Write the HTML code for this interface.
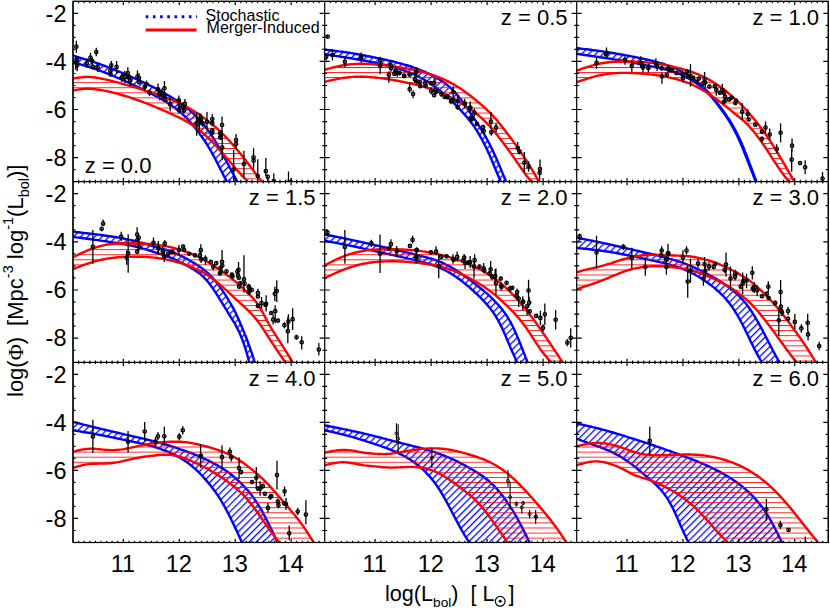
<!DOCTYPE html>
<html><head><meta charset="utf-8"><title>Luminosity functions</title>
<style>html,body{margin:0;padding:0;background:#fff;}body{width:830px;height:608px;position:relative;overflow:hidden;font-family:"Liberation Sans",sans-serif;}</style></head>
<body>
<svg width="830" height="608" viewBox="0 0 830 608" style="position:absolute;left:0;top:0">
<defs>
<pattern id="hb" patternUnits="userSpaceOnUse" width="5" height="5" patternTransform="rotate(-45) translate(0,3.8)"><line x1="-1" y1="0.5" x2="20" y2="0.5" stroke="#0000ff" stroke-width="1.55"/></pattern>
<pattern id="hr" patternUnits="userSpaceOnUse" width="5.06" height="5.06" patternTransform="translate(0,1.3)"><line x1="-1" y1="0.5" x2="20" y2="0.5" stroke="#ff0000" stroke-width="0.85" stroke-opacity="1"/></pattern>
<clipPath id="c00"><rect x="73" y="1.4" width="251.7" height="180.2"/></clipPath>
<clipPath id="c01"><rect x="324.7" y="1.4" width="252" height="180.2"/></clipPath>
<clipPath id="c02"><rect x="576.7" y="1.4" width="251.6" height="180.2"/></clipPath>
<clipPath id="c10"><rect x="73" y="181.6" width="251.7" height="180.7"/></clipPath>
<clipPath id="c11"><rect x="324.7" y="181.6" width="252" height="180.7"/></clipPath>
<clipPath id="c12"><rect x="576.7" y="181.6" width="251.6" height="180.7"/></clipPath>
<clipPath id="c20"><rect x="73" y="362.3" width="251.7" height="180.2"/></clipPath>
<clipPath id="c21"><rect x="324.7" y="362.3" width="252" height="180.2"/></clipPath>
<clipPath id="c22"><rect x="576.7" y="362.3" width="251.6" height="180.2"/></clipPath>
</defs>
<rect width="830" height="608" fill="#fff"/>
<g clip-path="url(#c00)">
<polygon points="63.8,52.9 65.4,53.3 67,53.8 68.6,54.3 70.2,54.8 71.8,55.2 73.4,55.7 75,56.2 76.6,56.7 78.1,57.1 79.7,57.6 81.3,58.1 82.9,58.6 84.5,59.1 86.1,59.6 87.6,60 89.2,60.5 90.8,61 92.4,61.6 93.9,62.1 95.5,62.6 97,63.1 98.6,63.7 100.1,64.2 101.7,64.8 103.2,65.3 104.7,65.9 106.3,66.5 107.8,67.1 109.3,67.6 110.8,68.2 112.3,68.8 113.8,69.4 115.3,70.1 116.9,70.7 118.4,71.3 119.8,71.9 121.3,72.5 122.8,73.2 124.3,73.8 125.8,74.4 127.3,75.1 128.8,75.7 130.3,76.4 131.8,77 133.2,77.7 134.7,78.3 136.2,79 137.7,79.6 139.1,80.3 140.6,81 142,81.7 143.5,82.4 145,83 146.4,83.7 147.9,84.4 149.3,85.2 150.7,85.9 152.2,86.6 153.6,87.3 155.1,88 156.5,88.8 157.9,89.5 159.3,90.3 160.7,91 162.1,91.8 163.5,92.6 164.9,93.4 166.3,94.2 167.7,95 169.1,95.8 170.4,96.6 171.8,97.5 173.2,98.3 174.5,99.2 175.9,100 177.2,100.9 178.5,101.8 179.8,102.7 181.1,103.7 182.4,104.6 183.7,105.6 185,106.5 186.3,107.5 187.5,108.5 188.8,109.6 190,110.6 191.2,111.7 192.4,112.7 193.6,113.8 194.8,115 196,116.1 197.2,117.3 198.3,118.5 199.4,119.7 200.5,120.9 201.6,122.2 202.7,123.4 203.8,124.8 204.9,126.1 205.9,127.4 206.9,128.8 208,130.2 209,131.6 210,133 211,134.4 211.9,135.9 212.9,137.4 213.9,138.9 214.8,140.4 215.7,141.9 216.7,143.4 217.6,145 218.5,146.5 219.4,148.1 220.3,149.7 221.2,151.3 222,152.9 222.9,154.5 223.8,156.2 224.7,157.8 225.5,159.4 226.4,161.1 227.2,162.7 228.1,164.4 229,166 229.8,167.6 230.7,169.3 231.6,170.9 232.4,172.5 233.3,174.1 234.2,175.8 235.1,177.4 236,179 236.8,180.6 237.7,182.2 238.6,183.8 239.5,185.4 240.4,187 241.3,188.6 242.1,190.2 243,191.8 243.9,193.4 244.8,195 245.7,196.6 246.6,198.2 247.4,199.8 248.3,201.4 249.2,203 250.1,204.7 251,206.3 251.9,207.9 252.7,209.5 253.6,211.1 254.5,212.7 255.4,214.3 256.3,215.9 257.2,217.5 258.1,219.1 258.9,220.7 259.8,222.3 260.7,223.9 261.6,225.5 251.5,227.2 250.6,225.6 249.7,224 248.8,222.3 248,220.7 247.1,219.1 246.2,217.5 245.3,215.8 244.5,214.2 243.6,212.6 242.7,211 241.9,209.4 241,207.7 240.1,206.1 239.2,204.5 238.4,202.9 237.5,201.3 236.6,199.6 235.7,198 234.9,196.4 234,194.8 233.1,193.2 232.2,191.5 231.4,189.9 230.5,188.3 229.6,186.7 228.7,185 227.9,183.4 227,181.8 226.1,180.2 225.3,178.6 224.4,176.9 223.5,175.3 222.7,173.6 221.8,172 221,170.3 220.1,168.6 219.3,166.9 218.5,165.3 217.6,163.6 216.8,161.9 215.9,160.3 215.1,158.6 214.2,157 213.3,155.4 212.4,153.8 211.6,152.2 210.7,150.6 209.7,149 208.8,147.5 207.9,146 207,144.4 206,143 205,141.5 204.1,140 203.1,138.6 202.1,137.2 201.1,135.8 200,134.4 199,133 198,131.6 197,130.3 195.9,128.9 194.9,127.6 193.8,126.3 192.7,125 191.6,123.7 190.5,122.4 189.4,121.2 188.3,119.9 187.2,118.7 186,117.6 184.9,116.4 183.7,115.3 182.5,114.2 181.3,113.1 180,112 178.8,111 177.5,110 176.3,109 175,108 173.7,107.1 172.4,106.1 171.1,105.2 169.8,104.3 168.4,103.5 167.1,102.6 165.7,101.7 164.3,100.9 163,100.1 161.6,99.3 160.2,98.5 158.8,97.7 157.4,96.9 156,96.2 154.6,95.4 153.2,94.7 151.7,93.9 150.3,93.2 148.9,92.5 147.4,91.7 146,91 144.6,90.3 143.1,89.6 141.7,88.9 140.2,88.2 138.8,87.5 137.3,86.8 135.9,86.1 134.4,85.4 133,84.7 131.5,84.1 130,83.4 128.6,82.7 127.1,82 125.6,81.4 124.1,80.7 122.7,80 121.2,79.4 119.7,78.7 118.2,78.1 116.7,77.5 115.3,76.8 113.8,76.2 112.3,75.6 110.8,74.9 109.3,74.3 107.8,73.7 106.2,73.1 104.7,72.5 103.2,71.9 101.7,71.4 100.1,70.8 98.6,70.3 97.1,69.7 95.5,69.2 94,68.6 92.4,68.1 90.8,67.6 89.3,67.1 87.7,66.6 86.1,66.1 84.5,65.6 82.9,65.1 81.3,64.7 79.8,64.2 78.2,63.7 76.6,63.2 75,62.8 73.4,62.3 71.8,61.8 70.2,61.4 68.6,60.9 67,60.4 65.4,60 63.8,59.5" fill="url(#hb)" stroke="none"/>
<polyline points="63.8,52.9 65.4,53.3 67,53.8 68.6,54.3 70.2,54.8 71.8,55.2 73.4,55.7 75,56.2 76.6,56.7 78.1,57.1 79.7,57.6 81.3,58.1 82.9,58.6 84.5,59.1 86.1,59.6 87.6,60 89.2,60.5 90.8,61 92.4,61.6 93.9,62.1 95.5,62.6 97,63.1 98.6,63.7 100.1,64.2 101.7,64.8 103.2,65.3 104.7,65.9 106.3,66.5 107.8,67.1 109.3,67.6 110.8,68.2 112.3,68.8 113.8,69.4 115.3,70.1 116.9,70.7 118.4,71.3 119.8,71.9 121.3,72.5 122.8,73.2 124.3,73.8 125.8,74.4 127.3,75.1 128.8,75.7 130.3,76.4 131.8,77 133.2,77.7 134.7,78.3 136.2,79 137.7,79.6 139.1,80.3 140.6,81 142,81.7 143.5,82.4 145,83 146.4,83.7 147.9,84.4 149.3,85.2 150.7,85.9 152.2,86.6 153.6,87.3 155.1,88 156.5,88.8 157.9,89.5 159.3,90.3 160.7,91 162.1,91.8 163.5,92.6 164.9,93.4 166.3,94.2 167.7,95 169.1,95.8 170.4,96.6 171.8,97.5 173.2,98.3 174.5,99.2 175.9,100 177.2,100.9 178.5,101.8 179.8,102.7 181.1,103.7 182.4,104.6 183.7,105.6 185,106.5 186.3,107.5 187.5,108.5 188.8,109.6 190,110.6 191.2,111.7 192.4,112.7 193.6,113.8 194.8,115 196,116.1 197.2,117.3 198.3,118.5 199.4,119.7 200.5,120.9 201.6,122.2 202.7,123.4 203.8,124.8 204.9,126.1 205.9,127.4 206.9,128.8 208,130.2 209,131.6 210,133 211,134.4 211.9,135.9 212.9,137.4 213.9,138.9 214.8,140.4 215.7,141.9 216.7,143.4 217.6,145 218.5,146.5 219.4,148.1 220.3,149.7 221.2,151.3 222,152.9 222.9,154.5 223.8,156.2 224.7,157.8 225.5,159.4 226.4,161.1 227.2,162.7 228.1,164.4 229,166 229.8,167.6 230.7,169.3 231.6,170.9 232.4,172.5 233.3,174.1 234.2,175.8 235.1,177.4 236,179 236.8,180.6 237.7,182.2 238.6,183.8 239.5,185.4 240.4,187 241.3,188.6 242.1,190.2 243,191.8 243.9,193.4 244.8,195 245.7,196.6 246.6,198.2 247.4,199.8 248.3,201.4 249.2,203 250.1,204.7 251,206.3 251.9,207.9 252.7,209.5 253.6,211.1 254.5,212.7 255.4,214.3 256.3,215.9 257.2,217.5 258.1,219.1 258.9,220.7 259.8,222.3 260.7,223.9 261.6,225.5" fill="none" stroke="#0000ff" stroke-width="2.4" stroke-linejoin="round"/>
<polyline points="63.8,59.5 65.4,60 67,60.4 68.6,60.9 70.2,61.4 71.8,61.8 73.4,62.3 75,62.8 76.6,63.2 78.2,63.7 79.8,64.2 81.3,64.7 82.9,65.1 84.5,65.6 86.1,66.1 87.7,66.6 89.3,67.1 90.8,67.6 92.4,68.1 94,68.6 95.5,69.2 97.1,69.7 98.6,70.3 100.1,70.8 101.7,71.4 103.2,71.9 104.7,72.5 106.2,73.1 107.8,73.7 109.3,74.3 110.8,74.9 112.3,75.6 113.8,76.2 115.3,76.8 116.7,77.5 118.2,78.1 119.7,78.7 121.2,79.4 122.7,80 124.1,80.7 125.6,81.4 127.1,82 128.6,82.7 130,83.4 131.5,84.1 133,84.7 134.4,85.4 135.9,86.1 137.3,86.8 138.8,87.5 140.2,88.2 141.7,88.9 143.1,89.6 144.6,90.3 146,91 147.4,91.7 148.9,92.5 150.3,93.2 151.7,93.9 153.2,94.7 154.6,95.4 156,96.2 157.4,96.9 158.8,97.7 160.2,98.5 161.6,99.3 163,100.1 164.3,100.9 165.7,101.7 167.1,102.6 168.4,103.5 169.8,104.3 171.1,105.2 172.4,106.1 173.7,107.1 175,108 176.3,109 177.5,110 178.8,111 180,112 181.3,113.1 182.5,114.2 183.7,115.3 184.9,116.4 186,117.6 187.2,118.7 188.3,119.9 189.4,121.2 190.5,122.4 191.6,123.7 192.7,125 193.8,126.3 194.9,127.6 195.9,128.9 197,130.3 198,131.6 199,133 200,134.4 201.1,135.8 202.1,137.2 203.1,138.6 204.1,140 205,141.5 206,143 207,144.4 207.9,146 208.8,147.5 209.7,149 210.7,150.6 211.6,152.2 212.4,153.8 213.3,155.4 214.2,157 215.1,158.6 215.9,160.3 216.8,161.9 217.6,163.6 218.5,165.3 219.3,166.9 220.1,168.6 221,170.3 221.8,172 222.7,173.6 223.5,175.3 224.4,176.9 225.3,178.6 226.1,180.2 227,181.8 227.9,183.4 228.7,185 229.6,186.7 230.5,188.3 231.4,189.9 232.2,191.5 233.1,193.2 234,194.8 234.9,196.4 235.7,198 236.6,199.6 237.5,201.3 238.4,202.9 239.2,204.5 240.1,206.1 241,207.7 241.9,209.4 242.7,211 243.6,212.6 244.5,214.2 245.3,215.8 246.2,217.5 247.1,219.1 248,220.7 248.8,222.3 249.7,224 250.6,225.6 251.5,227.2" fill="none" stroke="#0000ff" stroke-width="2.4" stroke-linejoin="round"/>
<polygon points="61.2,80.6 63.3,80.3 65.4,79.9 67.5,79.5 69.7,79.1 71.8,78.8 73.9,78.4 76,78 78.1,77.7 80.2,77.4 82.2,77.2 84.2,77 86.1,76.9 88,76.9 89.9,76.9 91.7,77.1 93.5,77.3 95.2,77.5 96.9,77.8 98.6,78.1 100.3,78.4 102,78.7 103.7,79.1 105.3,79.4 107,79.8 108.6,80.2 110.3,80.6 111.9,81 113.5,81.4 115.1,81.8 116.8,82.2 118.4,82.7 120,83.1 121.6,83.6 123.2,84 124.8,84.5 126.4,84.9 128,85.4 129.6,85.8 131.2,86.3 132.8,86.8 134.4,87.2 136,87.7 137.6,88.2 139.2,88.6 140.8,89.1 142.4,89.6 143.9,90.1 145.5,90.6 147.1,91.1 148.7,91.5 150.3,92 151.8,92.5 153.4,93 155,93.6 156.5,94.1 158.1,94.6 159.7,95.1 161.2,95.7 162.7,96.2 164.3,96.8 165.8,97.3 167.3,97.9 168.9,98.5 170.4,99.1 171.9,99.7 173.4,100.4 174.9,101 176.3,101.7 177.8,102.3 179.3,103 180.7,103.7 182.1,104.4 183.6,105.2 185,105.9 186.4,106.7 187.8,107.4 189.2,108.2 190.6,109 192,109.9 193.3,110.7 194.7,111.5 196,112.4 197.4,113.3 198.7,114.2 200,115.1 201.3,116 202.6,116.9 203.9,117.9 205.2,118.8 206.5,119.8 207.8,120.8 209,121.8 210.3,122.8 211.5,123.8 212.8,124.8 214,125.9 215.2,126.9 216.5,128 217.7,129.1 218.9,130.2 220,131.3 221.2,132.4 222.4,133.6 223.6,134.7 224.7,135.9 225.9,137.1 227,138.3 228.2,139.5 229.3,140.7 230.4,141.9 231.5,143.2 232.6,144.4 233.7,145.7 234.8,146.9 235.9,148.2 237,149.5 238.1,150.8 239.1,152.1 240.2,153.4 241.3,154.7 242.3,156.1 243.4,157.4 244.4,158.8 245.5,160.1 246.5,161.5 247.5,162.8 248.6,164.2 249.6,165.5 250.6,166.9 251.7,168.3 252.7,169.6 253.7,171 254.8,172.4 255.8,173.7 256.8,175.1 257.9,176.5 258.9,177.9 259.9,179.2 261,180.6 262,182 263,183.3 264,184.7 265.1,186.1 266.1,187.5 267.1,188.8 268.2,190.2 269.2,191.6 270.2,193 271.2,194.3 272.3,195.7 273.3,197.1 274.3,198.5 275.4,199.8 276.4,201.2 277.4,202.6 278.4,203.9 279.5,205.3 280.5,206.7 281.5,208.1 282.6,209.4 283.6,210.8 284.6,212.2 285.6,213.6 286.7,214.9 287.7,216.3 288.7,217.7 289.8,219 279.6,214 278.4,212.8 277.3,211.7 276.1,210.5 275,209.3 273.8,208.1 272.7,207 271.5,205.8 270.4,204.6 269.2,203.4 268.1,202.3 266.9,201.1 265.7,199.9 264.6,198.7 263.4,197.6 262.3,196.4 261.1,195.2 260,194 258.8,192.9 257.7,191.7 256.5,190.5 255.4,189.3 254.2,188.2 253.1,187 251.9,185.8 250.8,184.6 249.6,183.5 248.5,182.3 247.3,181.1 246.2,179.9 245,178.8 243.9,177.6 242.7,176.4 241.6,175.2 240.5,173.9 239.4,172.7 238.2,171.5 237.1,170.2 236,168.9 235,167.7 233.9,166.4 232.8,165.1 231.7,163.8 230.6,162.6 229.5,161.3 228.4,160 227.3,158.7 226.2,157.5 225.1,156.2 224.1,154.9 223,153.7 221.9,152.4 220.7,151.2 219.6,149.9 218.5,148.7 217.4,147.4 216.3,146.2 215.2,145 214,143.8 212.9,142.6 211.7,141.4 210.6,140.3 209.4,139.1 208.2,138 207,136.9 205.9,135.7 204.6,134.6 203.4,133.6 202.2,132.5 201,131.5 199.7,130.4 198.5,129.4 197.2,128.5 195.9,127.5 194.6,126.6 193.3,125.7 191.9,124.8 190.6,123.9 189.2,123.1 187.9,122.3 186.5,121.5 185.1,120.7 183.7,119.9 182.2,119.2 180.8,118.4 179.4,117.7 177.9,117 176.5,116.3 175,115.7 173.5,115 172.1,114.3 170.6,113.6 169.1,113 167.7,112.3 166.2,111.6 164.7,111 163.2,110.3 161.8,109.7 160.3,109.1 158.8,108.4 157.3,107.8 155.8,107.2 154.3,106.5 152.8,105.9 151.3,105.3 149.8,104.7 148.3,104.1 146.7,103.5 145.2,102.9 143.7,102.4 142.2,101.8 140.6,101.2 139.1,100.7 137.6,100.1 136,99.6 134.5,99 132.9,98.5 131.4,98 129.8,97.4 128.2,96.9 126.6,96.4 125.1,96 123.5,95.5 121.9,95 120.3,94.5 118.7,94.1 117.1,93.7 115.4,93.2 113.8,92.8 112.2,92.4 110.5,92 108.9,91.6 107.2,91.3 105.6,90.9 103.9,90.6 102.2,90.3 100.5,90 98.8,89.7 97,89.5 95.3,89.2 93.5,89 91.7,88.9 89.9,88.8 88.1,88.7 86.2,88.8 84.2,88.9 82.2,89.1 80.2,89.3 78.1,89.6 76,89.9 73.9,90.3 71.8,90.7 69.7,91 67.5,91.4 65.4,91.8 63.3,92.1 61.2,92.5" fill="url(#hr)" stroke="none"/>
<polyline points="61.2,80.6 63.3,80.3 65.4,79.9 67.5,79.5 69.7,79.1 71.8,78.8 73.9,78.4 76,78 78.1,77.7 80.2,77.4 82.2,77.2 84.2,77 86.1,76.9 88,76.9 89.9,76.9 91.7,77.1 93.5,77.3 95.2,77.5 96.9,77.8 98.6,78.1 100.3,78.4 102,78.7 103.7,79.1 105.3,79.4 107,79.8 108.6,80.2 110.3,80.6 111.9,81 113.5,81.4 115.1,81.8 116.8,82.2 118.4,82.7 120,83.1 121.6,83.6 123.2,84 124.8,84.5 126.4,84.9 128,85.4 129.6,85.8 131.2,86.3 132.8,86.8 134.4,87.2 136,87.7 137.6,88.2 139.2,88.6 140.8,89.1 142.4,89.6 143.9,90.1 145.5,90.6 147.1,91.1 148.7,91.5 150.3,92 151.8,92.5 153.4,93 155,93.6 156.5,94.1 158.1,94.6 159.7,95.1 161.2,95.7 162.7,96.2 164.3,96.8 165.8,97.3 167.3,97.9 168.9,98.5 170.4,99.1 171.9,99.7 173.4,100.4 174.9,101 176.3,101.7 177.8,102.3 179.3,103 180.7,103.7 182.1,104.4 183.6,105.2 185,105.9 186.4,106.7 187.8,107.4 189.2,108.2 190.6,109 192,109.9 193.3,110.7 194.7,111.5 196,112.4 197.4,113.3 198.7,114.2 200,115.1 201.3,116 202.6,116.9 203.9,117.9 205.2,118.8 206.5,119.8 207.8,120.8 209,121.8 210.3,122.8 211.5,123.8 212.8,124.8 214,125.9 215.2,126.9 216.5,128 217.7,129.1 218.9,130.2 220,131.3 221.2,132.4 222.4,133.6 223.6,134.7 224.7,135.9 225.9,137.1 227,138.3 228.2,139.5 229.3,140.7 230.4,141.9 231.5,143.2 232.6,144.4 233.7,145.7 234.8,146.9 235.9,148.2 237,149.5 238.1,150.8 239.1,152.1 240.2,153.4 241.3,154.7 242.3,156.1 243.4,157.4 244.4,158.8 245.5,160.1 246.5,161.5 247.5,162.8 248.6,164.2 249.6,165.5 250.6,166.9 251.7,168.3 252.7,169.6 253.7,171 254.8,172.4 255.8,173.7 256.8,175.1 257.9,176.5 258.9,177.9 259.9,179.2 261,180.6 262,182 263,183.3 264,184.7 265.1,186.1 266.1,187.5 267.1,188.8 268.2,190.2 269.2,191.6 270.2,193 271.2,194.3 272.3,195.7 273.3,197.1 274.3,198.5 275.4,199.8 276.4,201.2 277.4,202.6 278.4,203.9 279.5,205.3 280.5,206.7 281.5,208.1 282.6,209.4 283.6,210.8 284.6,212.2 285.6,213.6 286.7,214.9 287.7,216.3 288.7,217.7 289.8,219" fill="none" stroke="#ff0000" stroke-width="2.4" stroke-linejoin="round"/>
<polyline points="61.2,92.5 63.3,92.1 65.4,91.8 67.5,91.4 69.7,91 71.8,90.7 73.9,90.3 76,89.9 78.1,89.6 80.2,89.3 82.2,89.1 84.2,88.9 86.2,88.8 88.1,88.7 89.9,88.8 91.7,88.9 93.5,89 95.3,89.2 97,89.5 98.8,89.7 100.5,90 102.2,90.3 103.9,90.6 105.6,90.9 107.2,91.3 108.9,91.6 110.5,92 112.2,92.4 113.8,92.8 115.4,93.2 117.1,93.7 118.7,94.1 120.3,94.5 121.9,95 123.5,95.5 125.1,96 126.6,96.4 128.2,96.9 129.8,97.4 131.4,98 132.9,98.5 134.5,99 136,99.6 137.6,100.1 139.1,100.7 140.6,101.2 142.2,101.8 143.7,102.4 145.2,102.9 146.7,103.5 148.3,104.1 149.8,104.7 151.3,105.3 152.8,105.9 154.3,106.5 155.8,107.2 157.3,107.8 158.8,108.4 160.3,109.1 161.8,109.7 163.2,110.3 164.7,111 166.2,111.6 167.7,112.3 169.1,113 170.6,113.6 172.1,114.3 173.5,115 175,115.7 176.5,116.3 177.9,117 179.4,117.7 180.8,118.4 182.2,119.2 183.7,119.9 185.1,120.7 186.5,121.5 187.9,122.3 189.2,123.1 190.6,123.9 191.9,124.8 193.3,125.7 194.6,126.6 195.9,127.5 197.2,128.5 198.5,129.4 199.7,130.4 201,131.5 202.2,132.5 203.4,133.6 204.6,134.6 205.9,135.7 207,136.9 208.2,138 209.4,139.1 210.6,140.3 211.7,141.4 212.9,142.6 214,143.8 215.2,145 216.3,146.2 217.4,147.4 218.5,148.7 219.6,149.9 220.7,151.2 221.9,152.4 223,153.7 224.1,154.9 225.1,156.2 226.2,157.5 227.3,158.7 228.4,160 229.5,161.3 230.6,162.6 231.7,163.8 232.8,165.1 233.9,166.4 235,167.7 236,168.9 237.1,170.2 238.2,171.5 239.4,172.7 240.5,173.9 241.6,175.2 242.7,176.4 243.9,177.6 245,178.8 246.2,179.9 247.3,181.1 248.5,182.3 249.6,183.5 250.8,184.6 251.9,185.8 253.1,187 254.2,188.2 255.4,189.3 256.5,190.5 257.7,191.7 258.8,192.9 260,194 261.1,195.2 262.3,196.4 263.4,197.6 264.6,198.7 265.7,199.9 266.9,201.1 268.1,202.3 269.2,203.4 270.4,204.6 271.5,205.8 272.7,207 273.8,208.1 275,209.3 276.1,210.5 277.3,211.7 278.4,212.8 279.6,214" fill="none" stroke="#ff0000" stroke-width="2.4" stroke-linejoin="round"/>
<path d="M76.37 40.64V52.69M75.65 56.54V69.8M77.22 56.3V63.53M77.22 62.93V71.36M86.86 58.47V68.11M90.47 52.69V61.12M92.28 57.51V64.73M92.88 64.49V69.31M96.25 47.87V56.3M97.7 63.53V71.96M111.31 61.12V68.95M110.35 67.14V74.37M110.59 71.96V76.78M116.61 60.88V72.93M121.8 72.57V82.2M124.81 70.76V82.81M127.82 67.14V77.99M128.42 73.77V81M130.23 75.58V85.82M137.46 70.52V81.36M139.02 73.17V82.81M139.02 79.8V84.61M144.69 83.05V90.28M146.49 80.4V87.63M149.51 89.07V96.3M158.06 83.43V95.48M159.63 89.46V100.3M162.04 88.25V97.89M164.45 81.02V94.28M164.45 92.47V99.7M164.81 97.89V101.51M170.11 97.53V111.39M178.9 95.48V105.12M178.9 106.33V113.55M179.75 100.3V109.94M183.12 102.11V111.75M184.93 99.1V108.73M183.72 108.13V112.95M196.61 112.35V135.84M199.39 112.95V133.43M200.95 113.55V123.19M202.4 119.58V126.81M206.98 112.11V130.18M212.28 114.16V122.59M212.28 120.18V126.2M212.28 128.01V132.83M212.28 131.02V134.64M222.04 116.57V132.23M220.47 130.42V136.45M220.47 134.64V139.46M220.42 130.48V135.3M220.42 135.06V139.88M222.23 130.72V159.64M236.08 134.1V142.53M236.08 142.17V149.4M233.67 150V182.53M243.92 150.72V177.23M253.55 148.19V159.64M253.55 158.8V169.64M257.77 159.16V183.25M265.84 157.95V176.02M267.77 174.46V182.29M273.8 173.25V182.29M288.49 171.45V183.49M291.14 178.19V183.49" stroke="#000" stroke-width="1.3" fill="none"/>
<g fill="none" stroke="#000" stroke-width="1.3"><circle cx="76.37" cy="46.66" r="1.7"/><circle cx="75.65" cy="62.57" r="1.7"/><circle cx="77.22" cy="59.92" r="1.7"/><circle cx="77.22" cy="65.34" r="1.7"/><circle cx="86.86" cy="63.29" r="1.7"/><circle cx="90.47" cy="57.51" r="1.7"/><circle cx="92.28" cy="61.12" r="1.7"/><circle cx="92.88" cy="66.9" r="1.7"/><circle cx="96.25" cy="52.08" r="1.7"/><circle cx="97.7" cy="67.14" r="1.7"/><circle cx="111.31" cy="65.34" r="1.7"/><circle cx="110.35" cy="70.76" r="1.7"/><circle cx="110.59" cy="74.37" r="1.7"/><circle cx="116.61" cy="66.9" r="1.7"/><circle cx="121.8" cy="77.39" r="1.7"/><circle cx="124.81" cy="76.78" r="1.7"/><circle cx="127.82" cy="73.17" r="1.7"/><circle cx="128.42" cy="77.39" r="1.7"/><circle cx="130.23" cy="80.4" r="1.7"/><circle cx="137.46" cy="76.54" r="1.7"/><circle cx="139.02" cy="77.99" r="1.7"/><circle cx="139.02" cy="82.2" r="1.7"/><circle cx="144.69" cy="86.66" r="1.7"/><circle cx="146.49" cy="84.01" r="1.7"/><circle cx="149.51" cy="92.69" r="1.7"/><circle cx="158.06" cy="89.46" r="1.7"/><circle cx="159.63" cy="94.28" r="1.7"/><circle cx="162.04" cy="93.07" r="1.7"/><circle cx="164.45" cy="88.25" r="1.7"/><circle cx="164.45" cy="96.08" r="1.7"/><circle cx="164.81" cy="99.7" r="1.7"/><circle cx="170.11" cy="104.16" r="1.7"/><circle cx="178.9" cy="100.3" r="1.7"/><circle cx="178.9" cy="109.94" r="1.7"/><circle cx="179.75" cy="105.12" r="1.7"/><circle cx="183.12" cy="106.93" r="1.7"/><circle cx="184.93" cy="103.92" r="1.7"/><circle cx="183.72" cy="110.54" r="1.7"/><circle cx="196.61" cy="123.8" r="1.7"/><circle cx="199.39" cy="120.18" r="1.7"/><circle cx="200.95" cy="118.37" r="1.7"/><circle cx="202.4" cy="123.19" r="1.7"/><circle cx="206.98" cy="121.75" r="1.7"/><circle cx="212.28" cy="118.98" r="1.7"/><circle cx="212.28" cy="123.19" r="1.7"/><circle cx="212.28" cy="130.42" r="1.7"/><circle cx="212.28" cy="132.83" r="1.7"/><circle cx="222.04" cy="125" r="1.7"/><circle cx="220.47" cy="133.43" r="1.7"/><circle cx="220.47" cy="137.05" r="1.7"/><circle cx="220.42" cy="132.89" r="1.7"/><circle cx="220.42" cy="137.47" r="1.7"/><circle cx="222.23" cy="147.59" r="1.7"/><circle cx="236.08" cy="140.12" r="1.7"/><circle cx="236.08" cy="143.98" r="1.7"/><circle cx="233.67" cy="169.28" r="1.7"/><circle cx="243.92" cy="163.98" r="1.7"/><circle cx="253.55" cy="157.23" r="1.7"/><circle cx="253.55" cy="160.6" r="1.7"/><circle cx="257.77" cy="176.02" r="1.7"/><circle cx="265.84" cy="171.2" r="1.7"/><circle cx="267.77" cy="176.87" r="1.7"/><circle cx="273.8" cy="181.08" r="1.7"/><circle cx="288.49" cy="182.29" r="1.7"/><circle cx="291.14" cy="182.29" r="1.7"/></g>
</g>
<g clip-path="url(#c01)">
<polygon points="316.3,48.7 318,48.9 319.8,49.1 321.5,49.3 323.3,49.5 325.1,49.7 326.8,49.9 328.6,50.1 330.3,50.3 332.1,50.5 333.9,50.7 335.6,50.9 337.4,51.1 339.1,51.4 340.9,51.6 342.6,51.8 344.3,52.1 346.1,52.3 347.8,52.6 349.5,52.8 351.2,53.1 352.9,53.4 354.7,53.7 356.4,54 358.1,54.3 359.8,54.6 361.4,54.9 363.1,55.2 364.8,55.5 366.5,55.9 368.2,56.2 369.9,56.5 371.5,56.8 373.2,57.2 374.9,57.5 376.6,57.9 378.2,58.2 379.9,58.6 381.6,58.9 383.2,59.3 384.9,59.6 386.6,60 388.2,60.4 389.9,60.7 391.5,61.1 393.1,61.5 394.8,61.9 396.4,62.3 398,62.8 399.6,63.2 401.2,63.6 402.9,64.1 404.4,64.6 406,65 407.6,65.5 409.2,66 410.8,66.5 412.3,67 413.9,67.6 415.4,68.1 417,68.7 418.5,69.3 420,69.8 421.5,70.5 423,71.1 424.5,71.7 426,72.4 427.5,73 428.9,73.7 430.4,74.4 431.8,75.1 433.2,75.9 434.6,76.6 436,77.4 437.4,78.2 438.8,79 440.1,79.9 441.5,80.8 442.8,81.7 444.1,82.6 445.4,83.6 446.7,84.6 447.9,85.6 449.2,86.6 450.4,87.7 451.6,88.8 452.7,89.9 453.9,91.1 455,92.3 456.1,93.6 457.2,94.9 458.3,96.2 459.3,97.5 460.4,98.8 461.4,100.2 462.4,101.6 463.4,103 464.4,104.4 465.4,105.8 466.4,107.2 467.4,108.7 468.4,110.1 469.4,111.5 470.4,113 471.4,114.4 472.4,115.9 473.4,117.3 474.4,118.8 475.3,120.2 476.3,121.7 477.3,123.1 478.2,124.6 479.2,126.1 480.2,127.6 481.1,129.1 482,130.6 483,132.2 483.9,133.7 484.8,135.3 485.7,136.9 486.6,138.5 487.4,140.1 488.3,141.7 489.2,143.3 490,145 490.9,146.7 491.7,148.4 492.5,150.1 493.3,151.8 494.1,153.5 494.9,155.3 495.7,157 496.5,158.8 497.3,160.6 498,162.4 498.8,164.2 499.6,166 500.3,167.8 501.1,169.6 501.8,171.4 502.6,173.2 503.3,175 504.1,176.8 504.9,178.6 505.7,180.4 506.4,182.1 507.2,183.9 508,185.7 508.8,187.5 509.5,189.3 510.3,191 511.1,192.8 511.9,194.6 512.6,196.4 513.4,198.2 514.2,199.9 515,201.7 515.7,203.5 516.5,205.3 517.3,207.1 518.1,208.8 518.8,210.6 519.6,212.4 520.4,214.2 521.1,216 521.9,217.7 522.7,219.5 523.5,221.3 524.2,223.1 525,224.9 525.8,226.6 526.6,228.4 527.3,230.2 522.4,230.6 521.6,228.8 520.9,227.1 520.1,225.3 519.3,223.5 518.5,221.7 517.7,220 516.9,218.2 516.2,216.4 515.4,214.7 514.6,212.9 513.8,211.1 513,209.4 512.3,207.6 511.5,205.8 510.7,204 509.9,202.3 509.1,200.5 508.4,198.7 507.6,197 506.8,195.2 506,193.4 505.2,191.7 504.5,189.9 503.7,188.1 502.9,186.4 502.1,184.6 501.3,182.8 500.6,181 499.8,179.3 499,177.5 498.2,175.7 497.4,173.9 496.7,172.2 495.9,170.4 495.2,168.5 494.4,166.7 493.7,164.9 492.9,163.1 492.2,161.3 491.4,159.5 490.6,157.7 489.9,155.9 489.1,154.1 488.3,152.4 487.5,150.6 486.7,148.9 485.9,147.2 485,145.5 484.2,143.8 483.3,142.1 482.5,140.5 481.6,138.9 480.7,137.3 479.8,135.7 478.9,134.1 478,132.6 477.1,131.1 476.1,129.6 475.2,128.1 474.2,126.6 473.2,125.2 472.2,123.8 471.1,122.4 470.1,121.1 469,119.8 468,118.5 466.9,117.2 465.8,115.9 464.7,114.7 463.6,113.4 462.4,112.2 461.3,111 460.2,109.8 459.1,108.5 457.9,107.3 456.8,106.1 455.6,105 454.5,103.8 453.3,102.6 452.2,101.5 451,100.3 449.8,99.2 448.6,98 447.5,96.9 446.3,95.8 445,94.8 443.8,93.7 442.6,92.6 441.3,91.6 440.1,90.6 438.8,89.6 437.5,88.6 436.2,87.7 434.9,86.8 433.6,85.8 432.3,84.9 431,84 429.7,83.1 428.3,82.3 427,81.4 425.6,80.6 424.2,79.8 422.8,79 421.4,78.2 420,77.5 418.6,76.7 417.1,76 415.7,75.3 414.2,74.6 412.7,74 411.3,73.3 409.8,72.7 408.3,72.1 406.8,71.5 405.2,70.9 403.7,70.3 402.2,69.8 400.6,69.3 399,68.7 397.5,68.2 395.9,67.7 394.3,67.3 392.7,66.8 391.1,66.4 389.5,65.9 387.8,65.5 386.2,65.1 384.5,64.8 382.9,64.4 381.2,64 379.6,63.7 377.9,63.3 376.2,63 374.5,62.6 372.9,62.3 371.2,62 369.5,61.7 367.8,61.3 366.1,61 364.4,60.7 362.7,60.4 361,60.1 359.4,59.8 357.7,59.5 356,59.2 354.2,58.9 352.5,58.6 350.8,58.3 349.1,58 347.4,57.8 345.7,57.5 344,57.2 342.3,56.9 340.5,56.7 338.8,56.4 337.1,56.1 335.4,55.9 333.7,55.6 331.9,55.4 330.2,55.1 328.5,54.8 326.8,54.6 325,54.3 323.3,54.1 321.6,53.8 319.8,53.6 318.1,53.3 316.4,53.1" fill="url(#hb)" stroke="none"/>
<polyline points="316.3,48.7 318,48.9 319.8,49.1 321.5,49.3 323.3,49.5 325.1,49.7 326.8,49.9 328.6,50.1 330.3,50.3 332.1,50.5 333.9,50.7 335.6,50.9 337.4,51.1 339.1,51.4 340.9,51.6 342.6,51.8 344.3,52.1 346.1,52.3 347.8,52.6 349.5,52.8 351.2,53.1 352.9,53.4 354.7,53.7 356.4,54 358.1,54.3 359.8,54.6 361.4,54.9 363.1,55.2 364.8,55.5 366.5,55.9 368.2,56.2 369.9,56.5 371.5,56.8 373.2,57.2 374.9,57.5 376.6,57.9 378.2,58.2 379.9,58.6 381.6,58.9 383.2,59.3 384.9,59.6 386.6,60 388.2,60.4 389.9,60.7 391.5,61.1 393.1,61.5 394.8,61.9 396.4,62.3 398,62.8 399.6,63.2 401.2,63.6 402.9,64.1 404.4,64.6 406,65 407.6,65.5 409.2,66 410.8,66.5 412.3,67 413.9,67.6 415.4,68.1 417,68.7 418.5,69.3 420,69.8 421.5,70.5 423,71.1 424.5,71.7 426,72.4 427.5,73 428.9,73.7 430.4,74.4 431.8,75.1 433.2,75.9 434.6,76.6 436,77.4 437.4,78.2 438.8,79 440.1,79.9 441.5,80.8 442.8,81.7 444.1,82.6 445.4,83.6 446.7,84.6 447.9,85.6 449.2,86.6 450.4,87.7 451.6,88.8 452.7,89.9 453.9,91.1 455,92.3 456.1,93.6 457.2,94.9 458.3,96.2 459.3,97.5 460.4,98.8 461.4,100.2 462.4,101.6 463.4,103 464.4,104.4 465.4,105.8 466.4,107.2 467.4,108.7 468.4,110.1 469.4,111.5 470.4,113 471.4,114.4 472.4,115.9 473.4,117.3 474.4,118.8 475.3,120.2 476.3,121.7 477.3,123.1 478.2,124.6 479.2,126.1 480.2,127.6 481.1,129.1 482,130.6 483,132.2 483.9,133.7 484.8,135.3 485.7,136.9 486.6,138.5 487.4,140.1 488.3,141.7 489.2,143.3 490,145 490.9,146.7 491.7,148.4 492.5,150.1 493.3,151.8 494.1,153.5 494.9,155.3 495.7,157 496.5,158.8 497.3,160.6 498,162.4 498.8,164.2 499.6,166 500.3,167.8 501.1,169.6 501.8,171.4 502.6,173.2 503.3,175 504.1,176.8 504.9,178.6 505.7,180.4 506.4,182.1 507.2,183.9 508,185.7 508.8,187.5 509.5,189.3 510.3,191 511.1,192.8 511.9,194.6 512.6,196.4 513.4,198.2 514.2,199.9 515,201.7 515.7,203.5 516.5,205.3 517.3,207.1 518.1,208.8 518.8,210.6 519.6,212.4 520.4,214.2 521.1,216 521.9,217.7 522.7,219.5 523.5,221.3 524.2,223.1 525,224.9 525.8,226.6 526.6,228.4 527.3,230.2" fill="none" stroke="#0000ff" stroke-width="2.4" stroke-linejoin="round"/>
<polyline points="316.4,53.1 318.1,53.3 319.8,53.6 321.6,53.8 323.3,54.1 325,54.3 326.8,54.6 328.5,54.8 330.2,55.1 331.9,55.4 333.7,55.6 335.4,55.9 337.1,56.1 338.8,56.4 340.5,56.7 342.3,56.9 344,57.2 345.7,57.5 347.4,57.8 349.1,58 350.8,58.3 352.5,58.6 354.2,58.9 356,59.2 357.7,59.5 359.4,59.8 361,60.1 362.7,60.4 364.4,60.7 366.1,61 367.8,61.3 369.5,61.7 371.2,62 372.9,62.3 374.5,62.6 376.2,63 377.9,63.3 379.6,63.7 381.2,64 382.9,64.4 384.5,64.8 386.2,65.1 387.8,65.5 389.5,65.9 391.1,66.4 392.7,66.8 394.3,67.3 395.9,67.7 397.5,68.2 399,68.7 400.6,69.3 402.2,69.8 403.7,70.3 405.2,70.9 406.8,71.5 408.3,72.1 409.8,72.7 411.3,73.3 412.7,74 414.2,74.6 415.7,75.3 417.1,76 418.6,76.7 420,77.5 421.4,78.2 422.8,79 424.2,79.8 425.6,80.6 427,81.4 428.3,82.3 429.7,83.1 431,84 432.3,84.9 433.6,85.8 434.9,86.8 436.2,87.7 437.5,88.6 438.8,89.6 440.1,90.6 441.3,91.6 442.6,92.6 443.8,93.7 445,94.8 446.3,95.8 447.5,96.9 448.6,98 449.8,99.2 451,100.3 452.2,101.5 453.3,102.6 454.5,103.8 455.6,105 456.8,106.1 457.9,107.3 459.1,108.5 460.2,109.8 461.3,111 462.4,112.2 463.6,113.4 464.7,114.7 465.8,115.9 466.9,117.2 468,118.5 469,119.8 470.1,121.1 471.1,122.4 472.2,123.8 473.2,125.2 474.2,126.6 475.2,128.1 476.1,129.6 477.1,131.1 478,132.6 478.9,134.1 479.8,135.7 480.7,137.3 481.6,138.9 482.5,140.5 483.3,142.1 484.2,143.8 485,145.5 485.9,147.2 486.7,148.9 487.5,150.6 488.3,152.4 489.1,154.1 489.9,155.9 490.6,157.7 491.4,159.5 492.2,161.3 492.9,163.1 493.7,164.9 494.4,166.7 495.2,168.5 495.9,170.4 496.7,172.2 497.4,173.9 498.2,175.7 499,177.5 499.8,179.3 500.6,181 501.3,182.8 502.1,184.6 502.9,186.4 503.7,188.1 504.5,189.9 505.2,191.7 506,193.4 506.8,195.2 507.6,197 508.4,198.7 509.1,200.5 509.9,202.3 510.7,204 511.5,205.8 512.3,207.6 513,209.4 513.8,211.1 514.6,212.9 515.4,214.7 516.2,216.4 516.9,218.2 517.7,220 518.5,221.7 519.3,223.5 520.1,225.3 520.9,227.1 521.6,228.8 522.4,230.6" fill="none" stroke="#0000ff" stroke-width="2.4" stroke-linejoin="round"/>
<polygon points="313.9,72.7 316.2,72.1 318.5,71.4 320.8,70.8 323,70.2 325.3,69.5 327.6,68.9 329.9,68.3 332.1,67.7 334.4,67.1 336.6,66.6 338.8,66.1 340.9,65.7 343.1,65.3 345.2,65 347.2,64.7 349.3,64.4 351.3,64.2 353.3,64.1 355.2,64 357.2,63.9 359.1,63.8 361,63.8 362.9,63.8 364.7,63.9 366.6,63.9 368.4,64 370.2,64.1 372,64.2 373.8,64.4 375.6,64.5 377.4,64.7 379.2,64.8 381,65 382.8,65.2 384.6,65.3 386.3,65.5 388.1,65.7 389.8,65.9 391.6,66.1 393.3,66.4 395.1,66.6 396.8,66.9 398.5,67.1 400.2,67.4 402,67.7 403.7,68 405.4,68.3 407.1,68.6 408.8,68.9 410.4,69.2 412.1,69.6 413.8,69.9 415.4,70.3 417.1,70.6 418.7,71 420.4,71.4 422,71.8 423.6,72.3 425.2,72.7 426.8,73.2 428.4,73.7 430,74.1 431.6,74.6 433.1,75.2 434.7,75.7 436.2,76.3 437.7,76.8 439.3,77.4 440.8,78.1 442.3,78.7 443.7,79.3 445.2,80 446.7,80.7 448.1,81.4 449.5,82.1 450.9,82.9 452.3,83.7 453.7,84.4 455.1,85.2 456.5,86.1 457.9,86.9 459.2,87.8 460.6,88.6 461.9,89.5 463.2,90.4 464.5,91.3 465.8,92.3 467.1,93.2 468.4,94.2 469.7,95.2 471,96.1 472.2,97.2 473.5,98.2 474.7,99.2 476,100.2 477.2,101.3 478.4,102.3 479.7,103.3 480.9,104.4 482.1,105.4 483.4,106.5 484.6,107.6 485.8,108.7 487,109.8 488.2,110.9 489.3,112 490.5,113.2 491.7,114.4 492.8,115.6 493.9,116.8 495,118.1 496.1,119.3 497.2,120.6 498.2,121.9 499.3,123.3 500.4,124.6 501.4,125.9 502.5,127.2 503.5,128.6 504.6,129.9 505.6,131.3 506.7,132.6 507.7,134 508.7,135.3 509.8,136.7 510.8,138.1 511.8,139.4 512.8,140.8 513.9,142.2 514.9,143.6 515.9,145 516.9,146.4 517.9,147.9 518.9,149.3 519.9,150.7 520.9,152.2 521.8,153.6 522.8,155.1 523.8,156.5 524.7,158 525.7,159.5 526.7,161 527.6,162.5 528.6,164 529.5,165.5 530.4,167 531.4,168.6 532.3,170.1 533.2,171.6 534.1,173.2 535.1,174.7 536,176.3 536.9,177.8 537.8,179.4 538.7,180.9 539.6,182.5 540.5,184.1 541.5,185.6 542.4,187.2 543.3,188.7 544.2,190.3 545.1,191.8 546,193.4 546.9,195 547.9,196.5 548.8,198.1 549.7,199.6 550.6,201.2 551.5,202.8 552.4,204.3 553.3,205.9 554.2,207.4 555.2,209 556.1,210.5 557,212.1 557.9,213.7 558.8,215.2 559.7,216.8 560.6,218.3 561.6,219.9 562.5,221.4 563.4,223 564.3,224.6 561.3,217.3 560.2,216 559.1,214.7 558,213.4 557,212.1 555.9,210.8 554.8,209.5 553.7,208.3 552.6,207 551.5,205.7 550.5,204.4 549.4,203.1 548.3,201.8 547.2,200.5 546.1,199.2 545.1,197.9 544,196.6 542.9,195.4 541.8,194.1 540.7,192.8 539.7,191.5 538.6,190.2 537.5,188.9 536.4,187.6 535.3,186.3 534.3,185 533.2,183.7 532.1,182.5 531,181.2 529.9,179.9 528.9,178.6 527.8,177.3 526.7,175.9 525.7,174.6 524.7,173.2 523.7,171.8 522.7,170.4 521.7,169 520.7,167.5 519.7,166.1 518.7,164.7 517.7,163.2 516.7,161.8 515.7,160.3 514.7,158.9 513.7,157.5 512.8,156 511.8,154.6 510.8,153.2 509.7,151.8 508.7,150.4 507.7,149 506.7,147.6 505.7,146.2 504.7,144.8 503.6,143.5 502.6,142.1 501.6,140.7 500.5,139.4 499.5,138 498.4,136.7 497.4,135.3 496.3,134 495.3,132.7 494.2,131.4 493.1,130.1 492,128.8 490.9,127.6 489.8,126.3 488.7,125.1 487.5,123.9 486.4,122.7 485.2,121.6 484.1,120.4 482.9,119.3 481.7,118.2 480.5,117.1 479.2,116.1 478,115 476.8,114 475.5,113 474.2,112 472.9,111.1 471.6,110.1 470.3,109.2 469,108.3 467.7,107.4 466.4,106.5 465,105.6 463.7,104.8 462.3,103.9 460.9,103.1 459.6,102.3 458.2,101.5 456.8,100.7 455.4,99.9 454,99.1 452.6,98.3 451.2,97.6 449.8,96.8 448.3,96.1 446.9,95.4 445.4,94.7 444,94 442.5,93.4 441,92.8 439.5,92.1 438,91.5 436.5,91 434.9,90.4 433.4,89.8 431.8,89.3 430.3,88.8 428.7,88.3 427.1,87.8 425.5,87.3 423.9,86.9 422.3,86.4 420.7,86 419.1,85.5 417.5,85.1 415.8,84.7 414.2,84.3 412.5,83.9 410.9,83.6 409.2,83.2 407.6,82.8 405.9,82.5 404.2,82.1 402.6,81.8 400.9,81.5 399.2,81.1 397.5,80.8 395.8,80.5 394.1,80.2 392.4,79.9 390.7,79.6 389,79.3 387.3,79.1 385.5,78.8 383.8,78.6 382.1,78.3 380.3,78.1 378.6,77.9 376.8,77.7 375,77.5 373.3,77.4 371.5,77.2 369.7,77.1 367.9,76.9 366,76.8 364.2,76.8 362.3,76.7 360.5,76.7 358.6,76.7 356.7,76.7 354.7,76.8 352.8,76.9 350.8,77.1 348.8,77.2 346.8,77.5 344.7,77.7 342.7,78 340.6,78.4 338.4,78.7 336.3,79.2 334.1,79.6 331.9,80.1 329.7,80.6 327.5,81.2 325.3,81.7 323,82.2 320.8,82.8 318.6,83.3 316.4,83.9 314.1,84.4" fill="url(#hr)" stroke="none"/>
<polyline points="313.9,72.7 316.2,72.1 318.5,71.4 320.8,70.8 323,70.2 325.3,69.5 327.6,68.9 329.9,68.3 332.1,67.7 334.4,67.1 336.6,66.6 338.8,66.1 340.9,65.7 343.1,65.3 345.2,65 347.2,64.7 349.3,64.4 351.3,64.2 353.3,64.1 355.2,64 357.2,63.9 359.1,63.8 361,63.8 362.9,63.8 364.7,63.9 366.6,63.9 368.4,64 370.2,64.1 372,64.2 373.8,64.4 375.6,64.5 377.4,64.7 379.2,64.8 381,65 382.8,65.2 384.6,65.3 386.3,65.5 388.1,65.7 389.8,65.9 391.6,66.1 393.3,66.4 395.1,66.6 396.8,66.9 398.5,67.1 400.2,67.4 402,67.7 403.7,68 405.4,68.3 407.1,68.6 408.8,68.9 410.4,69.2 412.1,69.6 413.8,69.9 415.4,70.3 417.1,70.6 418.7,71 420.4,71.4 422,71.8 423.6,72.3 425.2,72.7 426.8,73.2 428.4,73.7 430,74.1 431.6,74.6 433.1,75.2 434.7,75.7 436.2,76.3 437.7,76.8 439.3,77.4 440.8,78.1 442.3,78.7 443.7,79.3 445.2,80 446.7,80.7 448.1,81.4 449.5,82.1 450.9,82.9 452.3,83.7 453.7,84.4 455.1,85.2 456.5,86.1 457.9,86.9 459.2,87.8 460.6,88.6 461.9,89.5 463.2,90.4 464.5,91.3 465.8,92.3 467.1,93.2 468.4,94.2 469.7,95.2 471,96.1 472.2,97.2 473.5,98.2 474.7,99.2 476,100.2 477.2,101.3 478.4,102.3 479.7,103.3 480.9,104.4 482.1,105.4 483.4,106.5 484.6,107.6 485.8,108.7 487,109.8 488.2,110.9 489.3,112 490.5,113.2 491.7,114.4 492.8,115.6 493.9,116.8 495,118.1 496.1,119.3 497.2,120.6 498.2,121.9 499.3,123.3 500.4,124.6 501.4,125.9 502.5,127.2 503.5,128.6 504.6,129.9 505.6,131.3 506.7,132.6 507.7,134 508.7,135.3 509.8,136.7 510.8,138.1 511.8,139.4 512.8,140.8 513.9,142.2 514.9,143.6 515.9,145 516.9,146.4 517.9,147.9 518.9,149.3 519.9,150.7 520.9,152.2 521.8,153.6 522.8,155.1 523.8,156.5 524.7,158 525.7,159.5 526.7,161 527.6,162.5 528.6,164 529.5,165.5 530.4,167 531.4,168.6 532.3,170.1 533.2,171.6 534.1,173.2 535.1,174.7 536,176.3 536.9,177.8 537.8,179.4 538.7,180.9 539.6,182.5 540.5,184.1 541.5,185.6 542.4,187.2 543.3,188.7 544.2,190.3 545.1,191.8 546,193.4 546.9,195 547.9,196.5 548.8,198.1 549.7,199.6 550.6,201.2 551.5,202.8 552.4,204.3 553.3,205.9 554.2,207.4 555.2,209 556.1,210.5 557,212.1 557.9,213.7 558.8,215.2 559.7,216.8 560.6,218.3 561.6,219.9 562.5,221.4 563.4,223 564.3,224.6" fill="none" stroke="#ff0000" stroke-width="2.4" stroke-linejoin="round"/>
<polyline points="314.1,84.4 316.4,83.9 318.6,83.3 320.8,82.8 323,82.2 325.3,81.7 327.5,81.2 329.7,80.6 331.9,80.1 334.1,79.6 336.3,79.2 338.4,78.7 340.6,78.4 342.7,78 344.7,77.7 346.8,77.5 348.8,77.2 350.8,77.1 352.8,76.9 354.7,76.8 356.7,76.7 358.6,76.7 360.5,76.7 362.3,76.7 364.2,76.8 366,76.8 367.9,76.9 369.7,77.1 371.5,77.2 373.3,77.4 375,77.5 376.8,77.7 378.6,77.9 380.3,78.1 382.1,78.3 383.8,78.6 385.5,78.8 387.3,79.1 389,79.3 390.7,79.6 392.4,79.9 394.1,80.2 395.8,80.5 397.5,80.8 399.2,81.1 400.9,81.5 402.6,81.8 404.2,82.1 405.9,82.5 407.6,82.8 409.2,83.2 410.9,83.6 412.5,83.9 414.2,84.3 415.8,84.7 417.5,85.1 419.1,85.5 420.7,86 422.3,86.4 423.9,86.9 425.5,87.3 427.1,87.8 428.7,88.3 430.3,88.8 431.8,89.3 433.4,89.8 434.9,90.4 436.5,91 438,91.5 439.5,92.1 441,92.8 442.5,93.4 444,94 445.4,94.7 446.9,95.4 448.3,96.1 449.8,96.8 451.2,97.6 452.6,98.3 454,99.1 455.4,99.9 456.8,100.7 458.2,101.5 459.6,102.3 460.9,103.1 462.3,103.9 463.7,104.8 465,105.6 466.4,106.5 467.7,107.4 469,108.3 470.3,109.2 471.6,110.1 472.9,111.1 474.2,112 475.5,113 476.8,114 478,115 479.2,116.1 480.5,117.1 481.7,118.2 482.9,119.3 484.1,120.4 485.2,121.6 486.4,122.7 487.5,123.9 488.7,125.1 489.8,126.3 490.9,127.6 492,128.8 493.1,130.1 494.2,131.4 495.3,132.7 496.3,134 497.4,135.3 498.4,136.7 499.5,138 500.5,139.4 501.6,140.7 502.6,142.1 503.6,143.5 504.7,144.8 505.7,146.2 506.7,147.6 507.7,149 508.7,150.4 509.7,151.8 510.8,153.2 511.8,154.6 512.8,156 513.7,157.5 514.7,158.9 515.7,160.3 516.7,161.8 517.7,163.2 518.7,164.7 519.7,166.1 520.7,167.5 521.7,169 522.7,170.4 523.7,171.8 524.7,173.2 525.7,174.6 526.7,175.9 527.8,177.3 528.9,178.6 529.9,179.9 531,181.2 532.1,182.5 533.2,183.7 534.3,185 535.3,186.3 536.4,187.6 537.5,188.9 538.6,190.2 539.7,191.5 540.7,192.8 541.8,194.1 542.9,195.4 544,196.6 545.1,197.9 546.1,199.2 547.2,200.5 548.3,201.8 549.4,203.1 550.5,204.4 551.5,205.7 552.6,207 553.7,208.3 554.8,209.5 555.9,210.8 557,212.1 558,213.4 559.1,214.7 560.2,216 561.3,217.3" fill="none" stroke="#ff0000" stroke-width="2.4" stroke-linejoin="round"/>
<path d="M327.65 35.34V37.75M326.2 54.37V60.4M332.47 49.55V60.4M344.88 56.42V67.27M361.14 52.57V59.8M361.14 55.34V62.57M380.18 56.78V64.01M380.18 63.41V74.25M390.66 60.4V70.04M391.02 64.61V71.84M388.86 71.24V82.69M395.48 65.82V76.06M394.28 71.24V76.06M397.29 69.43V76.66M399.46 71.24V74.86M404.28 74.01V77.63M409.7 71.84V76.66M416.2 67.63V77.27M395.6 66.3V75.94M399.22 71.12V74.73M404.04 74.13V77.75M409.7 72.69V76.3M416.08 67.27V76.9M414.88 75.7V82.93M416.69 78.95V83.77M419.7 80.16V83.77M420.3 84.37V87.99M409.7 82.57V92.81M413.07 90.4V98.23M425.12 80.76V85.58M425.72 84.01V87.63M430.9 81.36V84.98M434.16 78.11V85.34M431.14 87.39V94.61M434.76 86.78V94.01M436.57 89.19V94.01M434.16 93.41V97.02M441.39 91V97.02M444.64 95.22V98.83M447.05 93.65V99.67M453.19 86.18V98.23M451.02 98.23V104.25M452.83 97.63V102.45M457.65 95.82V108.47M457.65 104.86V109.67M464.64 98.83V108.47M470.3 101.48V112.33M465 102.05V105.66M470.06 102.65V111.69M474.4 108.43V116.27M470.42 117.11V120.72M472.47 116.51V120.12M477.05 122.17V125.78M483.07 124.7V129.52M483.67 129.16V132.77M490.9 111.93V128.8M491.27 129.76V135.78M496.08 123.37V132.41M517.71 141.93V151.57M519.52 149.16V154.58M524.34 151.93V172.41M528.55 160.96V171.81M540 159.4V172.65M539.64 170.48V181.33" stroke="#000" stroke-width="1.3" fill="none"/>
<g fill="none" stroke="#000" stroke-width="1.3"><circle cx="327.65" cy="36.54" r="1.7"/><circle cx="326.2" cy="56.78" r="1.7"/><circle cx="332.47" cy="54.98" r="1.7"/><circle cx="344.88" cy="61.84" r="1.7"/><circle cx="361.14" cy="56.18" r="1.7"/><circle cx="361.14" cy="57.75" r="1.7"/><circle cx="380.18" cy="60.4" r="1.7"/><circle cx="380.18" cy="65.82" r="1.7"/><circle cx="390.66" cy="65.22" r="1.7"/><circle cx="391.02" cy="68.23" r="1.7"/><circle cx="388.86" cy="74.86" r="1.7"/><circle cx="395.48" cy="71.24" r="1.7"/><circle cx="394.28" cy="73.65" r="1.7"/><circle cx="397.29" cy="73.05" r="1.7"/><circle cx="399.46" cy="73.05" r="1.7"/><circle cx="404.28" cy="75.82" r="1.7"/><circle cx="409.7" cy="74.25" r="1.7"/><circle cx="416.2" cy="72.45" r="1.7"/><circle cx="395.6" cy="71.12" r="1.7"/><circle cx="399.22" cy="72.93" r="1.7"/><circle cx="404.04" cy="75.94" r="1.7"/><circle cx="409.7" cy="74.49" r="1.7"/><circle cx="416.08" cy="72.08" r="1.7"/><circle cx="414.88" cy="79.31" r="1.7"/><circle cx="416.69" cy="81.36" r="1.7"/><circle cx="419.7" cy="81.96" r="1.7"/><circle cx="420.3" cy="86.18" r="1.7"/><circle cx="409.7" cy="89.19" r="1.7"/><circle cx="413.07" cy="94.01" r="1.7"/><circle cx="425.12" cy="83.17" r="1.7"/><circle cx="425.72" cy="85.82" r="1.7"/><circle cx="430.9" cy="83.17" r="1.7"/><circle cx="434.16" cy="82.93" r="1.7"/><circle cx="431.14" cy="91" r="1.7"/><circle cx="434.76" cy="90.4" r="1.7"/><circle cx="436.57" cy="91.6" r="1.7"/><circle cx="434.16" cy="95.22" r="1.7"/><circle cx="441.39" cy="94.01" r="1.7"/><circle cx="444.64" cy="97.02" r="1.7"/><circle cx="447.05" cy="96.66" r="1.7"/><circle cx="453.19" cy="92.2" r="1.7"/><circle cx="451.02" cy="101.24" r="1.7"/><circle cx="452.83" cy="100.04" r="1.7"/><circle cx="457.65" cy="101.24" r="1.7"/><circle cx="457.65" cy="107.27" r="1.7"/><circle cx="464.64" cy="103.65" r="1.7"/><circle cx="470.3" cy="107.51" r="1.7"/><circle cx="465" cy="103.86" r="1.7"/><circle cx="470.06" cy="108.07" r="1.7"/><circle cx="474.4" cy="112.65" r="1.7"/><circle cx="470.42" cy="118.92" r="1.7"/><circle cx="472.47" cy="118.31" r="1.7"/><circle cx="477.05" cy="123.98" r="1.7"/><circle cx="483.07" cy="127.11" r="1.7"/><circle cx="483.67" cy="130.96" r="1.7"/><circle cx="490.9" cy="121.57" r="1.7"/><circle cx="491.27" cy="132.17" r="1.7"/><circle cx="496.08" cy="127.59" r="1.7"/><circle cx="517.71" cy="147.95" r="1.7"/><circle cx="519.52" cy="151.57" r="1.7"/><circle cx="524.34" cy="162.77" r="1.7"/><circle cx="528.55" cy="166.39" r="1.7"/><circle cx="540" cy="169.04" r="1.7"/><circle cx="539.64" cy="172.89" r="1.7"/></g>
</g>
<g clip-path="url(#c02)">
<polygon points="562.2,46.4 564,46.6 565.8,46.8 567.5,47 569.3,47.2 571,47.4 572.8,47.6 574.6,47.8 576.3,48 578.1,48.2 579.8,48.4 581.6,48.7 583.4,48.9 585.1,49.1 586.9,49.3 588.6,49.5 590.4,49.7 592.1,50 593.9,50.2 595.6,50.4 597.3,50.7 599.1,50.9 600.8,51.1 602.5,51.4 604.3,51.7 606,51.9 607.7,52.2 609.4,52.5 611.1,52.7 612.8,53 614.5,53.3 616.2,53.6 617.9,53.9 619.6,54.2 621.3,54.5 623,54.8 624.7,55.1 626.4,55.4 628.1,55.7 629.8,56 631.5,56.4 633.2,56.7 634.9,57 636.5,57.3 638.2,57.7 639.9,58 641.6,58.4 643.2,58.7 644.9,59.1 646.5,59.5 648.2,59.8 649.8,60.2 651.5,60.6 653.1,61 654.7,61.4 656.4,61.9 658,62.3 659.6,62.8 661.2,63.2 662.7,63.7 664.3,64.2 665.9,64.8 667.4,65.3 668.9,65.9 670.5,66.5 672,67.1 673.5,67.7 674.9,68.4 676.4,69 677.9,69.7 679.3,70.4 680.7,71.2 682.1,71.9 683.5,72.7 684.9,73.5 686.3,74.3 687.7,75.1 689,76 690.4,76.8 691.7,77.7 693,78.7 694.3,79.6 695.6,80.6 696.9,81.6 698.1,82.6 699.4,83.6 700.6,84.7 701.8,85.7 703,86.9 704.2,88 705.3,89.1 706.5,90.3 707.6,91.5 708.7,92.8 709.9,94 711,95.3 712,96.5 713.1,97.8 714.2,99.1 715.2,100.5 716.3,101.8 717.4,103.1 718.4,104.5 719.4,105.9 720.5,107.2 721.5,108.6 722.5,110 723.5,111.4 724.5,112.8 725.5,114.2 726.5,115.6 727.5,117.1 728.5,118.5 729.5,120 730.4,121.5 731.3,123 732.2,124.6 733.2,126.2 734,127.8 734.9,129.4 735.8,131 736.6,132.7 737.5,134.4 738.3,136.1 739.1,137.8 739.9,139.5 740.7,141.3 741.5,143 742.2,144.8 743,146.6 743.8,148.5 744.5,150.3 745.2,152.1 746,154 746.7,155.8 747.4,157.7 748.1,159.6 748.8,161.5 749.5,163.3 750.3,165.2 751,167.1 751.7,169 752.4,170.9 753.1,172.7 753.8,174.6 754.5,176.5 755.3,178.4 756,180.2 756.7,182.1 757.4,184 758.1,185.8 758.8,187.7 759.6,189.6 760.3,191.5 761,193.3 761.7,195.2 762.4,197.1 763.1,198.9 763.9,200.8 764.6,202.7 765.3,204.6 766,206.4 766.7,208.3 767.4,210.2 768.2,212.1 768.9,213.9 769.6,215.8 770.3,217.7 771,219.5 771.7,221.4 772.5,223.3 773.2,225.2 773.9,227 774.6,228.9 775.3,230.8 776,232.7 775.8,232.6 775.1,230.8 774.3,228.9 773.6,227.1 772.9,225.2 772.1,223.4 771.4,221.5 770.7,219.6 770,217.8 769.2,215.9 768.5,214.1 767.8,212.2 767,210.4 766.3,208.5 765.6,206.7 764.9,204.8 764.1,203 763.4,201.1 762.7,199.3 761.9,197.4 761.2,195.6 760.5,193.7 759.7,191.9 759,190 758.3,188.2 757.6,186.3 756.8,184.5 756.1,182.6 755.4,180.8 754.6,178.9 753.9,177.1 753.2,175.2 752.5,173.3 751.7,171.5 751,169.6 750.3,167.8 749.6,165.9 748.8,164 748.1,162.2 747.4,160.3 746.7,158.4 746,156.6 745.2,154.7 744.5,152.8 743.8,151 743,149.2 742.3,147.3 741.5,145.5 740.8,143.7 740,142 739.2,140.2 738.4,138.5 737.6,136.7 736.8,135 735.9,133.3 735.1,131.7 734.2,130 733.4,128.4 732.5,126.8 731.6,125.2 730.7,123.6 729.8,122.1 728.8,120.6 727.9,119.1 726.9,117.6 725.9,116.1 725,114.7 724,113.3 723,111.9 721.9,110.5 720.9,109.1 719.9,107.7 718.9,106.3 717.8,104.9 716.8,103.6 715.8,102.2 714.7,100.9 713.6,99.6 712.6,98.3 711.5,97 710.4,95.7 709.3,94.5 708.1,93.3 707,92.1 705.8,91 704.6,89.8 703.4,88.7 702.2,87.7 701,86.6 699.7,85.6 698.4,84.7 697.1,83.7 695.8,82.8 694.5,81.9 693.1,81.1 691.8,80.2 690.4,79.4 689,78.6 687.6,77.9 686.2,77.1 684.7,76.4 683.3,75.7 681.8,75.1 680.3,74.4 678.8,73.8 677.3,73.2 675.8,72.6 674.2,72.1 672.7,71.6 671.1,71.1 669.5,70.6 667.9,70.1 666.3,69.7 664.7,69.3 663,68.9 661.4,68.5 659.7,68.1 658.1,67.7 656.4,67.4 654.7,67 653.1,66.7 651.4,66.4 649.7,66 648,65.7 646.4,65.4 644.7,65 643,64.7 641.3,64.3 639.7,64 638,63.7 636.3,63.3 634.6,63 632.9,62.7 631.3,62.4 629.6,62 627.9,61.7 626.2,61.4 624.5,61.1 622.8,60.8 621.1,60.5 619.4,60.2 617.7,59.9 616,59.6 614.2,59.4 612.5,59.1 610.8,58.8 609.1,58.6 607.4,58.3 605.7,58 603.9,57.8 602.2,57.5 600.5,57.3 598.8,57 597,56.7 595.3,56.5 593.6,56.2 591.8,56 590.1,55.7 588.4,55.5 586.7,55.2 584.9,55 583.2,54.7 581.5,54.5 579.7,54.2 578,54 576.2,53.8 574.5,53.5 572.8,53.3 571,53 569.3,52.8 567.6,52.6 565.8,52.3 564.1,52.1 562.3,51.8" fill="url(#hb)" stroke="none"/>
<polyline points="562.2,46.4 564,46.6 565.8,46.8 567.5,47 569.3,47.2 571,47.4 572.8,47.6 574.6,47.8 576.3,48 578.1,48.2 579.8,48.4 581.6,48.7 583.4,48.9 585.1,49.1 586.9,49.3 588.6,49.5 590.4,49.7 592.1,50 593.9,50.2 595.6,50.4 597.3,50.7 599.1,50.9 600.8,51.1 602.5,51.4 604.3,51.7 606,51.9 607.7,52.2 609.4,52.5 611.1,52.7 612.8,53 614.5,53.3 616.2,53.6 617.9,53.9 619.6,54.2 621.3,54.5 623,54.8 624.7,55.1 626.4,55.4 628.1,55.7 629.8,56 631.5,56.4 633.2,56.7 634.9,57 636.5,57.3 638.2,57.7 639.9,58 641.6,58.4 643.2,58.7 644.9,59.1 646.5,59.5 648.2,59.8 649.8,60.2 651.5,60.6 653.1,61 654.7,61.4 656.4,61.9 658,62.3 659.6,62.8 661.2,63.2 662.7,63.7 664.3,64.2 665.9,64.8 667.4,65.3 668.9,65.9 670.5,66.5 672,67.1 673.5,67.7 674.9,68.4 676.4,69 677.9,69.7 679.3,70.4 680.7,71.2 682.1,71.9 683.5,72.7 684.9,73.5 686.3,74.3 687.7,75.1 689,76 690.4,76.8 691.7,77.7 693,78.7 694.3,79.6 695.6,80.6 696.9,81.6 698.1,82.6 699.4,83.6 700.6,84.7 701.8,85.7 703,86.9 704.2,88 705.3,89.1 706.5,90.3 707.6,91.5 708.7,92.8 709.9,94 711,95.3 712,96.5 713.1,97.8 714.2,99.1 715.2,100.5 716.3,101.8 717.4,103.1 718.4,104.5 719.4,105.9 720.5,107.2 721.5,108.6 722.5,110 723.5,111.4 724.5,112.8 725.5,114.2 726.5,115.6 727.5,117.1 728.5,118.5 729.5,120 730.4,121.5 731.3,123 732.2,124.6 733.2,126.2 734,127.8 734.9,129.4 735.8,131 736.6,132.7 737.5,134.4 738.3,136.1 739.1,137.8 739.9,139.5 740.7,141.3 741.5,143 742.2,144.8 743,146.6 743.8,148.5 744.5,150.3 745.2,152.1 746,154 746.7,155.8 747.4,157.7 748.1,159.6 748.8,161.5 749.5,163.3 750.3,165.2 751,167.1 751.7,169 752.4,170.9 753.1,172.7 753.8,174.6 754.5,176.5 755.3,178.4 756,180.2 756.7,182.1 757.4,184 758.1,185.8 758.8,187.7 759.6,189.6 760.3,191.5 761,193.3 761.7,195.2 762.4,197.1 763.1,198.9 763.9,200.8 764.6,202.7 765.3,204.6 766,206.4 766.7,208.3 767.4,210.2 768.2,212.1 768.9,213.9 769.6,215.8 770.3,217.7 771,219.5 771.7,221.4 772.5,223.3 773.2,225.2 773.9,227 774.6,228.9 775.3,230.8 776,232.7" fill="none" stroke="#0000ff" stroke-width="2.4" stroke-linejoin="round"/>
<polyline points="562.3,51.8 564.1,52.1 565.8,52.3 567.6,52.6 569.3,52.8 571,53 572.8,53.3 574.5,53.5 576.2,53.8 578,54 579.7,54.2 581.5,54.5 583.2,54.7 584.9,55 586.7,55.2 588.4,55.5 590.1,55.7 591.8,56 593.6,56.2 595.3,56.5 597,56.7 598.8,57 600.5,57.3 602.2,57.5 603.9,57.8 605.7,58 607.4,58.3 609.1,58.6 610.8,58.8 612.5,59.1 614.2,59.4 616,59.6 617.7,59.9 619.4,60.2 621.1,60.5 622.8,60.8 624.5,61.1 626.2,61.4 627.9,61.7 629.6,62 631.3,62.4 632.9,62.7 634.6,63 636.3,63.3 638,63.7 639.7,64 641.3,64.3 643,64.7 644.7,65 646.4,65.4 648,65.7 649.7,66 651.4,66.4 653.1,66.7 654.7,67 656.4,67.4 658.1,67.7 659.7,68.1 661.4,68.5 663,68.9 664.7,69.3 666.3,69.7 667.9,70.1 669.5,70.6 671.1,71.1 672.7,71.6 674.2,72.1 675.8,72.6 677.3,73.2 678.8,73.8 680.3,74.4 681.8,75.1 683.3,75.7 684.7,76.4 686.2,77.1 687.6,77.9 689,78.6 690.4,79.4 691.8,80.2 693.1,81.1 694.5,81.9 695.8,82.8 697.1,83.7 698.4,84.7 699.7,85.6 701,86.6 702.2,87.7 703.4,88.7 704.6,89.8 705.8,91 707,92.1 708.1,93.3 709.3,94.5 710.4,95.7 711.5,97 712.6,98.3 713.6,99.6 714.7,100.9 715.8,102.2 716.8,103.6 717.8,104.9 718.9,106.3 719.9,107.7 720.9,109.1 721.9,110.5 723,111.9 724,113.3 725,114.7 725.9,116.1 726.9,117.6 727.9,119.1 728.8,120.6 729.8,122.1 730.7,123.6 731.6,125.2 732.5,126.8 733.4,128.4 734.2,130 735.1,131.7 735.9,133.3 736.8,135 737.6,136.7 738.4,138.5 739.2,140.2 740,142 740.8,143.7 741.5,145.5 742.3,147.3 743,149.2 743.8,151 744.5,152.8 745.2,154.7 746,156.6 746.7,158.4 747.4,160.3 748.1,162.2 748.8,164 749.6,165.9 750.3,167.8 751,169.6 751.7,171.5 752.5,173.3 753.2,175.2 753.9,177.1 754.6,178.9 755.4,180.8 756.1,182.6 756.8,184.5 757.6,186.3 758.3,188.2 759,190 759.7,191.9 760.5,193.7 761.2,195.6 761.9,197.4 762.7,199.3 763.4,201.1 764.1,203 764.9,204.8 765.6,206.7 766.3,208.5 767,210.4 767.8,212.2 768.5,214.1 769.2,215.9 770,217.8 770.7,219.6 771.4,221.5 772.1,223.4 772.9,225.2 773.6,227.1 774.3,228.9 775.1,230.8 775.8,232.6" fill="none" stroke="#0000ff" stroke-width="2.4" stroke-linejoin="round"/>
<polygon points="565.3,74.7 567.7,73.9 570.1,73 572.6,72.1 575,71.3 577.4,70.4 579.8,69.6 582.2,68.7 584.6,67.9 587,67.1 589.4,66.4 591.7,65.7 594,65.1 596.2,64.5 598.4,64 600.6,63.5 602.7,63.1 604.8,62.8 606.9,62.5 609,62.2 611,62 613,61.8 615,61.6 616.9,61.5 618.9,61.4 620.8,61.4 622.7,61.3 624.6,61.3 626.5,61.3 628.4,61.3 630.2,61.4 632.1,61.4 633.9,61.5 635.7,61.6 637.6,61.7 639.4,61.8 641.2,61.9 643,62.1 644.8,62.2 646.6,62.4 648.4,62.5 650.1,62.7 651.9,62.9 653.7,63.1 655.4,63.3 657.2,63.6 658.9,63.8 660.6,64.1 662.3,64.4 664,64.7 665.7,65 667.3,65.4 669,65.7 670.7,66.1 672.3,66.5 673.9,66.9 675.6,67.3 677.2,67.7 678.8,68.1 680.5,68.5 682.1,69 683.7,69.4 685.3,69.9 686.9,70.4 688.4,70.9 690,71.4 691.6,71.9 693.1,72.5 694.6,73 696.2,73.6 697.7,74.2 699.2,74.8 700.7,75.5 702.1,76.1 703.6,76.8 705,77.5 706.5,78.3 707.9,79 709.3,79.8 710.7,80.6 712.1,81.4 713.4,82.2 714.8,83 716.1,83.9 717.5,84.8 718.8,85.7 720.1,86.7 721.4,87.6 722.7,88.6 723.9,89.5 725.2,90.5 726.5,91.5 727.7,92.5 729,93.6 730.2,94.6 731.4,95.6 732.7,96.7 733.9,97.8 735.1,98.8 736.3,99.9 737.5,101 738.7,102.2 739.9,103.3 741,104.4 742.2,105.6 743.3,106.8 744.5,108 745.6,109.2 746.7,110.5 747.8,111.7 748.9,113 750,114.2 751.1,115.5 752.2,116.8 753.3,118.1 754.4,119.4 755.4,120.7 756.5,122 757.5,123.4 758.6,124.7 759.6,126.1 760.6,127.4 761.7,128.8 762.7,130.2 763.7,131.6 764.7,133 765.7,134.4 766.7,135.8 767.7,137.3 768.7,138.7 769.7,140.2 770.6,141.7 771.6,143.1 772.5,144.6 773.5,146.1 774.4,147.6 775.4,149.2 776.3,150.7 777.2,152.2 778.2,153.7 779.1,155.3 780,156.8 780.9,158.3 781.9,159.9 782.8,161.4 783.7,163 784.6,164.6 785.5,166.1 786.4,167.7 787.3,169.3 788.2,170.9 789.1,172.4 790,174 790.9,175.6 791.8,177.2 792.7,178.8 793.6,180.4 794.5,181.9 795.4,183.5 796.3,185.1 797.2,186.7 798.1,188.3 799,189.9 799.9,191.5 800.8,193 801.7,194.6 802.6,196.2 803.4,197.8 804.3,199.4 805.2,201 806.1,202.6 807,204.2 807.9,205.7 808.8,207.3 809.7,208.9 810.6,210.5 811.5,212.1 812.4,213.7 813.3,215.3 814.2,216.8 815.1,218.4 816,220 816.9,221.6 817.8,223.2 818.7,224.8 818.4,218.5 817.3,217.2 816.3,215.8 815.2,214.5 814.2,213.2 813.1,211.9 812.1,210.5 811,209.2 809.9,207.9 808.9,206.6 807.8,205.2 806.8,203.9 805.7,202.6 804.6,201.3 803.6,200 802.5,198.6 801.5,197.3 800.4,196 799.3,194.7 798.3,193.3 797.2,192 796.2,190.7 795.1,189.4 794,188 793,186.7 791.9,185.4 790.9,184.1 789.8,182.7 788.7,181.4 787.7,180.1 786.6,178.8 785.6,177.4 784.5,176.1 783.5,174.7 782.5,173.3 781.5,171.9 780.5,170.5 779.5,169 778.5,167.6 777.5,166.1 776.6,164.7 775.6,163.2 774.6,161.8 773.6,160.3 772.7,158.8 771.7,157.3 770.8,155.9 769.8,154.4 768.8,152.9 767.9,151.4 766.9,149.9 766,148.4 765,147 764,145.5 763,144.1 762,142.7 761,141.2 760,139.8 759,138.4 758,137.1 756.9,135.7 755.9,134.3 754.8,133 753.8,131.7 752.7,130.4 751.6,129.1 750.5,127.9 749.4,126.6 748.3,125.4 747.1,124.2 746,123.1 744.8,121.9 743.6,120.8 742.4,119.8 741.2,118.7 739.9,117.7 738.7,116.7 737.4,115.7 736.1,114.7 734.9,113.7 733.6,112.7 732.3,111.6 731.1,110.6 729.9,109.6 728.6,108.6 727.4,107.5 726.1,106.5 724.8,105.5 723.6,104.5 722.3,103.6 721,102.6 719.7,101.6 718.5,100.7 717.2,99.7 715.9,98.8 714.6,97.9 713.2,96.9 711.9,96 710.6,95.1 709.3,94.2 707.9,93.3 706.6,92.5 705.2,91.6 703.9,90.8 702.5,90 701.1,89.2 699.7,88.4 698.3,87.7 696.9,86.9 695.4,86.2 694,85.5 692.5,84.8 691,84.2 689.5,83.5 688,82.9 686.5,82.4 685,81.8 683.4,81.3 681.8,80.7 680.3,80.3 678.7,79.8 677.1,79.3 675.4,78.9 673.8,78.5 672.2,78.1 670.5,77.7 668.9,77.4 667.2,77 665.5,76.7 663.8,76.4 662.1,76.1 660.4,75.8 658.7,75.5 657,75.3 655.2,75 653.5,74.8 651.7,74.6 650,74.4 648.2,74.2 646.4,74 644.7,73.8 642.9,73.7 641.1,73.5 639.3,73.4 637.5,73.3 635.6,73.2 633.8,73.1 632,73 630.1,73 628.3,72.9 626.4,72.9 624.5,72.9 622.6,72.9 620.7,72.9 618.8,73 616.8,73.1 614.8,73.2 612.9,73.4 610.8,73.6 608.8,73.8 606.8,74.1 604.7,74.4 602.5,74.8 600.4,75.2 598.2,75.7 596,76.2 593.7,76.8 591.5,77.4 589.2,78.1 586.8,78.8 584.5,79.6 582.1,80.4 579.7,81.2 577.3,82 574.9,82.8 572.5,83.6 570.1,84.4 567.7,85.2 565.3,86" fill="url(#hr)" stroke="none"/>
<polyline points="565.3,74.7 567.7,73.9 570.1,73 572.6,72.1 575,71.3 577.4,70.4 579.8,69.6 582.2,68.7 584.6,67.9 587,67.1 589.4,66.4 591.7,65.7 594,65.1 596.2,64.5 598.4,64 600.6,63.5 602.7,63.1 604.8,62.8 606.9,62.5 609,62.2 611,62 613,61.8 615,61.6 616.9,61.5 618.9,61.4 620.8,61.4 622.7,61.3 624.6,61.3 626.5,61.3 628.4,61.3 630.2,61.4 632.1,61.4 633.9,61.5 635.7,61.6 637.6,61.7 639.4,61.8 641.2,61.9 643,62.1 644.8,62.2 646.6,62.4 648.4,62.5 650.1,62.7 651.9,62.9 653.7,63.1 655.4,63.3 657.2,63.6 658.9,63.8 660.6,64.1 662.3,64.4 664,64.7 665.7,65 667.3,65.4 669,65.7 670.7,66.1 672.3,66.5 673.9,66.9 675.6,67.3 677.2,67.7 678.8,68.1 680.5,68.5 682.1,69 683.7,69.4 685.3,69.9 686.9,70.4 688.4,70.9 690,71.4 691.6,71.9 693.1,72.5 694.6,73 696.2,73.6 697.7,74.2 699.2,74.8 700.7,75.5 702.1,76.1 703.6,76.8 705,77.5 706.5,78.3 707.9,79 709.3,79.8 710.7,80.6 712.1,81.4 713.4,82.2 714.8,83 716.1,83.9 717.5,84.8 718.8,85.7 720.1,86.7 721.4,87.6 722.7,88.6 723.9,89.5 725.2,90.5 726.5,91.5 727.7,92.5 729,93.6 730.2,94.6 731.4,95.6 732.7,96.7 733.9,97.8 735.1,98.8 736.3,99.9 737.5,101 738.7,102.2 739.9,103.3 741,104.4 742.2,105.6 743.3,106.8 744.5,108 745.6,109.2 746.7,110.5 747.8,111.7 748.9,113 750,114.2 751.1,115.5 752.2,116.8 753.3,118.1 754.4,119.4 755.4,120.7 756.5,122 757.5,123.4 758.6,124.7 759.6,126.1 760.6,127.4 761.7,128.8 762.7,130.2 763.7,131.6 764.7,133 765.7,134.4 766.7,135.8 767.7,137.3 768.7,138.7 769.7,140.2 770.6,141.7 771.6,143.1 772.5,144.6 773.5,146.1 774.4,147.6 775.4,149.2 776.3,150.7 777.2,152.2 778.2,153.7 779.1,155.3 780,156.8 780.9,158.3 781.9,159.9 782.8,161.4 783.7,163 784.6,164.6 785.5,166.1 786.4,167.7 787.3,169.3 788.2,170.9 789.1,172.4 790,174 790.9,175.6 791.8,177.2 792.7,178.8 793.6,180.4 794.5,181.9 795.4,183.5 796.3,185.1 797.2,186.7 798.1,188.3 799,189.9 799.9,191.5 800.8,193 801.7,194.6 802.6,196.2 803.4,197.8 804.3,199.4 805.2,201 806.1,202.6 807,204.2 807.9,205.7 808.8,207.3 809.7,208.9 810.6,210.5 811.5,212.1 812.4,213.7 813.3,215.3 814.2,216.8 815.1,218.4 816,220 816.9,221.6 817.8,223.2 818.7,224.8" fill="none" stroke="#ff0000" stroke-width="2.4" stroke-linejoin="round"/>
<polyline points="565.3,86 567.7,85.2 570.1,84.4 572.5,83.6 574.9,82.8 577.3,82 579.7,81.2 582.1,80.4 584.5,79.6 586.8,78.8 589.2,78.1 591.5,77.4 593.7,76.8 596,76.2 598.2,75.7 600.4,75.2 602.5,74.8 604.7,74.4 606.8,74.1 608.8,73.8 610.8,73.6 612.9,73.4 614.8,73.2 616.8,73.1 618.8,73 620.7,72.9 622.6,72.9 624.5,72.9 626.4,72.9 628.3,72.9 630.1,73 632,73 633.8,73.1 635.6,73.2 637.5,73.3 639.3,73.4 641.1,73.5 642.9,73.7 644.7,73.8 646.4,74 648.2,74.2 650,74.4 651.7,74.6 653.5,74.8 655.2,75 657,75.3 658.7,75.5 660.4,75.8 662.1,76.1 663.8,76.4 665.5,76.7 667.2,77 668.9,77.4 670.5,77.7 672.2,78.1 673.8,78.5 675.4,78.9 677.1,79.3 678.7,79.8 680.3,80.3 681.8,80.7 683.4,81.3 685,81.8 686.5,82.4 688,82.9 689.5,83.5 691,84.2 692.5,84.8 694,85.5 695.4,86.2 696.9,86.9 698.3,87.7 699.7,88.4 701.1,89.2 702.5,90 703.9,90.8 705.2,91.6 706.6,92.5 707.9,93.3 709.3,94.2 710.6,95.1 711.9,96 713.2,96.9 714.6,97.9 715.9,98.8 717.2,99.7 718.5,100.7 719.7,101.6 721,102.6 722.3,103.6 723.6,104.5 724.8,105.5 726.1,106.5 727.4,107.5 728.6,108.6 729.9,109.6 731.1,110.6 732.3,111.6 733.6,112.7 734.9,113.7 736.1,114.7 737.4,115.7 738.7,116.7 739.9,117.7 741.2,118.7 742.4,119.8 743.6,120.8 744.8,121.9 746,123.1 747.1,124.2 748.3,125.4 749.4,126.6 750.5,127.9 751.6,129.1 752.7,130.4 753.8,131.7 754.8,133 755.9,134.3 756.9,135.7 758,137.1 759,138.4 760,139.8 761,141.2 762,142.7 763,144.1 764,145.5 765,147 766,148.4 766.9,149.9 767.9,151.4 768.8,152.9 769.8,154.4 770.8,155.9 771.7,157.3 772.7,158.8 773.6,160.3 774.6,161.8 775.6,163.2 776.6,164.7 777.5,166.1 778.5,167.6 779.5,169 780.5,170.5 781.5,171.9 782.5,173.3 783.5,174.7 784.5,176.1 785.6,177.4 786.6,178.8 787.7,180.1 788.7,181.4 789.8,182.7 790.9,184.1 791.9,185.4 793,186.7 794,188 795.1,189.4 796.2,190.7 797.2,192 798.3,193.3 799.3,194.7 800.4,196 801.5,197.3 802.5,198.6 803.6,200 804.6,201.3 805.7,202.6 806.8,203.9 807.8,205.2 808.9,206.6 809.9,207.9 811,209.2 812.1,210.5 813.1,211.9 814.2,213.2 815.2,214.5 816.3,215.8 817.3,217.2 818.4,218.5" fill="none" stroke="#ff0000" stroke-width="2.4" stroke-linejoin="round"/>
<path d="M596.52 56.9V68.95M606.52 47.51V56.54M605.92 51.72V56.54M624.95 56.3V64.73M631.82 61V71.84M640.86 56.3V67.75M642.06 61.96V69.19M643.02 64.98V72.2M648.33 63.77V72.2M655.92 58.35V67.99M657.12 62.57V71M661.7 65.94V70.76M661.94 72.81V83.65M666.76 73.05V76.66M668.33 64.98V72.2M669.17 67.39V72.2M671.94 68.35V71.96M676.4 71.24V74.86M682.54 70.52V77.75M682.9 75.94V82.57M687.12 69.31V74.13M688.08 74.73V78.35M690.49 63.89V86.78M693.14 75.94V79.55M696.76 80.16V83.77M698.93 76.78V80.4M703.39 80.76V85.58M704.59 72.08V84.13M705.19 80.16V87.39M709.41 84.73V88.35M714.83 84.37V87.99M716.28 86.78V95.82M719.89 91V94.61M722.3 83.77V92.2M723.87 91V94.61M725.07 94.86V98.47M723.87 100.04V103.65M725.67 98.23V101.84M729.29 97.63V101.24M731.46 95.82V99.43M735.92 98.83V102.45M735.31 101.24V104.86M742.29 103.25V120.12M747.83 109.28V117.71M748.67 117.71V121.33M755.3 122.89V126.51M761.93 129.76V133.37M761.93 136.39V142.41M765.54 121.57V133.61M769.76 128.55V140M780.6 123.13V142.41M776.75 144.22V153.25M792.05 138.43V151.69M791.69 148.8V171.69M800.04 161.48V164.73M805.15 160.17V174.29M822.52 172.12V181.89" stroke="#000" stroke-width="1.3" fill="none"/>
<g fill="none" stroke="#000" stroke-width="1.3"><circle cx="596.52" cy="62.93" r="1.7"/><circle cx="606.52" cy="52.93" r="1.7"/><circle cx="605.92" cy="54.13" r="1.7"/><circle cx="624.95" cy="59.92" r="1.7"/><circle cx="631.82" cy="65.82" r="1.7"/><circle cx="640.86" cy="62.93" r="1.7"/><circle cx="642.06" cy="65.58" r="1.7"/><circle cx="643.02" cy="67.39" r="1.7"/><circle cx="648.33" cy="67.99" r="1.7"/><circle cx="655.92" cy="63.17" r="1.7"/><circle cx="657.12" cy="66.18" r="1.7"/><circle cx="661.7" cy="68.35" r="1.7"/><circle cx="661.94" cy="76.42" r="1.7"/><circle cx="666.76" cy="74.86" r="1.7"/><circle cx="668.33" cy="68.59" r="1.7"/><circle cx="669.17" cy="69.8" r="1.7"/><circle cx="671.94" cy="70.16" r="1.7"/><circle cx="676.4" cy="73.05" r="1.7"/><circle cx="682.54" cy="74.13" r="1.7"/><circle cx="682.9" cy="78.35" r="1.7"/><circle cx="687.12" cy="71.72" r="1.7"/><circle cx="688.08" cy="76.54" r="1.7"/><circle cx="690.49" cy="75.94" r="1.7"/><circle cx="693.14" cy="77.75" r="1.7"/><circle cx="696.76" cy="81.96" r="1.7"/><circle cx="698.93" cy="78.59" r="1.7"/><circle cx="703.39" cy="83.17" r="1.7"/><circle cx="704.59" cy="79.31" r="1.7"/><circle cx="705.19" cy="82.57" r="1.7"/><circle cx="709.41" cy="86.54" r="1.7"/><circle cx="714.83" cy="86.18" r="1.7"/><circle cx="716.28" cy="89.8" r="1.7"/><circle cx="719.89" cy="92.81" r="1.7"/><circle cx="722.3" cy="89.8" r="1.7"/><circle cx="723.87" cy="92.81" r="1.7"/><circle cx="725.07" cy="96.66" r="1.7"/><circle cx="723.87" cy="101.84" r="1.7"/><circle cx="725.67" cy="100.04" r="1.7"/><circle cx="729.29" cy="99.43" r="1.7"/><circle cx="731.46" cy="97.63" r="1.7"/><circle cx="735.92" cy="100.64" r="1.7"/><circle cx="735.31" cy="103.05" r="1.7"/><circle cx="742.29" cy="111.69" r="1.7"/><circle cx="747.83" cy="114.1" r="1.7"/><circle cx="748.67" cy="119.52" r="1.7"/><circle cx="755.3" cy="124.7" r="1.7"/><circle cx="761.93" cy="131.57" r="1.7"/><circle cx="761.93" cy="138.8" r="1.7"/><circle cx="765.54" cy="127.59" r="1.7"/><circle cx="769.76" cy="134.58" r="1.7"/><circle cx="780.6" cy="132.77" r="1.7"/><circle cx="776.75" cy="149.04" r="1.7"/><circle cx="792.05" cy="145.66" r="1.7"/><circle cx="791.69" cy="159.64" r="1.7"/><circle cx="800.04" cy="163.11" r="1.7"/><circle cx="805.15" cy="167.23" r="1.7"/><circle cx="822.52" cy="178.63" r="1.7"/></g>
</g>
<g clip-path="url(#c10)">
<polygon points="64.2,230.7 66,230.9 67.7,231.1 69.5,231.3 71.3,231.5 73,231.7 74.8,231.9 76.6,232.1 78.3,232.3 80.1,232.5 81.8,232.7 83.6,232.9 85.4,233.1 87.1,233.3 88.9,233.5 90.6,233.7 92.4,233.9 94.1,234.1 95.9,234.3 97.6,234.6 99.4,234.8 101.1,235 102.9,235.2 104.6,235.5 106.3,235.7 108.1,236 109.8,236.2 111.5,236.5 113.2,236.8 115,237 116.7,237.3 118.4,237.6 120.1,237.9 121.8,238.2 123.5,238.5 125.1,238.9 126.8,239.2 128.5,239.6 130.1,239.9 131.8,240.3 133.5,240.6 135.1,241 136.7,241.4 138.4,241.8 140,242.3 141.6,242.7 143.2,243.1 144.8,243.6 146.4,244.1 148,244.6 149.6,245 151.2,245.5 152.8,246 154.3,246.5 155.9,246.9 157.5,247.4 159.2,247.8 160.8,248.3 162.4,248.7 164,249.2 165.5,249.7 167.1,250.2 168.7,250.7 170.2,251.2 171.8,251.8 173.3,252.4 174.8,253 176.3,253.7 177.7,254.3 179.2,255 180.7,255.7 182.1,256.4 183.5,257.1 184.9,257.9 186.4,258.6 187.8,259.4 189.2,260.2 190.6,261 191.9,261.8 193.3,262.6 194.7,263.4 196,264.3 197.4,265.1 198.7,266 200.1,266.9 201.4,267.9 202.6,268.8 203.9,269.8 205.2,270.8 206.4,271.9 207.6,272.9 208.8,274 210,275.2 211.2,276.3 212.3,277.5 213.4,278.8 214.5,280 215.6,281.3 216.7,282.6 217.7,284 218.7,285.3 219.8,286.7 220.8,288.1 221.8,289.5 222.7,291 223.7,292.4 224.7,293.9 225.7,295.4 226.6,296.9 227.5,298.4 228.5,299.9 229.4,301.5 230.3,303 231.2,304.6 232.1,306.2 233,307.8 233.9,309.4 234.7,311.1 235.6,312.7 236.4,314.4 237.2,316.2 238,317.9 238.8,319.7 239.6,321.4 240.3,323.2 241.1,325 241.8,326.9 242.6,328.7 243.3,330.5 244.1,332.3 244.8,334.1 245.6,336 246.3,337.8 247,339.7 247.7,341.6 248.4,343.5 249.1,345.4 249.8,347.3 250.5,349.3 251.1,351.2 251.8,353.2 252.5,355.2 253.1,357.1 253.8,359.1 254.4,361.1 255.1,363.1 255.7,365.1 256.4,367 257,369 257.6,371 258.3,373 258.9,375 259.6,377 260.2,378.9 260.9,380.9 261.5,382.9 262.2,384.9 262.8,386.9 263.5,388.9 264.1,390.8 264.8,392.8 265.4,394.8 266.1,396.8 266.7,398.8 267.4,400.8 268,402.7 268.7,404.7 269.3,406.7 270,408.7 270.6,410.7 271.2,412.7 271.9,414.6 272.5,416.6 265.6,420.8 265,418.7 264.5,416.6 263.9,414.5 263.3,412.5 262.7,410.4 262.1,408.3 261.5,406.2 261,404.1 260.4,402 259.8,399.9 259.2,397.8 258.6,395.7 258,393.7 257.5,391.6 256.9,389.5 256.3,387.4 255.7,385.3 255.1,383.2 254.6,381.1 254,379 253.4,377 252.8,374.9 252.2,372.8 251.6,370.7 251.1,368.6 250.5,366.5 249.9,364.4 249.3,362.3 248.7,360.3 248.2,358.2 247.6,356.1 247,354 246.4,352 245.8,349.9 245.1,347.9 244.5,345.9 243.8,344 243.2,342 242.5,340.1 241.7,338.2 241,336.4 240.2,334.6 239.5,332.8 238.7,331.1 237.8,329.4 237,327.7 236.1,326.1 235.3,324.4 234.4,322.9 233.4,321.3 232.5,319.8 231.6,318.3 230.6,316.8 229.7,315.3 228.7,313.8 227.8,312.3 226.8,310.7 225.9,309.2 225,307.7 224,306.2 223.1,304.7 222.2,303.1 221.2,301.6 220.3,300.1 219.4,298.6 218.4,297 217.5,295.5 216.5,294 215.6,292.5 214.6,291.1 213.6,289.6 212.7,288.2 211.7,286.7 210.6,285.4 209.6,284 208.6,282.7 207.5,281.3 206.4,280.1 205.3,278.9 204.1,277.7 202.9,276.5 201.7,275.4 200.5,274.4 199.3,273.4 198,272.4 196.7,271.5 195.3,270.6 194,269.7 192.6,268.9 191.2,268.1 189.9,267.3 188.5,266.5 187.1,265.7 185.7,264.9 184.3,264.2 182.8,263.4 181.4,262.7 180,262 178.5,261.3 177.1,260.6 175.6,259.9 174.1,259.2 172.7,258.6 171.2,257.9 169.7,257.3 168.1,256.8 166.6,256.2 165.1,255.7 163.5,255.1 161.9,254.6 160.4,254.1 158.8,253.6 157.2,253.1 155.7,252.6 154.1,252.1 152.5,251.6 151,251 149.4,250.5 147.8,250 146.2,249.5 144.7,249 143.1,248.6 141.5,248.1 139.8,247.7 138.2,247.3 136.6,246.9 134.9,246.5 133.3,246.1 131.6,245.7 130,245.4 128.3,245 126.6,244.7 124.9,244.4 123.2,244.1 121.5,243.8 119.8,243.5 118.1,243.2 116.4,242.9 114.7,242.6 113,242.4 111.3,242.1 109.5,241.9 107.8,241.6 106.1,241.3 104.3,241.1 102.6,240.9 100.9,240.6 99.1,240.4 97.4,240.1 95.7,239.9 93.9,239.7 92.2,239.4 90.4,239.2 88.7,239 87,238.7 85.2,238.5 83.5,238.3 81.7,238 80,237.8 78.2,237.6 76.5,237.4 74.8,237.1 73,236.9 71.3,236.7 69.5,236.4 67.8,236.2 66,236 64.3,235.7" fill="url(#hb)" stroke="none"/>
<polyline points="64.2,230.7 66,230.9 67.7,231.1 69.5,231.3 71.3,231.5 73,231.7 74.8,231.9 76.6,232.1 78.3,232.3 80.1,232.5 81.8,232.7 83.6,232.9 85.4,233.1 87.1,233.3 88.9,233.5 90.6,233.7 92.4,233.9 94.1,234.1 95.9,234.3 97.6,234.6 99.4,234.8 101.1,235 102.9,235.2 104.6,235.5 106.3,235.7 108.1,236 109.8,236.2 111.5,236.5 113.2,236.8 115,237 116.7,237.3 118.4,237.6 120.1,237.9 121.8,238.2 123.5,238.5 125.1,238.9 126.8,239.2 128.5,239.6 130.1,239.9 131.8,240.3 133.5,240.6 135.1,241 136.7,241.4 138.4,241.8 140,242.3 141.6,242.7 143.2,243.1 144.8,243.6 146.4,244.1 148,244.6 149.6,245 151.2,245.5 152.8,246 154.3,246.5 155.9,246.9 157.5,247.4 159.2,247.8 160.8,248.3 162.4,248.7 164,249.2 165.5,249.7 167.1,250.2 168.7,250.7 170.2,251.2 171.8,251.8 173.3,252.4 174.8,253 176.3,253.7 177.7,254.3 179.2,255 180.7,255.7 182.1,256.4 183.5,257.1 184.9,257.9 186.4,258.6 187.8,259.4 189.2,260.2 190.6,261 191.9,261.8 193.3,262.6 194.7,263.4 196,264.3 197.4,265.1 198.7,266 200.1,266.9 201.4,267.9 202.6,268.8 203.9,269.8 205.2,270.8 206.4,271.9 207.6,272.9 208.8,274 210,275.2 211.2,276.3 212.3,277.5 213.4,278.8 214.5,280 215.6,281.3 216.7,282.6 217.7,284 218.7,285.3 219.8,286.7 220.8,288.1 221.8,289.5 222.7,291 223.7,292.4 224.7,293.9 225.7,295.4 226.6,296.9 227.5,298.4 228.5,299.9 229.4,301.5 230.3,303 231.2,304.6 232.1,306.2 233,307.8 233.9,309.4 234.7,311.1 235.6,312.7 236.4,314.4 237.2,316.2 238,317.9 238.8,319.7 239.6,321.4 240.3,323.2 241.1,325 241.8,326.9 242.6,328.7 243.3,330.5 244.1,332.3 244.8,334.1 245.6,336 246.3,337.8 247,339.7 247.7,341.6 248.4,343.5 249.1,345.4 249.8,347.3 250.5,349.3 251.1,351.2 251.8,353.2 252.5,355.2 253.1,357.1 253.8,359.1 254.4,361.1 255.1,363.1 255.7,365.1 256.4,367 257,369 257.6,371 258.3,373 258.9,375 259.6,377 260.2,378.9 260.9,380.9 261.5,382.9 262.2,384.9 262.8,386.9 263.5,388.9 264.1,390.8 264.8,392.8 265.4,394.8 266.1,396.8 266.7,398.8 267.4,400.8 268,402.7 268.7,404.7 269.3,406.7 270,408.7 270.6,410.7 271.2,412.7 271.9,414.6 272.5,416.6" fill="none" stroke="#0000ff" stroke-width="2.4" stroke-linejoin="round"/>
<polyline points="64.3,235.7 66,236 67.8,236.2 69.5,236.4 71.3,236.7 73,236.9 74.8,237.1 76.5,237.4 78.2,237.6 80,237.8 81.7,238 83.5,238.3 85.2,238.5 87,238.7 88.7,239 90.4,239.2 92.2,239.4 93.9,239.7 95.7,239.9 97.4,240.1 99.1,240.4 100.9,240.6 102.6,240.9 104.3,241.1 106.1,241.3 107.8,241.6 109.5,241.9 111.3,242.1 113,242.4 114.7,242.6 116.4,242.9 118.1,243.2 119.8,243.5 121.5,243.8 123.2,244.1 124.9,244.4 126.6,244.7 128.3,245 130,245.4 131.6,245.7 133.3,246.1 134.9,246.5 136.6,246.9 138.2,247.3 139.8,247.7 141.5,248.1 143.1,248.6 144.7,249 146.2,249.5 147.8,250 149.4,250.5 151,251 152.5,251.6 154.1,252.1 155.7,252.6 157.2,253.1 158.8,253.6 160.4,254.1 161.9,254.6 163.5,255.1 165.1,255.7 166.6,256.2 168.1,256.8 169.7,257.3 171.2,257.9 172.7,258.6 174.1,259.2 175.6,259.9 177.1,260.6 178.5,261.3 180,262 181.4,262.7 182.8,263.4 184.3,264.2 185.7,264.9 187.1,265.7 188.5,266.5 189.9,267.3 191.2,268.1 192.6,268.9 194,269.7 195.3,270.6 196.7,271.5 198,272.4 199.3,273.4 200.5,274.4 201.7,275.4 202.9,276.5 204.1,277.7 205.3,278.9 206.4,280.1 207.5,281.3 208.6,282.7 209.6,284 210.6,285.4 211.7,286.7 212.7,288.2 213.6,289.6 214.6,291.1 215.6,292.5 216.5,294 217.5,295.5 218.4,297 219.4,298.6 220.3,300.1 221.2,301.6 222.2,303.1 223.1,304.7 224,306.2 225,307.7 225.9,309.2 226.8,310.7 227.8,312.3 228.7,313.8 229.7,315.3 230.6,316.8 231.6,318.3 232.5,319.8 233.4,321.3 234.4,322.9 235.3,324.4 236.1,326.1 237,327.7 237.8,329.4 238.7,331.1 239.5,332.8 240.2,334.6 241,336.4 241.7,338.2 242.5,340.1 243.2,342 243.8,344 244.5,345.9 245.1,347.9 245.8,349.9 246.4,352 247,354 247.6,356.1 248.2,358.2 248.7,360.3 249.3,362.3 249.9,364.4 250.5,366.5 251.1,368.6 251.6,370.7 252.2,372.8 252.8,374.9 253.4,377 254,379 254.6,381.1 255.1,383.2 255.7,385.3 256.3,387.4 256.9,389.5 257.5,391.6 258,393.7 258.6,395.7 259.2,397.8 259.8,399.9 260.4,402 261,404.1 261.5,406.2 262.1,408.3 262.7,410.4 263.3,412.5 263.9,414.5 264.5,416.6 265,418.7 265.6,420.8" fill="none" stroke="#0000ff" stroke-width="2.4" stroke-linejoin="round"/>
<polygon points="60.2,263.5 62.9,262.1 65.6,260.8 68.3,259.5 71,258.2 73.7,256.8 76.5,255.5 79.2,254.2 81.8,252.9 84.5,251.8 87,250.7 89.6,249.6 92,248.7 94.4,247.9 96.8,247.1 99.1,246.5 101.3,245.9 103.5,245.4 105.7,244.9 107.8,244.5 109.9,244.2 112,243.9 114,243.7 116,243.5 118,243.4 120,243.2 121.9,243.1 123.8,243.1 125.8,243 127.7,243 129.5,243 131.4,243 133.3,243.1 135.1,243.1 137,243.2 138.8,243.3 140.6,243.4 142.5,243.5 144.3,243.6 146.1,243.7 147.9,243.9 149.7,244 151.4,244.2 153.2,244.4 155,244.6 156.7,244.8 158.5,245 160.2,245.3 161.9,245.5 163.6,245.8 165.3,246.1 167,246.4 168.7,246.8 170.4,247.1 172,247.5 173.6,247.9 175.3,248.3 176.9,248.8 178.5,249.2 180.1,249.7 181.6,250.2 183.2,250.7 184.8,251.3 186.3,251.8 187.8,252.4 189.3,253 190.8,253.6 192.3,254.2 193.8,254.9 195.3,255.5 196.8,256.2 198.2,256.9 199.6,257.6 201.1,258.4 202.5,259.1 203.9,259.9 205.3,260.7 206.7,261.5 208.1,262.3 209.4,263.1 210.8,263.9 212.2,264.8 213.5,265.6 214.9,266.5 216.2,267.4 217.5,268.3 218.9,269.1 220.2,270.1 221.5,271 222.8,271.9 224.1,272.8 225.4,273.8 226.7,274.7 228,275.7 229.3,276.6 230.6,277.6 231.8,278.6 233.1,279.6 234.3,280.6 235.6,281.6 236.8,282.7 238.1,283.7 239.3,284.8 240.5,285.9 241.7,287 242.9,288.1 244.1,289.2 245.3,290.3 246.4,291.4 247.6,292.6 248.8,293.7 249.9,294.9 251.1,296.1 252.2,297.3 253.3,298.6 254.4,299.9 255.5,301.2 256.5,302.5 257.5,303.9 258.5,305.3 259.5,306.8 260.4,308.3 261.3,309.9 262.2,311.5 263.1,313.1 263.9,314.8 264.8,316.4 265.7,318.1 266.5,319.7 267.4,321.3 268.3,323 269.2,324.5 270.1,326.1 271,327.7 271.9,329.2 272.8,330.7 273.8,332.2 274.7,333.7 275.7,335.2 276.7,336.7 277.6,338.2 278.6,339.6 279.5,341.1 280.5,342.6 281.5,344.1 282.4,345.6 283.3,347.1 284.3,348.6 285.2,350.1 286.2,351.7 287.1,353.2 288,354.7 289,356.2 289.9,357.7 290.8,359.3 291.8,360.8 292.7,362.3 293.6,363.8 294.6,365.4 295.5,366.9 296.4,368.4 297.4,370 298.3,371.5 299.2,373 300.2,374.5 301.1,376.1 302,377.6 303,379.1 303.9,380.6 304.8,382.2 305.8,383.7 306.7,385.2 307.6,386.8 308.6,388.3 309.5,389.8 310.4,391.3 311.4,392.9 312.3,394.4 313.2,395.9 314.2,397.4 315.1,399 316,400.5 317,402 317.9,403.6 318.8,405.1 312.8,402 311.8,400.6 310.8,399.1 309.8,397.7 308.8,396.3 307.9,394.8 306.9,393.4 305.9,392 304.9,390.5 303.9,389.1 302.9,387.7 301.9,386.2 300.9,384.8 299.9,383.4 298.9,382 297.9,380.5 296.9,379.1 295.9,377.7 295,376.2 294,374.8 293,373.4 292,371.9 291,370.5 290,369.1 289,367.6 288,366.2 287,364.8 286,363.3 285,361.9 284,360.5 283,359 282.1,357.6 281.1,356.2 280.1,354.7 279.1,353.3 278.1,351.8 277.1,350.4 276.2,348.9 275.2,347.5 274.2,346 273.3,344.5 272.3,343.1 271.3,341.6 270.3,340.1 269.4,338.7 268.4,337.2 267.4,335.7 266.5,334.2 265.5,332.7 264.6,331.2 263.6,329.7 262.7,328.3 261.7,326.8 260.7,325.3 259.7,323.9 258.7,322.5 257.7,321.2 256.6,319.8 255.6,318.5 254.5,317.2 253.4,315.9 252.3,314.7 251.1,313.5 250,312.3 248.8,311.1 247.7,310 246.5,308.9 245.3,307.7 244.1,306.6 242.9,305.5 241.7,304.4 240.5,303.3 239.3,302.2 238.1,301.1 236.9,300.1 235.7,299 234.5,297.9 233.3,296.8 232.1,295.6 230.9,294.5 229.7,293.4 228.5,292.3 227.3,291.2 226.1,290.1 224.9,289.1 223.7,288 222.5,286.9 221.3,285.8 220,284.8 218.8,283.7 217.6,282.7 216.3,281.7 215,280.7 213.8,279.7 212.5,278.7 211.2,277.8 209.9,276.9 208.6,276 207.2,275.1 205.9,274.2 204.5,273.4 203.1,272.6 201.7,271.9 200.3,271.1 198.8,270.4 197.4,269.7 195.9,269 194.4,268.4 192.9,267.7 191.4,267.1 189.9,266.5 188.4,266 186.9,265.4 185.3,264.8 183.8,264.3 182.2,263.7 180.7,263.2 179.1,262.7 177.5,262.3 175.9,261.8 174.3,261.4 172.7,260.9 171,260.5 169.4,260.2 167.7,259.8 166.1,259.4 164.4,259.1 162.7,258.8 161,258.5 159.2,258.3 157.5,258 155.8,257.8 154,257.6 152.2,257.4 150.4,257.3 148.6,257.1 146.8,257 145,256.9 143.2,256.8 141.3,256.8 139.5,256.7 137.6,256.7 135.7,256.7 133.8,256.6 131.9,256.7 130,256.7 128.1,256.7 126.2,256.8 124.3,256.9 122.3,257 120.3,257.1 118.3,257.3 116.3,257.5 114.3,257.7 112.3,257.9 110.2,258.2 108.1,258.5 106,258.9 103.9,259.3 101.7,259.7 99.5,260.2 97.3,260.8 95,261.4 92.7,262 90.4,262.8 88,263.5 85.6,264.3 83.2,265.2 80.8,266.1 78.3,267 75.8,268 73.3,268.9 70.8,269.9 68.4,270.9 65.9,271.8 63.4,272.8 60.9,273.7" fill="url(#hr)" stroke="none"/>
<polyline points="60.2,263.5 62.9,262.1 65.6,260.8 68.3,259.5 71,258.2 73.7,256.8 76.5,255.5 79.2,254.2 81.8,252.9 84.5,251.8 87,250.7 89.6,249.6 92,248.7 94.4,247.9 96.8,247.1 99.1,246.5 101.3,245.9 103.5,245.4 105.7,244.9 107.8,244.5 109.9,244.2 112,243.9 114,243.7 116,243.5 118,243.4 120,243.2 121.9,243.1 123.8,243.1 125.8,243 127.7,243 129.5,243 131.4,243 133.3,243.1 135.1,243.1 137,243.2 138.8,243.3 140.6,243.4 142.5,243.5 144.3,243.6 146.1,243.7 147.9,243.9 149.7,244 151.4,244.2 153.2,244.4 155,244.6 156.7,244.8 158.5,245 160.2,245.3 161.9,245.5 163.6,245.8 165.3,246.1 167,246.4 168.7,246.8 170.4,247.1 172,247.5 173.6,247.9 175.3,248.3 176.9,248.8 178.5,249.2 180.1,249.7 181.6,250.2 183.2,250.7 184.8,251.3 186.3,251.8 187.8,252.4 189.3,253 190.8,253.6 192.3,254.2 193.8,254.9 195.3,255.5 196.8,256.2 198.2,256.9 199.6,257.6 201.1,258.4 202.5,259.1 203.9,259.9 205.3,260.7 206.7,261.5 208.1,262.3 209.4,263.1 210.8,263.9 212.2,264.8 213.5,265.6 214.9,266.5 216.2,267.4 217.5,268.3 218.9,269.1 220.2,270.1 221.5,271 222.8,271.9 224.1,272.8 225.4,273.8 226.7,274.7 228,275.7 229.3,276.6 230.6,277.6 231.8,278.6 233.1,279.6 234.3,280.6 235.6,281.6 236.8,282.7 238.1,283.7 239.3,284.8 240.5,285.9 241.7,287 242.9,288.1 244.1,289.2 245.3,290.3 246.4,291.4 247.6,292.6 248.8,293.7 249.9,294.9 251.1,296.1 252.2,297.3 253.3,298.6 254.4,299.9 255.5,301.2 256.5,302.5 257.5,303.9 258.5,305.3 259.5,306.8 260.4,308.3 261.3,309.9 262.2,311.5 263.1,313.1 263.9,314.8 264.8,316.4 265.7,318.1 266.5,319.7 267.4,321.3 268.3,323 269.2,324.5 270.1,326.1 271,327.7 271.9,329.2 272.8,330.7 273.8,332.2 274.7,333.7 275.7,335.2 276.7,336.7 277.6,338.2 278.6,339.6 279.5,341.1 280.5,342.6 281.5,344.1 282.4,345.6 283.3,347.1 284.3,348.6 285.2,350.1 286.2,351.7 287.1,353.2 288,354.7 289,356.2 289.9,357.7 290.8,359.3 291.8,360.8 292.7,362.3 293.6,363.8 294.6,365.4 295.5,366.9 296.4,368.4 297.4,370 298.3,371.5 299.2,373 300.2,374.5 301.1,376.1 302,377.6 303,379.1 303.9,380.6 304.8,382.2 305.8,383.7 306.7,385.2 307.6,386.8 308.6,388.3 309.5,389.8 310.4,391.3 311.4,392.9 312.3,394.4 313.2,395.9 314.2,397.4 315.1,399 316,400.5 317,402 317.9,403.6 318.8,405.1" fill="none" stroke="#ff0000" stroke-width="2.4" stroke-linejoin="round"/>
<polyline points="60.9,273.7 63.4,272.8 65.9,271.8 68.4,270.9 70.8,269.9 73.3,268.9 75.8,268 78.3,267 80.8,266.1 83.2,265.2 85.6,264.3 88,263.5 90.4,262.8 92.7,262 95,261.4 97.3,260.8 99.5,260.2 101.7,259.7 103.9,259.3 106,258.9 108.1,258.5 110.2,258.2 112.3,257.9 114.3,257.7 116.3,257.5 118.3,257.3 120.3,257.1 122.3,257 124.3,256.9 126.2,256.8 128.1,256.7 130,256.7 131.9,256.7 133.8,256.6 135.7,256.7 137.6,256.7 139.5,256.7 141.3,256.8 143.2,256.8 145,256.9 146.8,257 148.6,257.1 150.4,257.3 152.2,257.4 154,257.6 155.8,257.8 157.5,258 159.2,258.3 161,258.5 162.7,258.8 164.4,259.1 166.1,259.4 167.7,259.8 169.4,260.2 171,260.5 172.7,260.9 174.3,261.4 175.9,261.8 177.5,262.3 179.1,262.7 180.7,263.2 182.2,263.7 183.8,264.3 185.3,264.8 186.9,265.4 188.4,266 189.9,266.5 191.4,267.1 192.9,267.7 194.4,268.4 195.9,269 197.4,269.7 198.8,270.4 200.3,271.1 201.7,271.9 203.1,272.6 204.5,273.4 205.9,274.2 207.2,275.1 208.6,276 209.9,276.9 211.2,277.8 212.5,278.7 213.8,279.7 215,280.7 216.3,281.7 217.6,282.7 218.8,283.7 220,284.8 221.3,285.8 222.5,286.9 223.7,288 224.9,289.1 226.1,290.1 227.3,291.2 228.5,292.3 229.7,293.4 230.9,294.5 232.1,295.6 233.3,296.8 234.5,297.9 235.7,299 236.9,300.1 238.1,301.1 239.3,302.2 240.5,303.3 241.7,304.4 242.9,305.5 244.1,306.6 245.3,307.7 246.5,308.9 247.7,310 248.8,311.1 250,312.3 251.1,313.5 252.3,314.7 253.4,315.9 254.5,317.2 255.6,318.5 256.6,319.8 257.7,321.2 258.7,322.5 259.7,323.9 260.7,325.3 261.7,326.8 262.7,328.3 263.6,329.7 264.6,331.2 265.5,332.7 266.5,334.2 267.4,335.7 268.4,337.2 269.4,338.7 270.3,340.1 271.3,341.6 272.3,343.1 273.3,344.5 274.2,346 275.2,347.5 276.2,348.9 277.1,350.4 278.1,351.8 279.1,353.3 280.1,354.7 281.1,356.2 282.1,357.6 283,359 284,360.5 285,361.9 286,363.3 287,364.8 288,366.2 289,367.6 290,369.1 291,370.5 292,371.9 293,373.4 294,374.8 295,376.2 295.9,377.7 296.9,379.1 297.9,380.5 298.9,382 299.9,383.4 300.9,384.8 301.9,386.2 302.9,387.7 303.9,389.1 304.9,390.5 305.9,392 306.9,393.4 307.9,394.8 308.8,396.3 309.8,397.7 310.8,399.1 311.8,400.6 312.8,402" fill="none" stroke="#ff0000" stroke-width="2.4" stroke-linejoin="round"/>
<path d="M92.88 230.04V263.77M103.12 219.43V226.06M101.67 226.42V231.24M121.19 231.72V241.36M128.18 234.13V272.69M126.61 250.4V264.86M137.1 227.27V238.11M138.66 235.34V240.16M137.46 237.51V242.33M139.02 242.08V250.52M137.1 249.92V253.53M153.48 237.51V247.75M158.3 240.88V254.73M162.76 246.54V256.18M164.81 239.92V247.14M164.33 251.72V261.96M168.18 251.96V255.58M172.4 250.16V253.77M178.9 245.1V254.73M183.12 244.73V248.35M184.08 248.11V251.72M189.14 251.96V255.58M194.93 253.53V257.14M200.83 244.13V254.98M199.99 251.72V258.95M201.19 255.7V262.93M205.41 255.34V264.98M210.83 260.16V263.77M213.24 264.37V270.4M216.25 261.36V264.98M222.04 249.92V265.58M222.28 263.17V267.99M220.47 265.58V270.4M221.07 267.99V274.01M219.87 271.6V275.22M226.49 269.55V273.17M231.92 272.81V276.42M232.52 274.61V278.23M238.54 261.96V273.41M237.34 269.19V274.01M237.94 272.81V277.63M238.78 275.82V279.43M243.96 255.34V292.69M240.35 281.24V284.86M239.14 284.86V288.47M244.57 281.24V286.06M248.78 283.65V289.67M249.39 289.07V292.69M249.04 284.46V290.48M251.69 288.07V291.69M248.67 290.48V294.7M257.95 288.67V295.3M257.95 294.7V298.31M257.95 303.49V308.31M261.57 297.11V308.55M266.14 295.3V311.57M265.54 303.13V306.75M276.75 280.24V301.93M274.82 286.63V301.08M275.18 305.18V323.25M271.2 311.2V314.82M273.13 314.82V324.46M277.95 318.8V322.41M284.46 322.17V328.19M288.43 314.34V328.8M287.83 316.75V343.25M292.65 308.31V330M296.51 334.82V339.64M301.69 336.27V349.52M318.83 343.09V355.58" stroke="#000" stroke-width="1.3" fill="none"/>
<g fill="none" stroke="#000" stroke-width="1.3"><circle cx="92.88" cy="246.9" r="1.7"/><circle cx="103.12" cy="223.65" r="1.7"/><circle cx="101.67" cy="228.83" r="1.7"/><circle cx="121.19" cy="236.54" r="1.7"/><circle cx="128.18" cy="253.41" r="1.7"/><circle cx="126.61" cy="257.63" r="1.7"/><circle cx="137.1" cy="234.49" r="1.7"/><circle cx="138.66" cy="237.75" r="1.7"/><circle cx="137.46" cy="239.92" r="1.7"/><circle cx="139.02" cy="246.9" r="1.7"/><circle cx="137.1" cy="251.72" r="1.7"/><circle cx="153.48" cy="242.93" r="1.7"/><circle cx="158.3" cy="248.11" r="1.7"/><circle cx="162.76" cy="251.36" r="1.7"/><circle cx="164.81" cy="243.53" r="1.7"/><circle cx="164.33" cy="256.54" r="1.7"/><circle cx="168.18" cy="253.77" r="1.7"/><circle cx="172.4" cy="251.96" r="1.7"/><circle cx="178.9" cy="249.92" r="1.7"/><circle cx="183.12" cy="246.54" r="1.7"/><circle cx="184.08" cy="249.92" r="1.7"/><circle cx="189.14" cy="253.77" r="1.7"/><circle cx="194.93" cy="255.34" r="1.7"/><circle cx="200.83" cy="250.16" r="1.7"/><circle cx="199.99" cy="255.34" r="1.7"/><circle cx="201.19" cy="259.31" r="1.7"/><circle cx="205.41" cy="258.95" r="1.7"/><circle cx="210.83" cy="261.96" r="1.7"/><circle cx="213.24" cy="266.78" r="1.7"/><circle cx="216.25" cy="263.17" r="1.7"/><circle cx="222.04" cy="261.96" r="1.7"/><circle cx="222.28" cy="265.58" r="1.7"/><circle cx="220.47" cy="267.99" r="1.7"/><circle cx="221.07" cy="271.6" r="1.7"/><circle cx="219.87" cy="273.41" r="1.7"/><circle cx="226.49" cy="271.36" r="1.7"/><circle cx="231.92" cy="274.61" r="1.7"/><circle cx="232.52" cy="276.42" r="1.7"/><circle cx="238.54" cy="269.8" r="1.7"/><circle cx="237.34" cy="271.6" r="1.7"/><circle cx="237.94" cy="275.22" r="1.7"/><circle cx="238.78" cy="277.63" r="1.7"/><circle cx="243.96" cy="279.43" r="1.7"/><circle cx="240.35" cy="283.05" r="1.7"/><circle cx="239.14" cy="286.66" r="1.7"/><circle cx="244.57" cy="283.65" r="1.7"/><circle cx="248.78" cy="286.66" r="1.7"/><circle cx="249.39" cy="290.88" r="1.7"/><circle cx="249.04" cy="287.47" r="1.7"/><circle cx="251.69" cy="289.88" r="1.7"/><circle cx="248.67" cy="292.29" r="1.7"/><circle cx="257.95" cy="292.89" r="1.7"/><circle cx="257.95" cy="296.51" r="1.7"/><circle cx="257.95" cy="305.9" r="1.7"/><circle cx="261.57" cy="303.13" r="1.7"/><circle cx="266.14" cy="303.73" r="1.7"/><circle cx="265.54" cy="304.94" r="1.7"/><circle cx="276.75" cy="291.08" r="1.7"/><circle cx="274.82" cy="293.86" r="1.7"/><circle cx="275.18" cy="311.2" r="1.7"/><circle cx="271.2" cy="313.01" r="1.7"/><circle cx="273.13" cy="319.64" r="1.7"/><circle cx="277.95" cy="320.6" r="1.7"/><circle cx="284.46" cy="325.18" r="1.7"/><circle cx="288.43" cy="321.57" r="1.7"/><circle cx="287.83" cy="331.2" r="1.7"/><circle cx="292.65" cy="319.16" r="1.7"/><circle cx="296.51" cy="337.23" r="1.7"/><circle cx="301.69" cy="342.29" r="1.7"/><circle cx="318.83" cy="349.61" r="1.7"/></g>
</g>
<g clip-path="url(#c11)">
<polygon points="316.6,232.8 318.3,233.1 320,233.5 321.7,233.8 323.3,234.1 325,234.5 326.7,234.8 328.4,235.1 330,235.5 331.7,235.8 333.4,236.1 335.1,236.5 336.8,236.8 338.4,237.2 340.1,237.5 341.8,237.8 343.4,238.2 345.1,238.5 346.8,238.9 348.5,239.2 350.1,239.6 351.8,239.9 353.4,240.3 355.1,240.7 356.8,241 358.4,241.4 360.1,241.8 361.7,242.1 363.4,242.5 365.1,242.9 366.7,243.2 368.4,243.6 370,244 371.7,244.3 373.3,244.7 375,245.1 376.6,245.5 378.3,245.8 379.9,246.2 381.6,246.6 383.2,247 384.9,247.3 386.6,247.7 388.2,248.1 389.9,248.5 391.5,248.8 393.2,249.2 394.8,249.6 396.4,250 398.1,250.4 399.7,250.8 401.4,251.2 403,251.5 404.7,251.9 406.3,252.3 407.9,252.7 409.6,253.1 411.2,253.5 412.9,253.9 414.5,254.3 416.1,254.7 417.8,255.1 419.4,255.5 421,255.9 422.7,256.4 424.3,256.8 425.9,257.2 427.5,257.6 429.1,258.1 430.7,258.5 432.3,259 433.9,259.5 435.4,260.1 437,260.6 438.5,261.2 440,261.8 441.5,262.4 443,263.1 444.4,263.8 445.9,264.5 447.3,265.2 448.8,265.9 450.2,266.7 451.6,267.5 452.9,268.3 454.3,269.1 455.7,269.9 457,270.8 458.4,271.7 459.7,272.6 461,273.5 462.3,274.4 463.6,275.3 464.9,276.2 466.2,277.2 467.5,278.1 468.8,279.1 470.1,280.1 471.4,281.1 472.6,282 473.9,283 475.2,284 476.4,285 477.7,286 479,287 480.2,288 481.5,289 482.7,290 484,291.1 485.2,292.1 486.5,293.1 487.7,294.2 488.9,295.3 490.1,296.4 491.2,297.5 492.4,298.7 493.6,299.9 494.7,301.1 495.9,302.3 497,303.5 498.1,304.7 499.2,305.9 500.3,307.2 501.4,308.5 502.4,309.8 503.5,311.2 504.5,312.6 505.5,314 506.5,315.5 507.4,317 508.4,318.5 509.3,320 510.2,321.6 511.1,323.2 511.9,324.9 512.8,326.5 513.6,328.2 514.4,329.9 515.2,331.7 516,333.4 516.8,335.2 517.5,337 518.3,338.8 519,340.6 519.8,342.5 520.5,344.3 521.2,346.2 522,348 522.7,349.9 523.4,351.7 524.2,353.6 524.9,355.4 525.6,357.2 526.4,359.1 527.1,360.9 527.9,362.7 528.6,364.6 529.4,366.4 530.1,368.2 530.8,370 531.6,371.9 532.3,373.7 533.1,375.5 533.8,377.4 534.6,379.2 535.3,381 536.1,382.9 536.8,384.7 537.5,386.5 538.3,388.3 539,390.2 539.8,392 540.5,393.8 541.3,395.7 542,397.5 542.7,399.3 543.5,401.1 544.2,403 545,404.8 545.7,406.6 546.5,408.5 547.2,410.3 547.9,412.1 539.7,410.6 538.9,408.9 538.1,407.1 537.3,405.4 536.5,403.7 535.6,402 534.8,400.2 534,398.5 533.2,396.8 532.4,395.1 531.6,393.3 530.8,391.6 530,389.9 529.2,388.1 528.4,386.4 527.6,384.7 526.8,383 526,381.2 525.1,379.5 524.3,377.8 523.5,376.1 522.7,374.3 521.9,372.6 521.1,370.9 520.3,369.2 519.5,367.4 518.7,365.7 517.9,364 517.1,362.2 516.3,360.5 515.5,358.8 514.7,357.1 513.9,355.3 513.1,353.6 512.3,351.8 511.5,350 510.7,348.2 510,346.4 509.2,344.6 508.4,342.8 507.7,341 506.9,339.2 506.2,337.4 505.4,335.6 504.6,333.8 503.9,332.1 503.1,330.3 502.3,328.6 501.5,326.8 500.6,325.2 499.8,323.5 498.9,321.9 498,320.2 497.1,318.7 496.2,317.1 495.3,315.6 494.3,314.1 493.3,312.7 492.3,311.3 491.3,309.9 490.3,308.5 489.2,307.2 488.1,305.9 487,304.7 485.9,303.4 484.8,302.2 483.7,301 482.5,299.8 481.4,298.6 480.2,297.4 479.1,296.3 477.9,295.1 476.7,294 475.5,292.9 474.3,291.8 473.1,290.7 471.9,289.6 470.7,288.5 469.5,287.4 468.3,286.4 467,285.3 465.8,284.3 464.5,283.3 463.3,282.3 462,281.3 460.7,280.3 459.4,279.3 458.1,278.4 456.8,277.5 455.5,276.6 454.2,275.7 452.8,274.8 451.5,274 450.1,273.1 448.7,272.3 447.3,271.5 445.9,270.8 444.5,270 443.1,269.3 441.6,268.6 440.2,267.9 438.7,267.3 437.2,266.7 435.6,266.1 434.1,265.5 432.6,265 431,264.5 429.4,264 427.8,263.5 426.2,263.1 424.6,262.6 423,262.2 421.4,261.8 419.8,261.3 418.1,260.9 416.5,260.5 414.9,260.1 413.2,259.7 411.6,259.3 409.9,258.9 408.3,258.6 406.6,258.2 405,257.8 403.3,257.4 401.7,257.1 400,256.7 398.4,256.3 396.7,256 395.1,255.6 393.4,255.2 391.7,254.8 390.1,254.5 388.4,254.1 386.8,253.7 385.1,253.4 383.5,253 381.8,252.6 380.1,252.3 378.5,251.9 376.8,251.5 375.2,251.2 373.5,250.8 371.9,250.4 370.2,250 368.6,249.7 366.9,249.3 365.3,248.9 363.6,248.6 361.9,248.2 360.3,247.8 358.6,247.5 357,247.1 355.3,246.7 353.6,246.4 352,246 350.3,245.7 348.6,245.3 347,245 345.3,244.7 343.6,244.3 341.9,244 340.2,243.7 338.5,243.4 336.9,243 335.2,242.7 333.5,242.4 331.8,242.1 330.1,241.8 328.4,241.5 326.7,241.1 325,240.8 323.3,240.5 321.6,240.2 320,239.9 318.3,239.6 316.6,239.3" fill="url(#hb)" stroke="none"/>
<polyline points="316.6,232.8 318.3,233.1 320,233.5 321.7,233.8 323.3,234.1 325,234.5 326.7,234.8 328.4,235.1 330,235.5 331.7,235.8 333.4,236.1 335.1,236.5 336.8,236.8 338.4,237.2 340.1,237.5 341.8,237.8 343.4,238.2 345.1,238.5 346.8,238.9 348.5,239.2 350.1,239.6 351.8,239.9 353.4,240.3 355.1,240.7 356.8,241 358.4,241.4 360.1,241.8 361.7,242.1 363.4,242.5 365.1,242.9 366.7,243.2 368.4,243.6 370,244 371.7,244.3 373.3,244.7 375,245.1 376.6,245.5 378.3,245.8 379.9,246.2 381.6,246.6 383.2,247 384.9,247.3 386.6,247.7 388.2,248.1 389.9,248.5 391.5,248.8 393.2,249.2 394.8,249.6 396.4,250 398.1,250.4 399.7,250.8 401.4,251.2 403,251.5 404.7,251.9 406.3,252.3 407.9,252.7 409.6,253.1 411.2,253.5 412.9,253.9 414.5,254.3 416.1,254.7 417.8,255.1 419.4,255.5 421,255.9 422.7,256.4 424.3,256.8 425.9,257.2 427.5,257.6 429.1,258.1 430.7,258.5 432.3,259 433.9,259.5 435.4,260.1 437,260.6 438.5,261.2 440,261.8 441.5,262.4 443,263.1 444.4,263.8 445.9,264.5 447.3,265.2 448.8,265.9 450.2,266.7 451.6,267.5 452.9,268.3 454.3,269.1 455.7,269.9 457,270.8 458.4,271.7 459.7,272.6 461,273.5 462.3,274.4 463.6,275.3 464.9,276.2 466.2,277.2 467.5,278.1 468.8,279.1 470.1,280.1 471.4,281.1 472.6,282 473.9,283 475.2,284 476.4,285 477.7,286 479,287 480.2,288 481.5,289 482.7,290 484,291.1 485.2,292.1 486.5,293.1 487.7,294.2 488.9,295.3 490.1,296.4 491.2,297.5 492.4,298.7 493.6,299.9 494.7,301.1 495.9,302.3 497,303.5 498.1,304.7 499.2,305.9 500.3,307.2 501.4,308.5 502.4,309.8 503.5,311.2 504.5,312.6 505.5,314 506.5,315.5 507.4,317 508.4,318.5 509.3,320 510.2,321.6 511.1,323.2 511.9,324.9 512.8,326.5 513.6,328.2 514.4,329.9 515.2,331.7 516,333.4 516.8,335.2 517.5,337 518.3,338.8 519,340.6 519.8,342.5 520.5,344.3 521.2,346.2 522,348 522.7,349.9 523.4,351.7 524.2,353.6 524.9,355.4 525.6,357.2 526.4,359.1 527.1,360.9 527.9,362.7 528.6,364.6 529.4,366.4 530.1,368.2 530.8,370 531.6,371.9 532.3,373.7 533.1,375.5 533.8,377.4 534.6,379.2 535.3,381 536.1,382.9 536.8,384.7 537.5,386.5 538.3,388.3 539,390.2 539.8,392 540.5,393.8 541.3,395.7 542,397.5 542.7,399.3 543.5,401.1 544.2,403 545,404.8 545.7,406.6 546.5,408.5 547.2,410.3 547.9,412.1" fill="none" stroke="#0000ff" stroke-width="2.4" stroke-linejoin="round"/>
<polyline points="316.6,239.3 318.3,239.6 320,239.9 321.6,240.2 323.3,240.5 325,240.8 326.7,241.1 328.4,241.5 330.1,241.8 331.8,242.1 333.5,242.4 335.2,242.7 336.9,243 338.5,243.4 340.2,243.7 341.9,244 343.6,244.3 345.3,244.7 347,245 348.6,245.3 350.3,245.7 352,246 353.6,246.4 355.3,246.7 357,247.1 358.6,247.5 360.3,247.8 361.9,248.2 363.6,248.6 365.3,248.9 366.9,249.3 368.6,249.7 370.2,250 371.9,250.4 373.5,250.8 375.2,251.2 376.8,251.5 378.5,251.9 380.1,252.3 381.8,252.6 383.5,253 385.1,253.4 386.8,253.7 388.4,254.1 390.1,254.5 391.7,254.8 393.4,255.2 395.1,255.6 396.7,256 398.4,256.3 400,256.7 401.7,257.1 403.3,257.4 405,257.8 406.6,258.2 408.3,258.6 409.9,258.9 411.6,259.3 413.2,259.7 414.9,260.1 416.5,260.5 418.1,260.9 419.8,261.3 421.4,261.8 423,262.2 424.6,262.6 426.2,263.1 427.8,263.5 429.4,264 431,264.5 432.6,265 434.1,265.5 435.6,266.1 437.2,266.7 438.7,267.3 440.2,267.9 441.6,268.6 443.1,269.3 444.5,270 445.9,270.8 447.3,271.5 448.7,272.3 450.1,273.1 451.5,274 452.8,274.8 454.2,275.7 455.5,276.6 456.8,277.5 458.1,278.4 459.4,279.3 460.7,280.3 462,281.3 463.3,282.3 464.5,283.3 465.8,284.3 467,285.3 468.3,286.4 469.5,287.4 470.7,288.5 471.9,289.6 473.1,290.7 474.3,291.8 475.5,292.9 476.7,294 477.9,295.1 479.1,296.3 480.2,297.4 481.4,298.6 482.5,299.8 483.7,301 484.8,302.2 485.9,303.4 487,304.7 488.1,305.9 489.2,307.2 490.3,308.5 491.3,309.9 492.3,311.3 493.3,312.7 494.3,314.1 495.3,315.6 496.2,317.1 497.1,318.7 498,320.2 498.9,321.9 499.8,323.5 500.6,325.2 501.5,326.8 502.3,328.6 503.1,330.3 503.9,332.1 504.6,333.8 505.4,335.6 506.2,337.4 506.9,339.2 507.7,341 508.4,342.8 509.2,344.6 510,346.4 510.7,348.2 511.5,350 512.3,351.8 513.1,353.6 513.9,355.3 514.7,357.1 515.5,358.8 516.3,360.5 517.1,362.2 517.9,364 518.7,365.7 519.5,367.4 520.3,369.2 521.1,370.9 521.9,372.6 522.7,374.3 523.5,376.1 524.3,377.8 525.1,379.5 526,381.2 526.8,383 527.6,384.7 528.4,386.4 529.2,388.1 530,389.9 530.8,391.6 531.6,393.3 532.4,395.1 533.2,396.8 534,398.5 534.8,400.2 535.6,402 536.5,403.7 537.3,405.4 538.1,407.1 538.9,408.9 539.7,410.6" fill="none" stroke="#0000ff" stroke-width="2.4" stroke-linejoin="round"/>
<polygon points="311.9,271.7 314.7,270.3 317.4,268.9 320.2,267.5 323,266.1 325.7,264.7 328.5,263.3 331.2,262 333.9,260.6 336.6,259.4 339.2,258.2 341.8,257.1 344.3,256.1 346.7,255.2 349.1,254.4 351.5,253.7 353.8,253 356,252.4 358.2,251.9 360.4,251.5 362.5,251.1 364.6,250.7 366.7,250.4 368.8,250.2 370.8,250 372.8,249.8 374.7,249.7 376.7,249.5 378.7,249.4 380.6,249.4 382.5,249.3 384.4,249.2 386.3,249.2 388.2,249.2 390.1,249.2 392,249.2 393.9,249.2 395.7,249.3 397.6,249.3 399.4,249.4 401.3,249.4 403.1,249.5 404.9,249.6 406.8,249.7 408.6,249.9 410.4,250 412.2,250.2 413.9,250.3 415.7,250.5 417.5,250.7 419.2,250.9 421,251.1 422.7,251.4 424.5,251.6 426.2,251.9 427.9,252.2 429.6,252.5 431.3,252.8 433,253.1 434.6,253.5 436.3,253.8 437.9,254.2 439.6,254.6 441.2,255 442.9,255.4 444.5,255.8 446.1,256.2 447.7,256.7 449.3,257.1 450.9,257.6 452.5,258.1 454.1,258.6 455.6,259.1 457.2,259.6 458.7,260.2 460.3,260.7 461.8,261.3 463.3,261.9 464.8,262.5 466.4,263.1 467.8,263.7 469.3,264.3 470.8,265 472.3,265.7 473.7,266.4 475.2,267.1 476.6,267.8 478.1,268.5 479.5,269.2 480.9,270 482.3,270.8 483.7,271.5 485.1,272.3 486.5,273.2 487.8,274 489.2,274.8 490.5,275.7 491.9,276.6 493.2,277.5 494.5,278.4 495.8,279.3 497.1,280.3 498.4,281.3 499.6,282.3 500.9,283.3 502.1,284.3 503.3,285.4 504.6,286.5 505.8,287.6 507,288.7 508.1,289.8 509.3,290.9 510.5,292.1 511.6,293.3 512.8,294.4 513.9,295.6 515,296.9 516.2,298.1 517.3,299.3 518.4,300.6 519.5,301.8 520.6,303.1 521.7,304.4 522.7,305.7 523.8,307 524.9,308.3 526,309.6 527,310.9 528.1,312.2 529.1,313.6 530.2,314.9 531.2,316.3 532.2,317.7 533.3,319.1 534.3,320.4 535.3,321.8 536.3,323.2 537.3,324.7 538.3,326.1 539.3,327.5 540.3,328.9 541.3,330.4 542.3,331.8 543.2,333.3 544.2,334.7 545.2,336.2 546.2,337.6 547.2,339 548.1,340.5 549.1,342 550.1,343.4 551.1,344.9 552.1,346.3 553,347.8 554,349.3 555,350.7 555.9,352.2 556.9,353.6 557.9,355.1 558.9,356.6 559.8,358.1 560.8,359.5 561.8,361 562.7,362.5 563.7,364 564.7,365.4 565.6,366.9 566.6,368.4 567.5,369.8 568.5,371.3 569.5,372.8 570.4,374.3 571.4,375.7 572.4,377.2 573.3,378.7 574.3,380.2 575.3,381.6 576.2,383.1 577.2,384.6 578.2,386 579.1,387.5 580.1,389 581.1,390.5 582,391.9 583,393.4 584,394.9 584.9,396.4 585.9,397.8 586.9,399.3 587.8,400.8 588.8,402.2 589.8,403.7 581,397.1 579.9,395.9 578.9,394.6 577.8,393.3 576.7,392.1 575.6,390.8 574.5,389.5 573.4,388.3 572.3,387 571.2,385.7 570.1,384.5 569,383.2 567.9,381.9 566.8,380.6 565.7,379.4 564.6,378.1 563.5,376.8 562.4,375.6 561.3,374.3 560.3,373 559.2,371.8 558.1,370.5 557,369.2 555.9,368 554.8,366.7 553.7,365.4 552.6,364.2 551.5,362.9 550.4,361.6 549.3,360.4 548.2,359.1 547.1,357.8 546.1,356.5 545,355.2 543.9,353.9 542.9,352.5 541.9,351.2 540.8,349.8 539.8,348.4 538.8,346.9 537.8,345.5 536.9,344 535.9,342.6 534.9,341.1 534,339.6 533,338.1 532,336.7 531.1,335.2 530.1,333.7 529.1,332.2 528.2,330.8 527.2,329.3 526.2,327.9 525.2,326.5 524.2,325.1 523.1,323.7 522.1,322.4 521.1,321 520,319.7 518.9,318.4 517.8,317.1 516.7,315.8 515.6,314.6 514.5,313.4 513.4,312.2 512.3,311 511.1,309.8 509.9,308.6 508.8,307.5 507.6,306.3 506.4,305.2 505.2,304.1 504,303 502.9,301.9 501.7,300.8 500.4,299.7 499.2,298.6 498,297.5 496.8,296.5 495.5,295.4 494.3,294.4 493,293.4 491.8,292.4 490.5,291.4 489.2,290.5 487.9,289.5 486.6,288.6 485.3,287.7 484,286.8 482.6,285.9 481.3,285.1 479.9,284.2 478.6,283.4 477.2,282.5 475.8,281.7 474.4,280.9 473,280.1 471.6,279.3 470.2,278.5 468.8,277.8 467.4,277 466,276.3 464.6,275.6 463.1,274.9 461.7,274.2 460.2,273.5 458.7,272.8 457.2,272.2 455.8,271.6 454.2,270.9 452.7,270.4 451.2,269.8 449.6,269.3 448.1,268.8 446.5,268.3 444.9,267.8 443.3,267.3 441.7,266.9 440,266.5 438.4,266.1 436.7,265.8 435,265.4 433.4,265.1 431.7,264.8 430,264.5 428.2,264.2 426.5,264 424.8,263.7 423,263.5 421.3,263.3 419.5,263.1 417.8,262.9 416,262.7 414.2,262.5 412.4,262.4 410.7,262.2 408.9,262 407.1,261.9 405.3,261.8 403.5,261.6 401.6,261.5 399.8,261.5 397.9,261.4 396.1,261.3 394.2,261.3 392.4,261.3 390.5,261.3 388.6,261.3 386.7,261.4 384.7,261.4 382.8,261.5 380.8,261.6 378.9,261.7 376.9,261.9 374.9,262.1 372.9,262.3 370.8,262.5 368.8,262.8 366.7,263.2 364.5,263.5 362.4,264 360.2,264.5 358,265 355.7,265.6 353.4,266.3 351.1,267 348.7,267.8 346.2,268.7 343.8,269.6 341.2,270.6 338.7,271.7 336.1,272.9 333.4,274 330.8,275.3 328.1,276.5 325.4,277.8 322.8,279.1 320.1,280.3 317.4,281.6 314.7,282.9 312,284.2" fill="url(#hr)" stroke="none"/>
<polyline points="311.9,271.7 314.7,270.3 317.4,268.9 320.2,267.5 323,266.1 325.7,264.7 328.5,263.3 331.2,262 333.9,260.6 336.6,259.4 339.2,258.2 341.8,257.1 344.3,256.1 346.7,255.2 349.1,254.4 351.5,253.7 353.8,253 356,252.4 358.2,251.9 360.4,251.5 362.5,251.1 364.6,250.7 366.7,250.4 368.8,250.2 370.8,250 372.8,249.8 374.7,249.7 376.7,249.5 378.7,249.4 380.6,249.4 382.5,249.3 384.4,249.2 386.3,249.2 388.2,249.2 390.1,249.2 392,249.2 393.9,249.2 395.7,249.3 397.6,249.3 399.4,249.4 401.3,249.4 403.1,249.5 404.9,249.6 406.8,249.7 408.6,249.9 410.4,250 412.2,250.2 413.9,250.3 415.7,250.5 417.5,250.7 419.2,250.9 421,251.1 422.7,251.4 424.5,251.6 426.2,251.9 427.9,252.2 429.6,252.5 431.3,252.8 433,253.1 434.6,253.5 436.3,253.8 437.9,254.2 439.6,254.6 441.2,255 442.9,255.4 444.5,255.8 446.1,256.2 447.7,256.7 449.3,257.1 450.9,257.6 452.5,258.1 454.1,258.6 455.6,259.1 457.2,259.6 458.7,260.2 460.3,260.7 461.8,261.3 463.3,261.9 464.8,262.5 466.4,263.1 467.8,263.7 469.3,264.3 470.8,265 472.3,265.7 473.7,266.4 475.2,267.1 476.6,267.8 478.1,268.5 479.5,269.2 480.9,270 482.3,270.8 483.7,271.5 485.1,272.3 486.5,273.2 487.8,274 489.2,274.8 490.5,275.7 491.9,276.6 493.2,277.5 494.5,278.4 495.8,279.3 497.1,280.3 498.4,281.3 499.6,282.3 500.9,283.3 502.1,284.3 503.3,285.4 504.6,286.5 505.8,287.6 507,288.7 508.1,289.8 509.3,290.9 510.5,292.1 511.6,293.3 512.8,294.4 513.9,295.6 515,296.9 516.2,298.1 517.3,299.3 518.4,300.6 519.5,301.8 520.6,303.1 521.7,304.4 522.7,305.7 523.8,307 524.9,308.3 526,309.6 527,310.9 528.1,312.2 529.1,313.6 530.2,314.9 531.2,316.3 532.2,317.7 533.3,319.1 534.3,320.4 535.3,321.8 536.3,323.2 537.3,324.7 538.3,326.1 539.3,327.5 540.3,328.9 541.3,330.4 542.3,331.8 543.2,333.3 544.2,334.7 545.2,336.2 546.2,337.6 547.2,339 548.1,340.5 549.1,342 550.1,343.4 551.1,344.9 552.1,346.3 553,347.8 554,349.3 555,350.7 555.9,352.2 556.9,353.6 557.9,355.1 558.9,356.6 559.8,358.1 560.8,359.5 561.8,361 562.7,362.5 563.7,364 564.7,365.4 565.6,366.9 566.6,368.4 567.5,369.8 568.5,371.3 569.5,372.8 570.4,374.3 571.4,375.7 572.4,377.2 573.3,378.7 574.3,380.2 575.3,381.6 576.2,383.1 577.2,384.6 578.2,386 579.1,387.5 580.1,389 581.1,390.5 582,391.9 583,393.4 584,394.9 584.9,396.4 585.9,397.8 586.9,399.3 587.8,400.8 588.8,402.2 589.8,403.7" fill="none" stroke="#ff0000" stroke-width="2.4" stroke-linejoin="round"/>
<polyline points="312,284.2 314.7,282.9 317.4,281.6 320.1,280.3 322.8,279.1 325.4,277.8 328.1,276.5 330.8,275.3 333.4,274 336.1,272.9 338.7,271.7 341.2,270.6 343.8,269.6 346.2,268.7 348.7,267.8 351.1,267 353.4,266.3 355.7,265.6 358,265 360.2,264.5 362.4,264 364.5,263.5 366.7,263.2 368.8,262.8 370.8,262.5 372.9,262.3 374.9,262.1 376.9,261.9 378.9,261.7 380.8,261.6 382.8,261.5 384.7,261.4 386.7,261.4 388.6,261.3 390.5,261.3 392.4,261.3 394.2,261.3 396.1,261.3 397.9,261.4 399.8,261.5 401.6,261.5 403.5,261.6 405.3,261.8 407.1,261.9 408.9,262 410.7,262.2 412.4,262.4 414.2,262.5 416,262.7 417.8,262.9 419.5,263.1 421.3,263.3 423,263.5 424.8,263.7 426.5,264 428.2,264.2 430,264.5 431.7,264.8 433.4,265.1 435,265.4 436.7,265.8 438.4,266.1 440,266.5 441.7,266.9 443.3,267.3 444.9,267.8 446.5,268.3 448.1,268.8 449.6,269.3 451.2,269.8 452.7,270.4 454.2,270.9 455.8,271.6 457.2,272.2 458.7,272.8 460.2,273.5 461.7,274.2 463.1,274.9 464.6,275.6 466,276.3 467.4,277 468.8,277.8 470.2,278.5 471.6,279.3 473,280.1 474.4,280.9 475.8,281.7 477.2,282.5 478.6,283.4 479.9,284.2 481.3,285.1 482.6,285.9 484,286.8 485.3,287.7 486.6,288.6 487.9,289.5 489.2,290.5 490.5,291.4 491.8,292.4 493,293.4 494.3,294.4 495.5,295.4 496.8,296.5 498,297.5 499.2,298.6 500.4,299.7 501.7,300.8 502.9,301.9 504,303 505.2,304.1 506.4,305.2 507.6,306.3 508.8,307.5 509.9,308.6 511.1,309.8 512.3,311 513.4,312.2 514.5,313.4 515.6,314.6 516.7,315.8 517.8,317.1 518.9,318.4 520,319.7 521.1,321 522.1,322.4 523.1,323.7 524.2,325.1 525.2,326.5 526.2,327.9 527.2,329.3 528.2,330.8 529.1,332.2 530.1,333.7 531.1,335.2 532,336.7 533,338.1 534,339.6 534.9,341.1 535.9,342.6 536.9,344 537.8,345.5 538.8,346.9 539.8,348.4 540.8,349.8 541.9,351.2 542.9,352.5 543.9,353.9 545,355.2 546.1,356.5 547.1,357.8 548.2,359.1 549.3,360.4 550.4,361.6 551.5,362.9 552.6,364.2 553.7,365.4 554.8,366.7 555.9,368 557,369.2 558.1,370.5 559.2,371.8 560.3,373 561.3,374.3 562.4,375.6 563.5,376.8 564.6,378.1 565.7,379.4 566.8,380.6 567.9,381.9 569,383.2 570.1,384.5 571.2,385.7 572.3,387 573.4,388.3 574.5,389.5 575.6,390.8 576.7,392.1 577.8,393.3 578.9,394.6 579.9,395.9 581,397.1" fill="none" stroke="#ff0000" stroke-width="2.4" stroke-linejoin="round"/>
<path d="M327.41 229.43V235.46M344.88 230.04V263.77M371.39 239.67V246.9M380.06 234.49V273.05M390.9 239.31V247.75M388.86 246.78V250.4M396.69 245.94V256.78M412.59 235.7V243.53M409.94 244.13V247.75M416.57 247.14V253.17M416.57 253.17V262.81M416.81 248.23V251.84M416.2 252.08V262.93M430.9 250.64V254.25M436.08 246.3V255.34M441.27 255.1V258.71M446.57 254.49V258.11M438.73 254.13V278.23M452.95 254.13V263.77M453.8 257.27V262.08M457.17 251.48V261.72M464.16 253.89V261.12M463.19 258.11V262.93M465 259.31V268.95M468.01 260.76V264.37M470.18 256.06V268.11M474.64 254.13V266.18M474.04 261.72V278.59M479.46 264.73V268.35M483.67 262.93V273.17M484.28 267.75V272.57M490.66 260.88V272.93M489.7 271V275.82M492.11 273.77V279.8M495.12 268.95V282.2M495.96 268.59V295.1M500.78 276.78V280.4M501.14 282.2V290.64M501.51 285.22V288.83M506.57 281V284.61M509.88 285.66V291.69M512.29 286.02V289.64M517.11 288.43V295.66M516.75 293.25V298.07M518.67 296.27V307.11M522.77 296.27V310.72M523.13 299.28V304.1M528.55 279.76V301.45M529.16 296.63V306.27M527.11 303.86V315.3M529.76 309.52V313.13M536.14 314.1V317.71M540.36 310.72V325.18M544.82 303.49V325.18M543.01 324.34V331.57M555.66 310.12V329.4M567.35 339.04V346.27M570.72 328.19V347.47" stroke="#000" stroke-width="1.3" fill="none"/>
<g fill="none" stroke="#000" stroke-width="1.3"><circle cx="327.41" cy="232.45" r="1.7"/><circle cx="344.88" cy="246.9" r="1.7"/><circle cx="371.39" cy="243.29" r="1.7"/><circle cx="380.06" cy="253.77" r="1.7"/><circle cx="390.9" cy="244.13" r="1.7"/><circle cx="388.86" cy="248.59" r="1.7"/><circle cx="396.69" cy="251.36" r="1.7"/><circle cx="412.59" cy="239.92" r="1.7"/><circle cx="409.94" cy="245.94" r="1.7"/><circle cx="416.57" cy="250.16" r="1.7"/><circle cx="416.57" cy="256.78" r="1.7"/><circle cx="416.81" cy="250.04" r="1.7"/><circle cx="416.2" cy="256.9" r="1.7"/><circle cx="430.9" cy="252.45" r="1.7"/><circle cx="436.08" cy="251.72" r="1.7"/><circle cx="441.27" cy="256.9" r="1.7"/><circle cx="446.57" cy="256.3" r="1.7"/><circle cx="438.73" cy="266.18" r="1.7"/><circle cx="452.95" cy="258.95" r="1.7"/><circle cx="453.8" cy="259.67" r="1.7"/><circle cx="457.17" cy="256.9" r="1.7"/><circle cx="464.16" cy="257.51" r="1.7"/><circle cx="463.19" cy="260.52" r="1.7"/><circle cx="465" cy="262.93" r="1.7"/><circle cx="468.01" cy="262.57" r="1.7"/><circle cx="470.18" cy="262.08" r="1.7"/><circle cx="474.64" cy="260.16" r="1.7"/><circle cx="474.04" cy="266.54" r="1.7"/><circle cx="479.46" cy="266.54" r="1.7"/><circle cx="483.67" cy="268.35" r="1.7"/><circle cx="484.28" cy="270.16" r="1.7"/><circle cx="490.66" cy="269.31" r="1.7"/><circle cx="489.7" cy="273.41" r="1.7"/><circle cx="492.11" cy="276.78" r="1.7"/><circle cx="495.12" cy="276.18" r="1.7"/><circle cx="495.96" cy="283.05" r="1.7"/><circle cx="500.78" cy="278.59" r="1.7"/><circle cx="501.14" cy="285.82" r="1.7"/><circle cx="501.51" cy="287.02" r="1.7"/><circle cx="506.57" cy="282.81" r="1.7"/><circle cx="509.88" cy="288.67" r="1.7"/><circle cx="512.29" cy="287.83" r="1.7"/><circle cx="517.11" cy="292.05" r="1.7"/><circle cx="516.75" cy="295.66" r="1.7"/><circle cx="518.67" cy="298.67" r="1.7"/><circle cx="522.77" cy="302.29" r="1.7"/><circle cx="523.13" cy="301.69" r="1.7"/><circle cx="528.55" cy="290.6" r="1.7"/><circle cx="529.16" cy="302.65" r="1.7"/><circle cx="527.11" cy="306.27" r="1.7"/><circle cx="529.76" cy="311.33" r="1.7"/><circle cx="536.14" cy="315.9" r="1.7"/><circle cx="540.36" cy="317.95" r="1.7"/><circle cx="544.82" cy="314.34" r="1.7"/><circle cx="543.01" cy="327.95" r="1.7"/><circle cx="555.66" cy="319.76" r="1.7"/><circle cx="567.35" cy="342.65" r="1.7"/><circle cx="570.72" cy="337.83" r="1.7"/></g>
</g>
<g clip-path="url(#c12)">
<polygon points="568.6,236.2 570.3,236.5 572,236.9 573.7,237.2 575.3,237.5 577,237.8 578.7,238.1 580.4,238.5 582.1,238.8 583.8,239.1 585.5,239.4 587.1,239.8 588.8,240.1 590.5,240.4 592.2,240.7 593.9,241.1 595.5,241.4 597.2,241.8 598.9,242.1 600.6,242.4 602.2,242.8 603.9,243.2 605.5,243.5 607.2,243.9 608.9,244.3 610.5,244.6 612.2,245 613.8,245.4 615.5,245.8 617.1,246.1 618.8,246.5 620.4,246.9 622.1,247.3 623.7,247.7 625.4,248 627,248.4 628.7,248.8 630.3,249.2 632,249.5 633.6,249.9 635.3,250.3 636.9,250.7 638.6,251 640.2,251.4 641.9,251.8 643.5,252.2 645.2,252.6 646.8,253 648.5,253.3 650.1,253.7 651.7,254.1 653.4,254.5 655,254.9 656.6,255.3 658.3,255.7 659.9,256.2 661.5,256.6 663.1,257 664.8,257.4 666.4,257.9 668,258.3 669.6,258.8 671.2,259.2 672.8,259.7 674.4,260.1 676,260.6 677.6,261.1 679.1,261.6 680.7,262.1 682.3,262.7 683.8,263.2 685.3,263.8 686.9,264.4 688.4,265 689.9,265.6 691.4,266.2 692.8,266.8 694.3,267.5 695.8,268.2 697.2,268.9 698.7,269.6 700.1,270.3 701.6,271 703,271.7 704.4,272.4 705.9,273.2 707.3,273.9 708.7,274.7 710.1,275.5 711.5,276.2 712.9,277 714.3,277.8 715.7,278.6 717.1,279.4 718.4,280.3 719.8,281.1 721.2,281.9 722.5,282.8 723.8,283.7 725.2,284.6 726.5,285.5 727.8,286.4 729.1,287.3 730.4,288.3 731.6,289.3 732.9,290.3 734.1,291.4 735.3,292.5 736.5,293.6 737.7,294.7 738.9,295.9 740,297 741.2,298.2 742.3,299.4 743.4,300.7 744.5,301.9 745.6,303.2 746.7,304.5 747.7,305.9 748.7,307.3 749.7,308.7 750.7,310.1 751.7,311.6 752.6,313.1 753.6,314.6 754.5,316.1 755.4,317.7 756.3,319.2 757.3,320.8 758.2,322.4 759,323.9 759.9,325.5 760.8,327.2 761.7,328.8 762.6,330.4 763.4,332 764.3,333.7 765.1,335.3 766,337 766.8,338.6 767.7,340.3 768.5,342 769.4,343.6 770.2,345.3 771.1,346.9 772,348.6 772.8,350.2 773.7,351.9 774.6,353.5 775.4,355.1 776.3,356.7 777.2,358.3 778.1,359.9 779,361.4 779.9,363 780.8,364.6 781.7,366.2 782.6,367.8 783.5,369.4 784.4,370.9 785.3,372.5 786.2,374.1 787.1,375.7 788,377.3 788.9,378.9 789.8,380.4 790.7,382 791.6,383.6 792.5,385.2 793.4,386.8 794.3,388.4 795.2,389.9 796.1,391.5 797,393.1 797.9,394.7 798.8,396.3 799.6,397.9 800.5,399.4 801.4,401 802.3,402.6 803.2,404.2 804.1,405.8 786.7,404.7 785.8,403.1 784.9,401.6 784,400 783,398.4 782.1,396.9 781.2,395.3 780.3,393.8 779.4,392.2 778.5,390.7 777.6,389.1 776.7,387.5 775.7,386 774.8,384.4 773.9,382.9 773,381.3 772.1,379.7 771.2,378.2 770.3,376.6 769.4,375.1 768.4,373.5 767.5,371.9 766.6,370.4 765.7,368.8 764.8,367.3 763.9,365.7 763,364.1 762.1,362.6 761.1,361 760.2,359.5 759.3,357.9 758.4,356.3 757.5,354.7 756.6,353.1 755.8,351.5 754.9,349.9 754.1,348.2 753.2,346.5 752.4,344.8 751.6,343.2 750.7,341.5 749.9,339.7 749.1,338 748.3,336.3 747.5,334.6 746.6,332.9 745.8,331.2 745,329.5 744.2,327.8 743.3,326.1 742.5,324.5 741.6,322.8 740.8,321.2 739.9,319.6 739,318 738.1,316.4 737.2,314.8 736.3,313.3 735.3,311.8 734.4,310.3 733.4,308.8 732.4,307.4 731.4,305.9 730.4,304.6 729.4,303.2 728.3,301.9 727.2,300.6 726.1,299.3 725,298 723.9,296.8 722.8,295.6 721.6,294.5 720.4,293.3 719.2,292.2 718,291.1 716.8,290 715.6,289 714.4,287.9 713.1,286.9 711.9,285.9 710.6,284.9 709.3,284 708,283 706.7,282.1 705.4,281.2 704.1,280.3 702.7,279.4 701.4,278.5 700,277.7 698.7,276.8 697.3,276 695.9,275.2 694.5,274.4 693.1,273.7 691.7,273 690.2,272.2 688.8,271.5 687.3,270.9 685.8,270.2 684.3,269.6 682.8,269 681.3,268.4 679.8,267.8 678.2,267.3 676.7,266.7 675.1,266.2 673.5,265.7 671.9,265.3 670.3,264.8 668.7,264.3 667.1,263.9 665.5,263.5 663.9,263.1 662.2,262.7 660.6,262.3 658.9,261.9 657.3,261.5 655.6,261.2 654,260.8 652.3,260.5 650.6,260.1 649,259.8 647.3,259.4 645.6,259 644,258.7 642.3,258.3 640.6,258 639,257.6 637.3,257.3 635.7,256.9 634,256.6 632.3,256.2 630.6,255.9 629,255.5 627.3,255.2 625.6,254.8 623.9,254.5 622.3,254.2 620.6,253.9 618.9,253.5 617.2,253.2 615.5,252.9 613.8,252.6 612.1,252.3 610.4,252.1 608.7,251.8 606.9,251.5 605.2,251.3 603.5,251 601.8,250.8 600,250.5 598.3,250.3 596.5,250.1 594.8,249.9 593,249.7 591.2,249.5 589.5,249.3 587.7,249.1 585.9,248.9 584.2,248.7 582.4,248.5 580.6,248.4 578.8,248.2 577.1,248 575.3,247.8 573.5,247.7 571.7,247.5 570,247.3 568.2,247.1" fill="url(#hb)" stroke="none"/>
<polyline points="568.6,236.2 570.3,236.5 572,236.9 573.7,237.2 575.3,237.5 577,237.8 578.7,238.1 580.4,238.5 582.1,238.8 583.8,239.1 585.5,239.4 587.1,239.8 588.8,240.1 590.5,240.4 592.2,240.7 593.9,241.1 595.5,241.4 597.2,241.8 598.9,242.1 600.6,242.4 602.2,242.8 603.9,243.2 605.5,243.5 607.2,243.9 608.9,244.3 610.5,244.6 612.2,245 613.8,245.4 615.5,245.8 617.1,246.1 618.8,246.5 620.4,246.9 622.1,247.3 623.7,247.7 625.4,248 627,248.4 628.7,248.8 630.3,249.2 632,249.5 633.6,249.9 635.3,250.3 636.9,250.7 638.6,251 640.2,251.4 641.9,251.8 643.5,252.2 645.2,252.6 646.8,253 648.5,253.3 650.1,253.7 651.7,254.1 653.4,254.5 655,254.9 656.6,255.3 658.3,255.7 659.9,256.2 661.5,256.6 663.1,257 664.8,257.4 666.4,257.9 668,258.3 669.6,258.8 671.2,259.2 672.8,259.7 674.4,260.1 676,260.6 677.6,261.1 679.1,261.6 680.7,262.1 682.3,262.7 683.8,263.2 685.3,263.8 686.9,264.4 688.4,265 689.9,265.6 691.4,266.2 692.8,266.8 694.3,267.5 695.8,268.2 697.2,268.9 698.7,269.6 700.1,270.3 701.6,271 703,271.7 704.4,272.4 705.9,273.2 707.3,273.9 708.7,274.7 710.1,275.5 711.5,276.2 712.9,277 714.3,277.8 715.7,278.6 717.1,279.4 718.4,280.3 719.8,281.1 721.2,281.9 722.5,282.8 723.8,283.7 725.2,284.6 726.5,285.5 727.8,286.4 729.1,287.3 730.4,288.3 731.6,289.3 732.9,290.3 734.1,291.4 735.3,292.5 736.5,293.6 737.7,294.7 738.9,295.9 740,297 741.2,298.2 742.3,299.4 743.4,300.7 744.5,301.9 745.6,303.2 746.7,304.5 747.7,305.9 748.7,307.3 749.7,308.7 750.7,310.1 751.7,311.6 752.6,313.1 753.6,314.6 754.5,316.1 755.4,317.7 756.3,319.2 757.3,320.8 758.2,322.4 759,323.9 759.9,325.5 760.8,327.2 761.7,328.8 762.6,330.4 763.4,332 764.3,333.7 765.1,335.3 766,337 766.8,338.6 767.7,340.3 768.5,342 769.4,343.6 770.2,345.3 771.1,346.9 772,348.6 772.8,350.2 773.7,351.9 774.6,353.5 775.4,355.1 776.3,356.7 777.2,358.3 778.1,359.9 779,361.4 779.9,363 780.8,364.6 781.7,366.2 782.6,367.8 783.5,369.4 784.4,370.9 785.3,372.5 786.2,374.1 787.1,375.7 788,377.3 788.9,378.9 789.8,380.4 790.7,382 791.6,383.6 792.5,385.2 793.4,386.8 794.3,388.4 795.2,389.9 796.1,391.5 797,393.1 797.9,394.7 798.8,396.3 799.6,397.9 800.5,399.4 801.4,401 802.3,402.6 803.2,404.2 804.1,405.8" fill="none" stroke="#0000ff" stroke-width="2.4" stroke-linejoin="round"/>
<polyline points="568.2,247.1 570,247.3 571.7,247.5 573.5,247.7 575.3,247.8 577.1,248 578.8,248.2 580.6,248.4 582.4,248.5 584.2,248.7 585.9,248.9 587.7,249.1 589.5,249.3 591.2,249.5 593,249.7 594.8,249.9 596.5,250.1 598.3,250.3 600,250.5 601.8,250.8 603.5,251 605.2,251.3 606.9,251.5 608.7,251.8 610.4,252.1 612.1,252.3 613.8,252.6 615.5,252.9 617.2,253.2 618.9,253.5 620.6,253.9 622.3,254.2 623.9,254.5 625.6,254.8 627.3,255.2 629,255.5 630.6,255.9 632.3,256.2 634,256.6 635.7,256.9 637.3,257.3 639,257.6 640.6,258 642.3,258.3 644,258.7 645.6,259 647.3,259.4 649,259.8 650.6,260.1 652.3,260.5 654,260.8 655.6,261.2 657.3,261.5 658.9,261.9 660.6,262.3 662.2,262.7 663.9,263.1 665.5,263.5 667.1,263.9 668.7,264.3 670.3,264.8 671.9,265.3 673.5,265.7 675.1,266.2 676.7,266.7 678.2,267.3 679.8,267.8 681.3,268.4 682.8,269 684.3,269.6 685.8,270.2 687.3,270.9 688.8,271.5 690.2,272.2 691.7,273 693.1,273.7 694.5,274.4 695.9,275.2 697.3,276 698.7,276.8 700,277.7 701.4,278.5 702.7,279.4 704.1,280.3 705.4,281.2 706.7,282.1 708,283 709.3,284 710.6,284.9 711.9,285.9 713.1,286.9 714.4,287.9 715.6,289 716.8,290 718,291.1 719.2,292.2 720.4,293.3 721.6,294.5 722.8,295.6 723.9,296.8 725,298 726.1,299.3 727.2,300.6 728.3,301.9 729.4,303.2 730.4,304.6 731.4,305.9 732.4,307.4 733.4,308.8 734.4,310.3 735.3,311.8 736.3,313.3 737.2,314.8 738.1,316.4 739,318 739.9,319.6 740.8,321.2 741.6,322.8 742.5,324.5 743.3,326.1 744.2,327.8 745,329.5 745.8,331.2 746.6,332.9 747.5,334.6 748.3,336.3 749.1,338 749.9,339.7 750.7,341.5 751.6,343.2 752.4,344.8 753.2,346.5 754.1,348.2 754.9,349.9 755.8,351.5 756.6,353.1 757.5,354.7 758.4,356.3 759.3,357.9 760.2,359.5 761.1,361 762.1,362.6 763,364.1 763.9,365.7 764.8,367.3 765.7,368.8 766.6,370.4 767.5,371.9 768.4,373.5 769.4,375.1 770.3,376.6 771.2,378.2 772.1,379.7 773,381.3 773.9,382.9 774.8,384.4 775.7,386 776.7,387.5 777.6,389.1 778.5,390.7 779.4,392.2 780.3,393.8 781.2,395.3 782.1,396.9 783,398.4 784,400 784.9,401.6 785.8,403.1 786.7,404.7" fill="none" stroke="#0000ff" stroke-width="2.4" stroke-linejoin="round"/>
<polygon points="565.7,275.3 567.9,274.6 570.2,274 572.5,273.4 574.8,272.7 577.1,272.1 579.4,271.5 581.6,270.8 583.9,270.2 586.2,269.6 588.4,269.1 590.6,268.6 592.8,268.1 595,267.6 597.2,267.1 599.4,266.6 601.6,266 603.9,265.4 606.2,264.7 608.5,264 610.9,263.3 613.2,262.5 615.6,261.7 618,261 620.3,260.2 622.7,259.5 625,258.8 627.3,258.2 629.5,257.6 631.7,257.1 633.9,256.6 636,256.2 638.1,255.9 640.2,255.6 642.2,255.4 644.2,255.2 646.2,255.1 648.1,255 650.1,254.9 652,254.9 653.9,254.8 655.8,254.8 657.6,254.9 659.5,254.9 661.4,255 663.2,255 665,255.1 666.9,255.2 668.7,255.3 670.5,255.4 672.4,255.5 674.2,255.5 676.1,255.6 677.9,255.6 679.8,255.7 681.6,255.7 683.4,255.8 685.2,256 687,256.1 688.8,256.3 690.6,256.5 692.3,256.8 694,257 695.7,257.3 697.4,257.6 699.1,258 700.7,258.3 702.4,258.7 704,259.1 705.6,259.6 707.3,260 708.8,260.5 710.4,261 712,261.5 713.5,262 715.1,262.6 716.6,263.1 718.1,263.7 719.6,264.3 721.1,265 722.6,265.6 724.1,266.3 725.6,266.9 727,267.6 728.5,268.3 729.9,269 731.3,269.8 732.8,270.5 734.2,271.3 735.6,272 737,272.8 738.4,273.6 739.8,274.4 741.1,275.2 742.5,276 743.9,276.9 745.2,277.7 746.6,278.6 747.9,279.5 749.2,280.4 750.5,281.4 751.8,282.4 753,283.4 754.3,284.4 755.5,285.4 756.8,286.5 758,287.6 759.2,288.6 760.4,289.8 761.5,290.9 762.7,292.1 763.9,293.2 765,294.4 766.2,295.6 767.3,296.8 768.5,297.9 769.6,299.1 770.7,300.3 771.9,301.5 773,302.8 774.1,304 775.2,305.2 776.3,306.5 777.4,307.8 778.5,309.1 779.6,310.4 780.6,311.7 781.7,313 782.7,314.3 783.8,315.7 784.8,317 785.9,318.4 786.9,319.7 787.9,321.1 789,322.5 790,323.9 791,325.3 792,326.7 793,328.1 794,329.5 795.1,330.9 796.1,332.3 797.1,333.7 798.1,335.1 799.1,336.5 800.1,337.9 801.1,339.3 802.1,340.7 803.1,342.2 804.1,343.6 805,345.1 806,346.5 807,348 807.9,349.5 808.9,351 809.8,352.5 810.8,354 811.7,355.5 812.6,357.1 813.6,358.6 814.5,360.2 815.4,361.7 816.3,363.3 817.2,364.9 818.1,366.4 819,368 819.9,369.5 820.8,371.1 821.8,372.7 822.7,374.2 823.6,375.8 824.5,377.4 825.4,378.9 826.3,380.5 827.2,382 828.1,383.6 829,385.2 829.9,386.7 830.9,388.3 831.8,389.9 832.7,391.4 833.6,393 834.5,394.5 835.4,396.1 836.3,397.7 837.2,399.2 838.1,400.8 839.1,402.4 840,403.9 840.9,405.5 824.8,399.7 823.8,398.4 822.7,397 821.7,395.7 820.7,394.3 819.6,392.9 818.6,391.6 817.6,390.2 816.5,388.9 815.5,387.5 814.4,386.1 813.4,384.8 812.4,383.4 811.3,382.1 810.3,380.7 809.3,379.3 808.2,378 807.2,376.6 806.2,375.2 805.1,373.9 804.1,372.5 803,371.2 802,369.8 801,368.4 799.9,367.1 798.9,365.7 797.9,364.4 796.8,363 795.8,361.6 794.8,360.3 793.7,358.9 792.7,357.5 791.7,356.2 790.6,354.8 789.6,353.4 788.6,352.1 787.5,350.7 786.5,349.3 785.5,347.9 784.5,346.5 783.5,345.1 782.5,343.7 781.5,342.3 780.4,340.9 779.4,339.5 778.4,338.1 777.4,336.7 776.4,335.3 775.4,333.9 774.4,332.5 773.4,331.1 772.3,329.7 771.3,328.3 770.3,327 769.3,325.6 768.2,324.2 767.2,322.9 766.2,321.5 765.1,320.2 764.1,318.8 763,317.5 761.9,316.2 760.9,314.9 759.8,313.6 758.7,312.3 757.6,311 756.5,309.8 755.4,308.5 754.3,307.3 753.1,306.1 752,304.9 750.8,303.7 749.7,302.6 748.5,301.5 747.3,300.4 746.1,299.3 744.9,298.2 743.6,297.2 742.4,296.2 741.1,295.2 739.8,294.2 738.6,293.2 737.3,292.3 736,291.3 734.6,290.4 733.3,289.5 732,288.6 730.6,287.8 729.3,286.9 727.9,286.1 726.5,285.3 725.1,284.5 723.7,283.8 722.3,283 720.9,282.3 719.4,281.6 718,280.8 716.5,280.1 715.1,279.4 713.6,278.8 712.2,278.1 710.7,277.4 709.2,276.8 707.7,276.1 706.2,275.5 704.7,274.9 703.2,274.3 701.7,273.7 700.2,273.1 698.6,272.6 697.1,272.1 695.5,271.5 693.9,271.1 692.3,270.6 690.7,270.2 689.1,269.7 687.4,269.4 685.8,269 684.1,268.7 682.4,268.4 680.7,268.1 678.9,267.9 677.2,267.7 675.4,267.5 673.6,267.3 671.8,267.1 670,267 668.3,266.8 666.5,266.7 664.7,266.5 662.8,266.4 661,266.3 659.2,266.3 657.3,266.2 655.4,266.2 653.5,266.3 651.6,266.3 649.6,266.4 647.6,266.6 645.6,266.8 643.6,267 641.6,267.3 639.5,267.6 637.4,268 635.2,268.4 633,268.9 630.7,269.5 628.4,270.2 626.1,270.9 623.7,271.7 621.2,272.6 618.7,273.6 616.2,274.6 613.7,275.7 611.1,276.7 608.6,277.8 606,278.9 603.5,279.9 601,280.9 598.5,281.8 596.1,282.7 593.7,283.5 591.3,284.3 588.9,285.1 586.5,285.9 584.2,286.7 581.8,287.5 579.4,288.3 577,289.1 574.6,289.9 572.2,290.7 569.8,291.5 567.5,292.3 565.1,293.1" fill="url(#hr)" stroke="none"/>
<polyline points="565.7,275.3 567.9,274.6 570.2,274 572.5,273.4 574.8,272.7 577.1,272.1 579.4,271.5 581.6,270.8 583.9,270.2 586.2,269.6 588.4,269.1 590.6,268.6 592.8,268.1 595,267.6 597.2,267.1 599.4,266.6 601.6,266 603.9,265.4 606.2,264.7 608.5,264 610.9,263.3 613.2,262.5 615.6,261.7 618,261 620.3,260.2 622.7,259.5 625,258.8 627.3,258.2 629.5,257.6 631.7,257.1 633.9,256.6 636,256.2 638.1,255.9 640.2,255.6 642.2,255.4 644.2,255.2 646.2,255.1 648.1,255 650.1,254.9 652,254.9 653.9,254.8 655.8,254.8 657.6,254.9 659.5,254.9 661.4,255 663.2,255 665,255.1 666.9,255.2 668.7,255.3 670.5,255.4 672.4,255.5 674.2,255.5 676.1,255.6 677.9,255.6 679.8,255.7 681.6,255.7 683.4,255.8 685.2,256 687,256.1 688.8,256.3 690.6,256.5 692.3,256.8 694,257 695.7,257.3 697.4,257.6 699.1,258 700.7,258.3 702.4,258.7 704,259.1 705.6,259.6 707.3,260 708.8,260.5 710.4,261 712,261.5 713.5,262 715.1,262.6 716.6,263.1 718.1,263.7 719.6,264.3 721.1,265 722.6,265.6 724.1,266.3 725.6,266.9 727,267.6 728.5,268.3 729.9,269 731.3,269.8 732.8,270.5 734.2,271.3 735.6,272 737,272.8 738.4,273.6 739.8,274.4 741.1,275.2 742.5,276 743.9,276.9 745.2,277.7 746.6,278.6 747.9,279.5 749.2,280.4 750.5,281.4 751.8,282.4 753,283.4 754.3,284.4 755.5,285.4 756.8,286.5 758,287.6 759.2,288.6 760.4,289.8 761.5,290.9 762.7,292.1 763.9,293.2 765,294.4 766.2,295.6 767.3,296.8 768.5,297.9 769.6,299.1 770.7,300.3 771.9,301.5 773,302.8 774.1,304 775.2,305.2 776.3,306.5 777.4,307.8 778.5,309.1 779.6,310.4 780.6,311.7 781.7,313 782.7,314.3 783.8,315.7 784.8,317 785.9,318.4 786.9,319.7 787.9,321.1 789,322.5 790,323.9 791,325.3 792,326.7 793,328.1 794,329.5 795.1,330.9 796.1,332.3 797.1,333.7 798.1,335.1 799.1,336.5 800.1,337.9 801.1,339.3 802.1,340.7 803.1,342.2 804.1,343.6 805,345.1 806,346.5 807,348 807.9,349.5 808.9,351 809.8,352.5 810.8,354 811.7,355.5 812.6,357.1 813.6,358.6 814.5,360.2 815.4,361.7 816.3,363.3 817.2,364.9 818.1,366.4 819,368 819.9,369.5 820.8,371.1 821.8,372.7 822.7,374.2 823.6,375.8 824.5,377.4 825.4,378.9 826.3,380.5 827.2,382 828.1,383.6 829,385.2 829.9,386.7 830.9,388.3 831.8,389.9 832.7,391.4 833.6,393 834.5,394.5 835.4,396.1 836.3,397.7 837.2,399.2 838.1,400.8 839.1,402.4 840,403.9 840.9,405.5" fill="none" stroke="#ff0000" stroke-width="2.4" stroke-linejoin="round"/>
<polyline points="565.1,293.1 567.5,292.3 569.8,291.5 572.2,290.7 574.6,289.9 577,289.1 579.4,288.3 581.8,287.5 584.2,286.7 586.5,285.9 588.9,285.1 591.3,284.3 593.7,283.5 596.1,282.7 598.5,281.8 601,280.9 603.5,279.9 606,278.9 608.6,277.8 611.1,276.7 613.7,275.7 616.2,274.6 618.7,273.6 621.2,272.6 623.7,271.7 626.1,270.9 628.4,270.2 630.7,269.5 633,268.9 635.2,268.4 637.4,268 639.5,267.6 641.6,267.3 643.6,267 645.6,266.8 647.6,266.6 649.6,266.4 651.6,266.3 653.5,266.3 655.4,266.2 657.3,266.2 659.2,266.3 661,266.3 662.8,266.4 664.7,266.5 666.5,266.7 668.3,266.8 670,267 671.8,267.1 673.6,267.3 675.4,267.5 677.2,267.7 678.9,267.9 680.7,268.1 682.4,268.4 684.1,268.7 685.8,269 687.4,269.4 689.1,269.7 690.7,270.2 692.3,270.6 693.9,271.1 695.5,271.5 697.1,272.1 698.6,272.6 700.2,273.1 701.7,273.7 703.2,274.3 704.7,274.9 706.2,275.5 707.7,276.1 709.2,276.8 710.7,277.4 712.2,278.1 713.6,278.8 715.1,279.4 716.5,280.1 718,280.8 719.4,281.6 720.9,282.3 722.3,283 723.7,283.8 725.1,284.5 726.5,285.3 727.9,286.1 729.3,286.9 730.6,287.8 732,288.6 733.3,289.5 734.6,290.4 736,291.3 737.3,292.3 738.6,293.2 739.8,294.2 741.1,295.2 742.4,296.2 743.6,297.2 744.9,298.2 746.1,299.3 747.3,300.4 748.5,301.5 749.7,302.6 750.8,303.7 752,304.9 753.1,306.1 754.3,307.3 755.4,308.5 756.5,309.8 757.6,311 758.7,312.3 759.8,313.6 760.9,314.9 761.9,316.2 763,317.5 764.1,318.8 765.1,320.2 766.2,321.5 767.2,322.9 768.2,324.2 769.3,325.6 770.3,327 771.3,328.3 772.3,329.7 773.4,331.1 774.4,332.5 775.4,333.9 776.4,335.3 777.4,336.7 778.4,338.1 779.4,339.5 780.4,340.9 781.5,342.3 782.5,343.7 783.5,345.1 784.5,346.5 785.5,347.9 786.5,349.3 787.5,350.7 788.6,352.1 789.6,353.4 790.6,354.8 791.7,356.2 792.7,357.5 793.7,358.9 794.8,360.3 795.8,361.6 796.8,363 797.9,364.4 798.9,365.7 799.9,367.1 801,368.4 802,369.8 803,371.2 804.1,372.5 805.1,373.9 806.2,375.2 807.2,376.6 808.2,378 809.3,379.3 810.3,380.7 811.3,382.1 812.4,383.4 813.4,384.8 814.4,386.1 815.5,387.5 816.5,388.9 817.6,390.2 818.6,391.6 819.6,392.9 820.7,394.3 821.7,395.7 822.7,397 823.8,398.4 824.8,399.7" fill="none" stroke="#ff0000" stroke-width="2.4" stroke-linejoin="round"/>
<path d="M579.65 233.41V239.43M596.52 235.7V268.83M623.39 243.89V249.92M631.82 247.87V268.35M645.31 257.75V275.82M661.7 246.3V252.93M660.98 252.93V257.75M667.96 243.65V261.72M668.57 251.12V255.94M666.16 255.7V262.93M666.4 261V274.86M682.9 250.28V263.53M686.52 246.3V254.73M687.72 264.73V297.87M690.49 258.71V282.81M698.08 259.31V267.75M704.59 256.9V271.36M705.31 265.94V277.99M703.39 272.57V285.82M708.93 262.33V270.76M713.75 264.49V269.31M715.19 261.96V265.58M726.04 252.45V276.54M724.59 266.78V272.81M730.49 266.54V290.64M735.31 269.8V277.02M735.07 274.37V280.4M742.66 272.57V294.25M743.51 278.59V283.41M740.73 284.86V288.47M746.52 273.77V288.23M752.3 266.18V279.43M752.78 284.98V292.2M754.35 282.2V293.05M757.11 285.42V296.27M761.93 294.46V298.07M768.31 281.2V292.05M766.75 291.45V296.27M768.55 296.02V299.64M775.18 300.48V305.3M780.6 280V304.1M780.84 304.1V308.92M781.2 307.71V313.73M782.05 309.88V315.9M778.8 308.31V336.02M788.07 306.87V315.3M788.07 316.39V321.2M794.82 314.1V329.16M801.33 324.22V332.65M807.71 313.73V331.2M808.07 330.84V340.48M819.16 341.81V350.24" stroke="#000" stroke-width="1.3" fill="none"/>
<g fill="none" stroke="#000" stroke-width="1.3"><circle cx="579.65" cy="236.42" r="1.7"/><circle cx="596.52" cy="252.57" r="1.7"/><circle cx="623.39" cy="246.9" r="1.7"/><circle cx="631.82" cy="258.11" r="1.7"/><circle cx="645.31" cy="266.78" r="1.7"/><circle cx="661.7" cy="250.52" r="1.7"/><circle cx="660.98" cy="255.34" r="1.7"/><circle cx="667.96" cy="253.29" r="1.7"/><circle cx="668.57" cy="253.53" r="1.7"/><circle cx="666.16" cy="259.31" r="1.7"/><circle cx="666.4" cy="267.02" r="1.7"/><circle cx="682.9" cy="257.51" r="1.7"/><circle cx="686.52" cy="250.52" r="1.7"/><circle cx="687.72" cy="281.6" r="1.7"/><circle cx="690.49" cy="270.76" r="1.7"/><circle cx="698.08" cy="263.53" r="1.7"/><circle cx="704.59" cy="264.13" r="1.7"/><circle cx="705.31" cy="270.76" r="1.7"/><circle cx="703.39" cy="278.59" r="1.7"/><circle cx="708.93" cy="266.54" r="1.7"/><circle cx="713.75" cy="266.9" r="1.7"/><circle cx="715.19" cy="263.77" r="1.7"/><circle cx="726.04" cy="264.49" r="1.7"/><circle cx="724.59" cy="269.8" r="1.7"/><circle cx="730.49" cy="278.59" r="1.7"/><circle cx="735.31" cy="273.41" r="1.7"/><circle cx="735.07" cy="276.78" r="1.7"/><circle cx="742.66" cy="283.41" r="1.7"/><circle cx="743.51" cy="281" r="1.7"/><circle cx="740.73" cy="286.66" r="1.7"/><circle cx="746.52" cy="280.4" r="1.7"/><circle cx="752.3" cy="272.81" r="1.7"/><circle cx="752.78" cy="288.59" r="1.7"/><circle cx="754.35" cy="287.63" r="1.7"/><circle cx="757.11" cy="290.24" r="1.7"/><circle cx="761.93" cy="296.27" r="1.7"/><circle cx="768.31" cy="286.63" r="1.7"/><circle cx="766.75" cy="293.86" r="1.7"/><circle cx="768.55" cy="297.83" r="1.7"/><circle cx="775.18" cy="302.89" r="1.7"/><circle cx="780.6" cy="292.05" r="1.7"/><circle cx="780.84" cy="306.51" r="1.7"/><circle cx="781.2" cy="310.72" r="1.7"/><circle cx="782.05" cy="312.29" r="1.7"/><circle cx="778.8" cy="320.36" r="1.7"/><circle cx="788.07" cy="311.08" r="1.7"/><circle cx="788.07" cy="318.8" r="1.7"/><circle cx="794.82" cy="321.93" r="1.7"/><circle cx="801.33" cy="328.43" r="1.7"/><circle cx="807.71" cy="322.77" r="1.7"/><circle cx="808.07" cy="334.46" r="1.7"/><circle cx="819.16" cy="346.02" r="1.7"/></g>
</g>
<g clip-path="url(#c20)">
<polygon points="64.8,419.8 66.5,420.3 68.1,420.7 69.7,421.1 71.4,421.5 73,421.9 74.6,422.3 76.3,422.7 77.9,423.1 79.5,423.5 81.1,423.9 82.8,424.3 84.4,424.8 86,425.2 87.7,425.6 89.3,426 90.9,426.4 92.6,426.8 94.2,427.2 95.9,427.6 97.5,428 99.1,428.4 100.8,428.8 102.4,429.2 104.1,429.5 105.7,429.9 107.3,430.3 109,430.7 110.6,431.1 112.3,431.5 113.9,431.9 115.6,432.3 117.2,432.6 118.9,433 120.5,433.4 122.2,433.8 123.8,434.2 125.5,434.6 127.1,434.9 128.8,435.3 130.4,435.7 132.1,436.1 133.7,436.5 135.4,436.8 137,437.2 138.7,437.6 140.3,438 142,438.3 143.6,438.7 145.2,439.1 146.9,439.5 148.5,439.9 150.2,440.3 151.8,440.7 153.5,441.1 155.1,441.5 156.7,441.9 158.3,442.4 159.9,442.8 161.5,443.3 163.1,443.8 164.7,444.2 166.3,444.7 167.9,445.2 169.4,445.7 171,446.2 172.6,446.7 174.2,447.2 175.7,447.7 177.3,448.2 178.8,448.7 180.4,449.3 182,449.8 183.5,450.3 185.1,450.9 186.6,451.4 188.1,452 189.7,452.6 191.2,453.1 192.7,453.7 194.2,454.3 195.7,454.9 197.2,455.5 198.7,456.2 200.2,456.8 201.7,457.5 203.2,458.1 204.6,458.8 206.1,459.5 207.5,460.2 209,460.9 210.4,461.6 211.8,462.4 213.3,463.1 214.7,463.9 216.1,464.6 217.5,465.4 218.9,466.2 220.2,467.1 221.6,467.9 223,468.7 224.3,469.6 225.6,470.5 227,471.4 228.3,472.3 229.6,473.2 230.8,474.2 232.1,475.2 233.4,476.3 234.6,477.3 235.8,478.4 237,479.5 238.2,480.6 239.4,481.7 240.6,482.8 241.7,484 242.9,485.1 244,486.3 245.2,487.5 246.3,488.8 247.4,490 248.5,491.3 249.6,492.6 250.6,493.9 251.7,495.2 252.7,496.6 253.7,498 254.7,499.4 255.7,500.8 256.7,502.3 257.7,503.8 258.6,505.3 259.5,506.8 260.5,508.3 261.4,509.9 262.3,511.5 263.2,513.1 264,514.7 264.9,516.4 265.8,518 266.6,519.7 267.4,521.3 268.3,523 269.1,524.7 269.9,526.4 270.7,528.1 271.6,529.8 272.4,531.5 273.2,533.3 274,535 274.8,536.7 275.6,538.4 276.4,540.2 277.2,541.9 278,543.6 278.8,545.4 279.6,547.1 280.4,548.8 281.3,550.6 282.1,552.3 282.9,554 283.7,555.8 284.5,557.5 285.3,559.2 286.1,561 286.9,562.7 287.7,564.4 288.5,566.1 289.3,567.9 290.1,569.6 290.9,571.3 291.7,573.1 292.5,574.8 293.3,576.5 294.1,578.3 294.9,580 295.7,581.7 296.5,583.5 297.3,585.2 298.2,586.9 299,588.7 299.8,590.4 263.8,590 263,588.3 262.2,586.5 261.4,584.8 260.6,583 259.8,581.3 259,579.5 258.2,577.8 257.4,576.1 256.6,574.3 255.8,572.6 255,570.8 254.2,569.1 253.4,567.4 252.6,565.6 251.8,563.9 251,562.1 250.2,560.4 249.4,558.6 248.6,556.9 247.8,555.2 247,553.4 246.2,551.7 245.4,549.9 244.6,548.2 243.8,546.5 243,544.7 242.2,543 241.4,541.2 240.6,539.5 239.8,537.7 239,536 238.2,534.3 237.4,532.5 236.6,530.8 235.8,529.1 235,527.4 234.2,525.6 233.4,523.9 232.5,522.2 231.7,520.5 230.9,518.8 230.1,517.1 229.2,515.5 228.4,513.8 227.5,512.1 226.7,510.5 225.8,508.9 224.9,507.2 224,505.6 223.1,504.1 222.2,502.5 221.3,501 220.4,499.4 219.4,497.9 218.5,496.4 217.5,495 216.5,493.6 215.5,492.1 214.5,490.7 213.5,489.4 212.4,488 211.4,486.7 210.3,485.3 209.3,484 208.2,482.7 207.1,481.4 206,480.1 204.9,478.9 203.8,477.6 202.7,476.4 201.6,475.2 200.4,474 199.3,472.8 198.1,471.7 196.9,470.5 195.7,469.4 194.5,468.3 193.3,467.3 192.1,466.2 190.8,465.2 189.5,464.2 188.3,463.2 187,462.3 185.7,461.4 184.3,460.5 183,459.6 181.6,458.8 180.3,457.9 178.9,457.1 177.5,456.4 176.1,455.6 174.6,454.9 173.2,454.2 171.7,453.5 170.3,452.8 168.8,452.2 167.3,451.5 165.8,450.9 164.3,450.3 162.7,449.8 161.2,449.2 159.6,448.7 158.1,448.1 156.5,447.6 154.9,447.1 153.3,446.7 151.7,446.2 150.1,445.8 148.5,445.4 146.9,444.9 145.2,444.5 143.6,444.1 142,443.7 140.3,443.4 138.7,443 137,442.6 135.4,442.2 133.7,441.9 132,441.5 130.4,441.1 128.7,440.8 127,440.4 125.4,440.1 123.7,439.7 122,439.4 120.4,439 118.7,438.7 117,438.4 115.4,438 113.7,437.7 112,437.3 110.3,437 108.7,436.6 107,436.3 105.3,436 103.6,435.6 102,435.3 100.3,435 98.6,434.7 96.9,434.4 95.2,434 93.5,433.7 91.8,433.4 90.1,433.1 88.4,432.8 86.7,432.5 85,432.3 83.3,432 81.6,431.7 79.9,431.4 78.2,431.1 76.5,430.8 74.7,430.5 73,430.3 71.3,430 69.6,429.7 67.9,429.4 66.2,429.1 64.5,428.9" fill="url(#hb)" stroke="none"/>
<polyline points="64.8,419.8 66.5,420.3 68.1,420.7 69.7,421.1 71.4,421.5 73,421.9 74.6,422.3 76.3,422.7 77.9,423.1 79.5,423.5 81.1,423.9 82.8,424.3 84.4,424.8 86,425.2 87.7,425.6 89.3,426 90.9,426.4 92.6,426.8 94.2,427.2 95.9,427.6 97.5,428 99.1,428.4 100.8,428.8 102.4,429.2 104.1,429.5 105.7,429.9 107.3,430.3 109,430.7 110.6,431.1 112.3,431.5 113.9,431.9 115.6,432.3 117.2,432.6 118.9,433 120.5,433.4 122.2,433.8 123.8,434.2 125.5,434.6 127.1,434.9 128.8,435.3 130.4,435.7 132.1,436.1 133.7,436.5 135.4,436.8 137,437.2 138.7,437.6 140.3,438 142,438.3 143.6,438.7 145.2,439.1 146.9,439.5 148.5,439.9 150.2,440.3 151.8,440.7 153.5,441.1 155.1,441.5 156.7,441.9 158.3,442.4 159.9,442.8 161.5,443.3 163.1,443.8 164.7,444.2 166.3,444.7 167.9,445.2 169.4,445.7 171,446.2 172.6,446.7 174.2,447.2 175.7,447.7 177.3,448.2 178.8,448.7 180.4,449.3 182,449.8 183.5,450.3 185.1,450.9 186.6,451.4 188.1,452 189.7,452.6 191.2,453.1 192.7,453.7 194.2,454.3 195.7,454.9 197.2,455.5 198.7,456.2 200.2,456.8 201.7,457.5 203.2,458.1 204.6,458.8 206.1,459.5 207.5,460.2 209,460.9 210.4,461.6 211.8,462.4 213.3,463.1 214.7,463.9 216.1,464.6 217.5,465.4 218.9,466.2 220.2,467.1 221.6,467.9 223,468.7 224.3,469.6 225.6,470.5 227,471.4 228.3,472.3 229.6,473.2 230.8,474.2 232.1,475.2 233.4,476.3 234.6,477.3 235.8,478.4 237,479.5 238.2,480.6 239.4,481.7 240.6,482.8 241.7,484 242.9,485.1 244,486.3 245.2,487.5 246.3,488.8 247.4,490 248.5,491.3 249.6,492.6 250.6,493.9 251.7,495.2 252.7,496.6 253.7,498 254.7,499.4 255.7,500.8 256.7,502.3 257.7,503.8 258.6,505.3 259.5,506.8 260.5,508.3 261.4,509.9 262.3,511.5 263.2,513.1 264,514.7 264.9,516.4 265.8,518 266.6,519.7 267.4,521.3 268.3,523 269.1,524.7 269.9,526.4 270.7,528.1 271.6,529.8 272.4,531.5 273.2,533.3 274,535 274.8,536.7 275.6,538.4 276.4,540.2 277.2,541.9 278,543.6 278.8,545.4 279.6,547.1 280.4,548.8 281.3,550.6 282.1,552.3 282.9,554 283.7,555.8 284.5,557.5 285.3,559.2 286.1,561 286.9,562.7 287.7,564.4 288.5,566.1 289.3,567.9 290.1,569.6 290.9,571.3 291.7,573.1 292.5,574.8 293.3,576.5 294.1,578.3 294.9,580 295.7,581.7 296.5,583.5 297.3,585.2 298.2,586.9 299,588.7 299.8,590.4" fill="none" stroke="#0000ff" stroke-width="2.4" stroke-linejoin="round"/>
<polyline points="64.5,428.9 66.2,429.1 67.9,429.4 69.6,429.7 71.3,430 73,430.3 74.7,430.5 76.5,430.8 78.2,431.1 79.9,431.4 81.6,431.7 83.3,432 85,432.3 86.7,432.5 88.4,432.8 90.1,433.1 91.8,433.4 93.5,433.7 95.2,434 96.9,434.4 98.6,434.7 100.3,435 102,435.3 103.6,435.6 105.3,436 107,436.3 108.7,436.6 110.3,437 112,437.3 113.7,437.7 115.4,438 117,438.4 118.7,438.7 120.4,439 122,439.4 123.7,439.7 125.4,440.1 127,440.4 128.7,440.8 130.4,441.1 132,441.5 133.7,441.9 135.4,442.2 137,442.6 138.7,443 140.3,443.4 142,443.7 143.6,444.1 145.2,444.5 146.9,444.9 148.5,445.4 150.1,445.8 151.7,446.2 153.3,446.7 154.9,447.1 156.5,447.6 158.1,448.1 159.6,448.7 161.2,449.2 162.7,449.8 164.3,450.3 165.8,450.9 167.3,451.5 168.8,452.2 170.3,452.8 171.7,453.5 173.2,454.2 174.6,454.9 176.1,455.6 177.5,456.4 178.9,457.1 180.3,457.9 181.6,458.8 183,459.6 184.3,460.5 185.7,461.4 187,462.3 188.3,463.2 189.5,464.2 190.8,465.2 192.1,466.2 193.3,467.3 194.5,468.3 195.7,469.4 196.9,470.5 198.1,471.7 199.3,472.8 200.4,474 201.6,475.2 202.7,476.4 203.8,477.6 204.9,478.9 206,480.1 207.1,481.4 208.2,482.7 209.3,484 210.3,485.3 211.4,486.7 212.4,488 213.5,489.4 214.5,490.7 215.5,492.1 216.5,493.6 217.5,495 218.5,496.4 219.4,497.9 220.4,499.4 221.3,501 222.2,502.5 223.1,504.1 224,505.6 224.9,507.2 225.8,508.9 226.7,510.5 227.5,512.1 228.4,513.8 229.2,515.5 230.1,517.1 230.9,518.8 231.7,520.5 232.5,522.2 233.4,523.9 234.2,525.6 235,527.4 235.8,529.1 236.6,530.8 237.4,532.5 238.2,534.3 239,536 239.8,537.7 240.6,539.5 241.4,541.2 242.2,543 243,544.7 243.8,546.5 244.6,548.2 245.4,549.9 246.2,551.7 247,553.4 247.8,555.2 248.6,556.9 249.4,558.6 250.2,560.4 251,562.1 251.8,563.9 252.6,565.6 253.4,567.4 254.2,569.1 255,570.8 255.8,572.6 256.6,574.3 257.4,576.1 258.2,577.8 259,579.5 259.8,581.3 260.6,583 261.4,584.8 262.2,586.5 263,588.3 263.8,590" fill="none" stroke="#0000ff" stroke-width="2.4" stroke-linejoin="round"/>
<polygon points="62,454.6 64.2,454 66.5,453.4 68.7,452.8 71,452.2 73.2,451.6 75.5,451.1 77.7,450.5 79.9,450 82,449.6 84.1,449.3 86.2,449 88.2,448.9 90.1,448.8 92,448.8 93.8,448.8 95.7,448.9 97.5,449.1 99.3,449.2 101,449.4 102.8,449.6 104.6,449.7 106.4,449.9 108.2,450 110,450.1 111.9,450.1 113.8,450.1 115.8,450 117.7,449.9 119.8,449.6 121.8,449.4 123.9,449.1 126,448.7 128.2,448.3 130.3,447.8 132.5,447.3 134.7,446.9 136.9,446.4 139.1,445.9 141.3,445.4 143.4,445 145.6,444.6 147.7,444.2 149.8,443.9 151.9,443.5 153.9,443.2 156,443 158.1,442.7 160.1,442.5 162.1,442.3 164.1,442.1 166.1,442 168,441.9 170,441.8 171.9,441.7 173.8,441.7 175.7,441.6 177.6,441.7 179.4,441.7 181.2,441.8 183,442 184.8,442.1 186.6,442.3 188.3,442.6 190,442.8 191.7,443.1 193.4,443.4 195.1,443.8 196.8,444.1 198.5,444.5 200.1,444.9 201.7,445.3 203.4,445.7 205,446.1 206.6,446.5 208.2,447 209.8,447.4 211.4,447.9 213,448.4 214.5,448.9 216.1,449.4 217.7,449.9 219.2,450.5 220.8,451 222.3,451.6 223.8,452.2 225.3,452.8 226.8,453.4 228.3,454.1 229.7,454.8 231.2,455.5 232.6,456.2 234,457 235.4,457.8 236.8,458.6 238.1,459.5 239.5,460.3 240.8,461.2 242.2,462.1 243.5,463 244.8,463.9 246.1,464.9 247.3,465.9 248.6,466.9 249.9,467.9 251.1,468.9 252.4,469.9 253.6,470.9 254.9,471.9 256.1,473 257.3,474 258.6,475.1 259.8,476.2 261,477.3 262.2,478.4 263.4,479.5 264.5,480.6 265.7,481.8 266.8,483 268,484.2 269.1,485.4 270.2,486.6 271.3,487.8 272.5,489.1 273.6,490.3 274.7,491.6 275.8,492.9 276.9,494.1 277.9,495.4 279,496.7 280.1,497.9 281.2,499.2 282.3,500.5 283.4,501.7 284.5,503 285.6,504.3 286.7,505.6 287.8,506.8 288.9,508.1 290,509.4 291,510.7 292.1,512 293.2,513.2 294.3,514.5 295.4,515.8 296.4,517.2 297.5,518.5 298.5,519.8 299.6,521.2 300.6,522.6 301.6,523.9 302.6,525.4 303.6,526.8 304.6,528.2 305.6,529.7 306.5,531.2 307.5,532.6 308.4,534.1 309.4,535.7 310.3,537.2 311.3,538.7 312.2,540.2 313.1,541.7 314.1,543.3 315,544.8 315.9,546.3 316.9,547.8 317.8,549.4 318.7,550.9 319.7,552.4 320.6,553.9 321.5,555.5 322.5,557 323.4,558.5 324.3,560.1 325.3,561.6 326.2,563.1 327.1,564.6 328.1,566.2 329,567.7 329.9,569.2 330.9,570.7 331.8,572.3 332.7,573.8 333.7,575.3 334.6,576.9 335.5,578.4 336.5,579.9 337.4,581.4 338.3,583 339.3,584.5 308.3,580.8 307.3,579.4 306.3,578.1 305.2,576.7 304.2,575.3 303.2,574 302.1,572.6 301.1,571.3 300,569.9 299,568.5 298,567.2 296.9,565.8 295.9,564.4 294.9,563.1 293.8,561.7 292.8,560.4 291.8,559 290.7,557.6 289.7,556.3 288.6,554.9 287.6,553.6 286.6,552.2 285.5,550.8 284.5,549.5 283.5,548.1 282.4,546.8 281.4,545.4 280.4,544 279.3,542.7 278.3,541.3 277.3,539.9 276.2,538.6 275.2,537.2 274.2,535.8 273.1,534.5 272.1,533.1 271.1,531.7 270,530.3 269,529 268,527.6 267,526.2 266,524.8 265,523.3 264,521.9 263,520.5 262,519.1 261,517.6 260,516.2 259,514.8 258,513.4 257,511.9 256,510.5 255,509.1 254,507.7 252.9,506.4 251.9,505 250.9,503.7 249.8,502.4 248.7,501.1 247.6,499.8 246.5,498.5 245.4,497.3 244.3,496.1 243.2,494.9 242,493.7 240.8,492.6 239.6,491.5 238.4,490.4 237.2,489.3 236,488.2 234.7,487.2 233.5,486.2 232.2,485.2 231,484.2 229.7,483.2 228.4,482.3 227.1,481.3 225.8,480.4 224.5,479.5 223.2,478.6 221.8,477.7 220.5,476.8 219.2,475.9 217.8,475.1 216.5,474.2 215.1,473.4 213.7,472.5 212.4,471.7 211,470.9 209.6,470.1 208.2,469.3 206.8,468.5 205.4,467.8 204,467 202.5,466.3 201.1,465.6 199.7,464.8 198.2,464.1 196.8,463.5 195.3,462.8 193.8,462.1 192.3,461.5 190.8,460.9 189.3,460.2 187.8,459.7 186.3,459.1 184.7,458.5 183.2,458 181.6,457.5 180,457 178.4,456.5 176.8,456.1 175.2,455.7 173.5,455.4 171.8,455.1 170.1,454.8 168.3,454.7 166.4,454.7 164.5,454.7 162.6,454.7 160.6,454.9 158.6,455 156.6,455.2 154.6,455.5 152.6,455.7 150.5,455.9 148.5,456.2 146.4,456.4 144.4,456.7 142.3,457 140.2,457.4 138,457.8 135.9,458.2 133.7,458.7 131.5,459.2 129.3,459.7 127.1,460.2 124.9,460.7 122.7,461.2 120.5,461.6 118.4,462.1 116.3,462.4 114.2,462.7 112.1,463 110.1,463.2 108.1,463.4 106.2,463.5 104.3,463.5 102.3,463.6 100.4,463.6 98.5,463.6 96.6,463.7 94.7,463.7 92.8,463.8 90.8,463.9 88.8,464.1 86.7,464.4 84.6,464.7 82.5,465.2 80.2,465.8 77.9,466.4 75.6,467.1 73.3,467.9 70.9,468.6 68.5,469.4 66.2,470.1 63.8,470.8 61.5,471.6" fill="url(#hr)" stroke="none"/>
<polyline points="62,454.6 64.2,454 66.5,453.4 68.7,452.8 71,452.2 73.2,451.6 75.5,451.1 77.7,450.5 79.9,450 82,449.6 84.1,449.3 86.2,449 88.2,448.9 90.1,448.8 92,448.8 93.8,448.8 95.7,448.9 97.5,449.1 99.3,449.2 101,449.4 102.8,449.6 104.6,449.7 106.4,449.9 108.2,450 110,450.1 111.9,450.1 113.8,450.1 115.8,450 117.7,449.9 119.8,449.6 121.8,449.4 123.9,449.1 126,448.7 128.2,448.3 130.3,447.8 132.5,447.3 134.7,446.9 136.9,446.4 139.1,445.9 141.3,445.4 143.4,445 145.6,444.6 147.7,444.2 149.8,443.9 151.9,443.5 153.9,443.2 156,443 158.1,442.7 160.1,442.5 162.1,442.3 164.1,442.1 166.1,442 168,441.9 170,441.8 171.9,441.7 173.8,441.7 175.7,441.6 177.6,441.7 179.4,441.7 181.2,441.8 183,442 184.8,442.1 186.6,442.3 188.3,442.6 190,442.8 191.7,443.1 193.4,443.4 195.1,443.8 196.8,444.1 198.5,444.5 200.1,444.9 201.7,445.3 203.4,445.7 205,446.1 206.6,446.5 208.2,447 209.8,447.4 211.4,447.9 213,448.4 214.5,448.9 216.1,449.4 217.7,449.9 219.2,450.5 220.8,451 222.3,451.6 223.8,452.2 225.3,452.8 226.8,453.4 228.3,454.1 229.7,454.8 231.2,455.5 232.6,456.2 234,457 235.4,457.8 236.8,458.6 238.1,459.5 239.5,460.3 240.8,461.2 242.2,462.1 243.5,463 244.8,463.9 246.1,464.9 247.3,465.9 248.6,466.9 249.9,467.9 251.1,468.9 252.4,469.9 253.6,470.9 254.9,471.9 256.1,473 257.3,474 258.6,475.1 259.8,476.2 261,477.3 262.2,478.4 263.4,479.5 264.5,480.6 265.7,481.8 266.8,483 268,484.2 269.1,485.4 270.2,486.6 271.3,487.8 272.5,489.1 273.6,490.3 274.7,491.6 275.8,492.9 276.9,494.1 277.9,495.4 279,496.7 280.1,497.9 281.2,499.2 282.3,500.5 283.4,501.7 284.5,503 285.6,504.3 286.7,505.6 287.8,506.8 288.9,508.1 290,509.4 291,510.7 292.1,512 293.2,513.2 294.3,514.5 295.4,515.8 296.4,517.2 297.5,518.5 298.5,519.8 299.6,521.2 300.6,522.6 301.6,523.9 302.6,525.4 303.6,526.8 304.6,528.2 305.6,529.7 306.5,531.2 307.5,532.6 308.4,534.1 309.4,535.7 310.3,537.2 311.3,538.7 312.2,540.2 313.1,541.7 314.1,543.3 315,544.8 315.9,546.3 316.9,547.8 317.8,549.4 318.7,550.9 319.7,552.4 320.6,553.9 321.5,555.5 322.5,557 323.4,558.5 324.3,560.1 325.3,561.6 326.2,563.1 327.1,564.6 328.1,566.2 329,567.7 329.9,569.2 330.9,570.7 331.8,572.3 332.7,573.8 333.7,575.3 334.6,576.9 335.5,578.4 336.5,579.9 337.4,581.4 338.3,583 339.3,584.5" fill="none" stroke="#ff0000" stroke-width="2.4" stroke-linejoin="round"/>
<polyline points="61.5,471.6 63.8,470.8 66.2,470.1 68.5,469.4 70.9,468.6 73.3,467.9 75.6,467.1 77.9,466.4 80.2,465.8 82.5,465.2 84.6,464.7 86.7,464.4 88.8,464.1 90.8,463.9 92.8,463.8 94.7,463.7 96.6,463.7 98.5,463.6 100.4,463.6 102.3,463.6 104.3,463.5 106.2,463.5 108.1,463.4 110.1,463.2 112.1,463 114.2,462.7 116.3,462.4 118.4,462.1 120.5,461.6 122.7,461.2 124.9,460.7 127.1,460.2 129.3,459.7 131.5,459.2 133.7,458.7 135.9,458.2 138,457.8 140.2,457.4 142.3,457 144.4,456.7 146.4,456.4 148.5,456.2 150.5,455.9 152.6,455.7 154.6,455.5 156.6,455.2 158.6,455 160.6,454.9 162.6,454.7 164.5,454.7 166.4,454.7 168.3,454.7 170.1,454.8 171.8,455.1 173.5,455.4 175.2,455.7 176.8,456.1 178.4,456.5 180,457 181.6,457.5 183.2,458 184.7,458.5 186.3,459.1 187.8,459.7 189.3,460.2 190.8,460.9 192.3,461.5 193.8,462.1 195.3,462.8 196.8,463.5 198.2,464.1 199.7,464.8 201.1,465.6 202.5,466.3 204,467 205.4,467.8 206.8,468.5 208.2,469.3 209.6,470.1 211,470.9 212.4,471.7 213.7,472.5 215.1,473.4 216.5,474.2 217.8,475.1 219.2,475.9 220.5,476.8 221.8,477.7 223.2,478.6 224.5,479.5 225.8,480.4 227.1,481.3 228.4,482.3 229.7,483.2 231,484.2 232.2,485.2 233.5,486.2 234.7,487.2 236,488.2 237.2,489.3 238.4,490.4 239.6,491.5 240.8,492.6 242,493.7 243.2,494.9 244.3,496.1 245.4,497.3 246.5,498.5 247.6,499.8 248.7,501.1 249.8,502.4 250.9,503.7 251.9,505 252.9,506.4 254,507.7 255,509.1 256,510.5 257,511.9 258,513.4 259,514.8 260,516.2 261,517.6 262,519.1 263,520.5 264,521.9 265,523.3 266,524.8 267,526.2 268,527.6 269,529 270,530.3 271.1,531.7 272.1,533.1 273.1,534.5 274.2,535.8 275.2,537.2 276.2,538.6 277.3,539.9 278.3,541.3 279.3,542.7 280.4,544 281.4,545.4 282.4,546.8 283.5,548.1 284.5,549.5 285.5,550.8 286.6,552.2 287.6,553.6 288.6,554.9 289.7,556.3 290.7,557.6 291.8,559 292.8,560.4 293.8,561.7 294.9,563.1 295.9,564.4 296.9,565.8 298,567.2 299,568.5 300,569.9 301.1,571.3 302.1,572.6 303.2,574 304.2,575.3 305.2,576.7 306.3,578.1 307.3,579.4 308.3,580.8" fill="none" stroke="#ff0000" stroke-width="2.4" stroke-linejoin="round"/>
<path d="M92.88 419.71V452.84M128.06 430.92V452.6M144.69 421.88V441.16M157.94 432.12V439.95M155.53 436.7V446.34M164.33 426.7V445.98M179.27 433.08V440.31M182.76 426.1V434.53M200.59 443.93V468.02M200.95 452.36V459.59M222.04 445.13V468.63M229.87 447.54V455.37M231.31 454.17V461.4M239.04 457.27V478.95M241.08 469.67V474.49M256.27 466.9V488.59M252.05 480.28V483.89M257.95 486.18V491M260.12 481.36V495.82M262.77 483.77V488.59M264.94 491.96V495.58M270.36 494.01V500.04M271.2 494.37V497.99M276.99 460.64V489.55M267.95 503.05V512.69M277.83 498.59V504.61M278.43 502.2V508.23M284.58 486.54V496.18M284.22 501V505.82M286.02 497.99V510.04M297.71 507.87V515.1M305.9 500.16V524.25M289.22 525.38V540.29" stroke="#000" stroke-width="1.3" fill="none"/>
<g fill="none" stroke="#000" stroke-width="1.3"><circle cx="92.88" cy="436.58" r="1.7"/><circle cx="128.06" cy="441.76" r="1.7"/><circle cx="144.69" cy="431.52" r="1.7"/><circle cx="157.94" cy="436.34" r="1.7"/><circle cx="155.53" cy="441.52" r="1.7"/><circle cx="164.33" cy="436.34" r="1.7"/><circle cx="179.27" cy="436.7" r="1.7"/><circle cx="182.76" cy="430.31" r="1.7"/><circle cx="200.59" cy="455.98" r="1.7"/><circle cx="200.95" cy="455.98" r="1.7"/><circle cx="222.04" cy="457.18" r="1.7"/><circle cx="229.87" cy="451.76" r="1.7"/><circle cx="231.31" cy="457.18" r="1.7"/><circle cx="239.04" cy="468.11" r="1.7"/><circle cx="241.08" cy="472.08" r="1.7"/><circle cx="256.27" cy="477.75" r="1.7"/><circle cx="252.05" cy="482.08" r="1.7"/><circle cx="257.95" cy="488.59" r="1.7"/><circle cx="260.12" cy="488.59" r="1.7"/><circle cx="262.77" cy="486.18" r="1.7"/><circle cx="264.94" cy="493.77" r="1.7"/><circle cx="270.36" cy="497.02" r="1.7"/><circle cx="271.2" cy="496.18" r="1.7"/><circle cx="276.99" cy="475.1" r="1.7"/><circle cx="267.95" cy="507.87" r="1.7"/><circle cx="277.83" cy="501.6" r="1.7"/><circle cx="278.43" cy="505.22" r="1.7"/><circle cx="284.58" cy="491.36" r="1.7"/><circle cx="284.22" cy="503.41" r="1.7"/><circle cx="286.02" cy="504.01" r="1.7"/><circle cx="297.71" cy="511.48" r="1.7"/><circle cx="305.9" cy="514.61" r="1.7"/><circle cx="289.22" cy="533.33" r="1.7"/></g>
</g>
<g clip-path="url(#c21)">
<polygon points="316.6,423.7 318.3,424 320,424.4 321.7,424.7 323.3,425 325,425.4 326.7,425.7 328.4,426 330.1,426.4 331.7,426.7 333.4,427 335.1,427.4 336.8,427.7 338.4,428 340.1,428.4 341.8,428.7 343.5,429.1 345.1,429.4 346.8,429.7 348.5,430.1 350.1,430.4 351.8,430.8 353.5,431.2 355.1,431.5 356.8,431.9 358.4,432.3 360.1,432.6 361.8,433 363.4,433.4 365,433.8 366.7,434.2 368.3,434.6 370,435 371.6,435.4 373.2,435.8 374.9,436.2 376.5,436.6 378.1,437 379.8,437.4 381.4,437.8 383,438.3 384.6,438.7 386.2,439.1 387.8,439.6 389.5,440 391.1,440.4 392.7,440.8 394.3,441.3 395.9,441.7 397.6,442.1 399.2,442.5 400.8,443 402.4,443.4 404.1,443.8 405.7,444.2 407.3,444.6 409,445 410.6,445.4 412.2,445.9 413.8,446.3 415.5,446.7 417.1,447.1 418.7,447.5 420.3,448 421.9,448.4 423.5,448.9 425.1,449.3 426.7,449.8 428.3,450.2 429.9,450.7 431.5,451.2 433.1,451.7 434.6,452.2 436.2,452.7 437.8,453.3 439.3,453.8 440.8,454.4 442.4,455 443.9,455.5 445.4,456.1 446.9,456.8 448.4,457.4 449.9,458 451.4,458.7 452.8,459.3 454.3,460 455.8,460.7 457.2,461.4 458.6,462.1 460.1,462.9 461.5,463.6 462.9,464.3 464.3,465.1 465.7,465.9 467.1,466.7 468.5,467.4 469.9,468.2 471.3,469 472.7,469.8 474.1,470.7 475.4,471.5 476.8,472.3 478.2,473.2 479.5,474 480.8,474.9 482.2,475.8 483.5,476.8 484.7,477.7 486,478.7 487.3,479.7 488.5,480.7 489.7,481.8 490.9,482.9 492.1,484 493.3,485.2 494.5,486.3 495.6,487.5 496.7,488.7 497.8,490 498.9,491.3 500,492.5 501.1,493.9 502.1,495.2 503.2,496.5 504.2,497.9 505.2,499.3 506.2,500.7 507.2,502.1 508.2,503.6 509.2,505 510.2,506.5 511.1,508 512.1,509.5 513,511 513.9,512.5 514.9,514.1 515.8,515.6 516.7,517.2 517.6,518.8 518.4,520.4 519.3,522 520.2,523.7 521,525.3 521.9,527 522.7,528.6 523.6,530.3 524.4,532 525.3,533.6 526.1,535.3 526.9,537 527.8,538.7 528.6,540.4 529.4,542.1 530.2,543.8 531.1,545.5 531.9,547.2 532.7,548.9 533.5,550.6 534.4,552.3 535.2,554 536,555.7 536.9,557.4 537.7,559.1 538.5,560.8 539.3,562.5 540.2,564.2 541,565.9 541.8,567.6 542.6,569.3 543.5,571 544.3,572.6 545.1,574.3 545.9,576 546.8,577.7 547.6,579.4 548.4,581.1 549.2,582.8 550.1,584.5 550.9,586.2 551.7,587.9 552.6,589.6 495.4,583.5 494.4,582 493.5,580.5 492.5,579 491.6,577.5 490.6,576 489.7,574.5 488.7,573 487.8,571.5 486.8,570.1 485.9,568.6 484.9,567.1 484,565.6 483,564.1 482.1,562.6 481.1,561.1 480.2,559.6 479.2,558.1 478.2,556.6 477.3,555.1 476.3,553.6 475.4,552.1 474.4,550.6 473.5,549.1 472.5,547.6 471.6,546.1 470.6,544.6 469.7,543.1 468.7,541.6 467.8,540.1 466.8,538.6 465.9,537.1 464.9,535.6 464,534.1 463.1,532.5 462.2,531 461.3,529.4 460.4,527.8 459.5,526.2 458.6,524.6 457.7,523 456.9,521.4 456,519.7 455.1,518.1 454.3,516.4 453.4,514.8 452.6,513.1 451.7,511.5 450.9,509.8 450,508.2 449.1,506.6 448.3,504.9 447.4,503.3 446.5,501.7 445.6,500.1 444.7,498.5 443.8,496.9 442.9,495.3 442,493.8 441.1,492.3 440.1,490.7 439.2,489.2 438.2,487.8 437.3,486.3 436.3,484.9 435.3,483.5 434.2,482.1 433.2,480.8 432.1,479.4 431.1,478.1 430,476.9 428.9,475.6 427.7,474.4 426.6,473.2 425.4,472 424.3,470.9 423.1,469.7 421.9,468.6 420.7,467.6 419.4,466.5 418.2,465.5 416.9,464.5 415.7,463.5 414.4,462.6 413.1,461.6 411.7,460.7 410.4,459.8 409.1,459 407.7,458.2 406.3,457.3 404.9,456.5 403.5,455.8 402.1,455 400.7,454.3 399.2,453.6 397.8,452.9 396.3,452.2 394.8,451.5 393.4,450.9 391.9,450.3 390.4,449.7 388.8,449 387.3,448.5 385.8,447.9 384.3,447.3 382.7,446.8 381.2,446.2 379.6,445.7 378.1,445.2 376.5,444.7 374.9,444.1 373.4,443.6 371.8,443.1 370.3,442.6 368.7,442.1 367.1,441.6 365.6,441 364,440.5 362.4,440 360.8,439.6 359.2,439.1 357.7,438.6 356.1,438.1 354.5,437.6 352.9,437.2 351.3,436.7 349.7,436.3 348,435.9 346.4,435.4 344.8,435 343.2,434.6 341.5,434.2 339.9,433.8 338.3,433.4 336.6,433 335,432.6 333.3,432.2 331.7,431.9 330,431.5 328.4,431.1 326.7,430.7 325.1,430.4 323.4,430 321.7,429.6 320.1,429.3 318.4,428.9 316.8,428.5" fill="url(#hb)" stroke="none"/>
<polyline points="316.6,423.7 318.3,424 320,424.4 321.7,424.7 323.3,425 325,425.4 326.7,425.7 328.4,426 330.1,426.4 331.7,426.7 333.4,427 335.1,427.4 336.8,427.7 338.4,428 340.1,428.4 341.8,428.7 343.5,429.1 345.1,429.4 346.8,429.7 348.5,430.1 350.1,430.4 351.8,430.8 353.5,431.2 355.1,431.5 356.8,431.9 358.4,432.3 360.1,432.6 361.8,433 363.4,433.4 365,433.8 366.7,434.2 368.3,434.6 370,435 371.6,435.4 373.2,435.8 374.9,436.2 376.5,436.6 378.1,437 379.8,437.4 381.4,437.8 383,438.3 384.6,438.7 386.2,439.1 387.8,439.6 389.5,440 391.1,440.4 392.7,440.8 394.3,441.3 395.9,441.7 397.6,442.1 399.2,442.5 400.8,443 402.4,443.4 404.1,443.8 405.7,444.2 407.3,444.6 409,445 410.6,445.4 412.2,445.9 413.8,446.3 415.5,446.7 417.1,447.1 418.7,447.5 420.3,448 421.9,448.4 423.5,448.9 425.1,449.3 426.7,449.8 428.3,450.2 429.9,450.7 431.5,451.2 433.1,451.7 434.6,452.2 436.2,452.7 437.8,453.3 439.3,453.8 440.8,454.4 442.4,455 443.9,455.5 445.4,456.1 446.9,456.8 448.4,457.4 449.9,458 451.4,458.7 452.8,459.3 454.3,460 455.8,460.7 457.2,461.4 458.6,462.1 460.1,462.9 461.5,463.6 462.9,464.3 464.3,465.1 465.7,465.9 467.1,466.7 468.5,467.4 469.9,468.2 471.3,469 472.7,469.8 474.1,470.7 475.4,471.5 476.8,472.3 478.2,473.2 479.5,474 480.8,474.9 482.2,475.8 483.5,476.8 484.7,477.7 486,478.7 487.3,479.7 488.5,480.7 489.7,481.8 490.9,482.9 492.1,484 493.3,485.2 494.5,486.3 495.6,487.5 496.7,488.7 497.8,490 498.9,491.3 500,492.5 501.1,493.9 502.1,495.2 503.2,496.5 504.2,497.9 505.2,499.3 506.2,500.7 507.2,502.1 508.2,503.6 509.2,505 510.2,506.5 511.1,508 512.1,509.5 513,511 513.9,512.5 514.9,514.1 515.8,515.6 516.7,517.2 517.6,518.8 518.4,520.4 519.3,522 520.2,523.7 521,525.3 521.9,527 522.7,528.6 523.6,530.3 524.4,532 525.3,533.6 526.1,535.3 526.9,537 527.8,538.7 528.6,540.4 529.4,542.1 530.2,543.8 531.1,545.5 531.9,547.2 532.7,548.9 533.5,550.6 534.4,552.3 535.2,554 536,555.7 536.9,557.4 537.7,559.1 538.5,560.8 539.3,562.5 540.2,564.2 541,565.9 541.8,567.6 542.6,569.3 543.5,571 544.3,572.6 545.1,574.3 545.9,576 546.8,577.7 547.6,579.4 548.4,581.1 549.2,582.8 550.1,584.5 550.9,586.2 551.7,587.9 552.6,589.6" fill="none" stroke="#0000ff" stroke-width="2.4" stroke-linejoin="round"/>
<polyline points="316.8,428.5 318.4,428.9 320.1,429.3 321.7,429.6 323.4,430 325.1,430.4 326.7,430.7 328.4,431.1 330,431.5 331.7,431.9 333.3,432.2 335,432.6 336.6,433 338.3,433.4 339.9,433.8 341.5,434.2 343.2,434.6 344.8,435 346.4,435.4 348,435.9 349.7,436.3 351.3,436.7 352.9,437.2 354.5,437.6 356.1,438.1 357.7,438.6 359.2,439.1 360.8,439.6 362.4,440 364,440.5 365.6,441 367.1,441.6 368.7,442.1 370.3,442.6 371.8,443.1 373.4,443.6 374.9,444.1 376.5,444.7 378.1,445.2 379.6,445.7 381.2,446.2 382.7,446.8 384.3,447.3 385.8,447.9 387.3,448.5 388.8,449 390.4,449.7 391.9,450.3 393.4,450.9 394.8,451.5 396.3,452.2 397.8,452.9 399.2,453.6 400.7,454.3 402.1,455 403.5,455.8 404.9,456.5 406.3,457.3 407.7,458.2 409.1,459 410.4,459.8 411.7,460.7 413.1,461.6 414.4,462.6 415.7,463.5 416.9,464.5 418.2,465.5 419.4,466.5 420.7,467.6 421.9,468.6 423.1,469.7 424.3,470.9 425.4,472 426.6,473.2 427.7,474.4 428.9,475.6 430,476.9 431.1,478.1 432.1,479.4 433.2,480.8 434.2,482.1 435.3,483.5 436.3,484.9 437.3,486.3 438.2,487.8 439.2,489.2 440.1,490.7 441.1,492.3 442,493.8 442.9,495.3 443.8,496.9 444.7,498.5 445.6,500.1 446.5,501.7 447.4,503.3 448.3,504.9 449.1,506.6 450,508.2 450.9,509.8 451.7,511.5 452.6,513.1 453.4,514.8 454.3,516.4 455.1,518.1 456,519.7 456.9,521.4 457.7,523 458.6,524.6 459.5,526.2 460.4,527.8 461.3,529.4 462.2,531 463.1,532.5 464,534.1 464.9,535.6 465.9,537.1 466.8,538.6 467.8,540.1 468.7,541.6 469.7,543.1 470.6,544.6 471.6,546.1 472.5,547.6 473.5,549.1 474.4,550.6 475.4,552.1 476.3,553.6 477.3,555.1 478.2,556.6 479.2,558.1 480.2,559.6 481.1,561.1 482.1,562.6 483,564.1 484,565.6 484.9,567.1 485.9,568.6 486.8,570.1 487.8,571.5 488.7,573 489.7,574.5 490.6,576 491.6,577.5 492.5,579 493.5,580.5 494.4,582 495.4,583.5" fill="none" stroke="#0000ff" stroke-width="2.4" stroke-linejoin="round"/>
<polygon points="314.3,454.8 316.4,454.4 318.6,453.9 320.8,453.5 322.9,453 325.1,452.6 327.3,452.1 329.4,451.7 331.6,451.3 333.7,450.9 335.8,450.6 337.8,450.3 339.8,450.2 341.8,450 343.7,450 345.6,450 347.4,450.1 349.2,450.2 351,450.4 352.7,450.6 354.4,450.9 356.1,451.2 357.8,451.6 359.5,451.9 361.2,452.2 362.9,452.5 364.6,452.7 366.4,453 368.1,453.2 369.9,453.3 371.7,453.5 373.5,453.6 375.3,453.8 377.1,453.9 378.9,454 380.8,454 382.6,454.1 384.5,454.1 386.5,454 388.4,453.9 390.4,453.7 392.5,453.4 394.6,453.1 396.6,452.8 398.7,452.5 400.9,452.1 403,451.7 405.1,451.4 407.2,451 409.3,450.6 411.4,450.3 413.5,450 415.6,449.7 417.6,449.4 419.7,449.1 421.7,448.9 423.7,448.7 425.7,448.6 427.6,448.5 429.6,448.4 431.5,448.4 433.4,448.4 435.3,448.4 437.1,448.4 438.9,448.5 440.7,448.7 442.5,448.8 444.3,449 446.1,449.2 447.8,449.4 449.5,449.7 451.2,450 452.9,450.3 454.6,450.7 456.2,451 457.9,451.4 459.5,451.8 461.2,452.2 462.8,452.7 464.4,453.1 466,453.6 467.6,454 469.2,454.5 470.7,455 472.3,455.5 473.9,456 475.5,456.5 477,457 478.6,457.5 480.1,458.1 481.7,458.6 483.2,459.2 484.7,459.9 486.2,460.5 487.7,461.1 489.1,461.8 490.6,462.5 492,463.3 493.4,464 494.8,464.8 496.2,465.6 497.5,466.4 498.9,467.3 500.2,468.2 501.6,469.1 502.9,470 504.2,471 505.4,471.9 506.7,472.9 508,473.9 509.2,474.9 510.5,476 511.7,477.1 512.9,478.1 514.1,479.2 515.3,480.3 516.5,481.5 517.6,482.6 518.8,483.7 520,484.9 521.1,486.1 522.3,487.3 523.4,488.5 524.5,489.7 525.7,490.9 526.8,492.1 527.9,493.3 529,494.6 530.1,495.8 531.3,497 532.4,498.3 533.5,499.5 534.6,500.8 535.7,502.1 536.8,503.3 537.9,504.6 539,505.9 540,507.1 541.1,508.4 542.2,509.7 543.3,511 544.4,512.3 545.5,513.6 546.5,514.9 547.6,516.2 548.7,517.5 549.7,518.8 550.8,520.1 551.8,521.5 552.9,522.9 553.9,524.2 554.9,525.6 555.9,527 556.9,528.4 557.9,529.8 558.9,531.3 559.9,532.7 560.9,534.1 561.9,535.6 562.9,537 563.8,538.5 564.8,540 565.8,541.4 566.8,542.9 567.7,544.3 568.7,545.8 569.7,547.3 570.6,548.7 571.6,550.2 572.6,551.7 573.6,553.1 574.5,554.6 575.5,556 576.5,557.5 577.5,559 578.4,560.4 579.4,561.9 580.4,563.4 581.3,564.8 582.3,566.3 583.3,567.8 584.3,569.2 585.2,570.7 586.2,572.1 587.2,573.6 588.2,575.1 589.1,576.5 590.1,578 591.1,579.5 592,580.9 593,582.4 535.2,581.8 534.2,580.4 533.2,579 532.2,577.5 531.3,576.1 530.3,574.7 529.3,573.3 528.3,571.9 527.3,570.4 526.3,569 525.3,567.6 524.3,566.2 523.3,564.8 522.3,563.3 521.3,561.9 520.3,560.5 519.3,559.1 518.3,557.7 517.3,556.2 516.3,554.8 515.3,553.4 514.3,552 513.3,550.6 512.3,549.1 511.3,547.7 510.3,546.3 509.3,544.9 508.3,543.5 507.3,542 506.3,540.6 505.3,539.2 504.3,537.8 503.3,536.4 502.3,534.9 501.3,533.5 500.3,532.1 499.3,530.7 498.3,529.3 497.3,527.8 496.3,526.4 495.3,525 494.3,523.6 493.3,522.2 492.3,520.8 491.3,519.4 490.3,517.9 489.2,516.5 488.2,515.2 487.2,513.8 486.2,512.4 485.1,511.1 484.1,509.7 483,508.4 481.9,507.1 480.8,505.8 479.7,504.6 478.6,503.4 477.5,502.2 476.3,501 475.1,499.9 474,498.7 472.8,497.6 471.5,496.6 470.3,495.5 469.1,494.5 467.8,493.4 466.6,492.4 465.3,491.4 464.1,490.4 462.8,489.4 461.5,488.5 460.2,487.5 458.9,486.5 457.6,485.6 456.3,484.6 455,483.7 453.8,482.8 452.4,481.8 451.1,480.9 449.8,480 448.5,479.1 447.2,478.2 445.8,477.3 444.5,476.5 443.1,475.7 441.7,474.9 440.3,474.1 438.9,473.4 437.4,472.6 436,472 434.5,471.3 433,470.7 431.4,470.2 429.8,469.7 428.3,469.2 426.6,468.8 425,468.4 423.3,468.1 421.6,467.8 419.9,467.5 418.1,467.3 416.3,467.1 414.5,467 412.7,467 410.8,466.9 408.9,466.9 407,467 405.1,467.1 403.1,467.2 401.2,467.3 399.2,467.4 397.3,467.4 395.4,467.5 393.4,467.6 391.5,467.6 389.7,467.6 387.8,467.5 386,467.4 384.2,467.3 382.4,467.2 380.6,467 378.8,466.8 377,466.6 375.3,466.4 373.5,466.3 371.7,466.1 369.9,465.9 368.1,465.8 366.4,465.6 364.6,465.4 362.9,465.1 361.2,464.8 359.5,464.5 357.8,464.2 356.1,463.9 354.4,463.6 352.7,463.3 351,463 349.3,462.7 347.5,462.5 345.7,462.4 343.9,462.3 342,462.3 340.1,462.4 338.1,462.6 336,462.9 333.9,463.2 331.7,463.6 329.6,464.1 327.4,464.6 325.1,465.2 322.9,465.7 320.7,466.2 318.5,466.8 316.3,467.3 314,467.8" fill="url(#hr)" stroke="none"/>
<polyline points="314.3,454.8 316.4,454.4 318.6,453.9 320.8,453.5 322.9,453 325.1,452.6 327.3,452.1 329.4,451.7 331.6,451.3 333.7,450.9 335.8,450.6 337.8,450.3 339.8,450.2 341.8,450 343.7,450 345.6,450 347.4,450.1 349.2,450.2 351,450.4 352.7,450.6 354.4,450.9 356.1,451.2 357.8,451.6 359.5,451.9 361.2,452.2 362.9,452.5 364.6,452.7 366.4,453 368.1,453.2 369.9,453.3 371.7,453.5 373.5,453.6 375.3,453.8 377.1,453.9 378.9,454 380.8,454 382.6,454.1 384.5,454.1 386.5,454 388.4,453.9 390.4,453.7 392.5,453.4 394.6,453.1 396.6,452.8 398.7,452.5 400.9,452.1 403,451.7 405.1,451.4 407.2,451 409.3,450.6 411.4,450.3 413.5,450 415.6,449.7 417.6,449.4 419.7,449.1 421.7,448.9 423.7,448.7 425.7,448.6 427.6,448.5 429.6,448.4 431.5,448.4 433.4,448.4 435.3,448.4 437.1,448.4 438.9,448.5 440.7,448.7 442.5,448.8 444.3,449 446.1,449.2 447.8,449.4 449.5,449.7 451.2,450 452.9,450.3 454.6,450.7 456.2,451 457.9,451.4 459.5,451.8 461.2,452.2 462.8,452.7 464.4,453.1 466,453.6 467.6,454 469.2,454.5 470.7,455 472.3,455.5 473.9,456 475.5,456.5 477,457 478.6,457.5 480.1,458.1 481.7,458.6 483.2,459.2 484.7,459.9 486.2,460.5 487.7,461.1 489.1,461.8 490.6,462.5 492,463.3 493.4,464 494.8,464.8 496.2,465.6 497.5,466.4 498.9,467.3 500.2,468.2 501.6,469.1 502.9,470 504.2,471 505.4,471.9 506.7,472.9 508,473.9 509.2,474.9 510.5,476 511.7,477.1 512.9,478.1 514.1,479.2 515.3,480.3 516.5,481.5 517.6,482.6 518.8,483.7 520,484.9 521.1,486.1 522.3,487.3 523.4,488.5 524.5,489.7 525.7,490.9 526.8,492.1 527.9,493.3 529,494.6 530.1,495.8 531.3,497 532.4,498.3 533.5,499.5 534.6,500.8 535.7,502.1 536.8,503.3 537.9,504.6 539,505.9 540,507.1 541.1,508.4 542.2,509.7 543.3,511 544.4,512.3 545.5,513.6 546.5,514.9 547.6,516.2 548.7,517.5 549.7,518.8 550.8,520.1 551.8,521.5 552.9,522.9 553.9,524.2 554.9,525.6 555.9,527 556.9,528.4 557.9,529.8 558.9,531.3 559.9,532.7 560.9,534.1 561.9,535.6 562.9,537 563.8,538.5 564.8,540 565.8,541.4 566.8,542.9 567.7,544.3 568.7,545.8 569.7,547.3 570.6,548.7 571.6,550.2 572.6,551.7 573.6,553.1 574.5,554.6 575.5,556 576.5,557.5 577.5,559 578.4,560.4 579.4,561.9 580.4,563.4 581.3,564.8 582.3,566.3 583.3,567.8 584.3,569.2 585.2,570.7 586.2,572.1 587.2,573.6 588.2,575.1 589.1,576.5 590.1,578 591.1,579.5 592,580.9 593,582.4" fill="none" stroke="#ff0000" stroke-width="2.4" stroke-linejoin="round"/>
<polyline points="314,467.8 316.3,467.3 318.5,466.8 320.7,466.2 322.9,465.7 325.1,465.2 327.4,464.6 329.6,464.1 331.7,463.6 333.9,463.2 336,462.9 338.1,462.6 340.1,462.4 342,462.3 343.9,462.3 345.7,462.4 347.5,462.5 349.3,462.7 351,463 352.7,463.3 354.4,463.6 356.1,463.9 357.8,464.2 359.5,464.5 361.2,464.8 362.9,465.1 364.6,465.4 366.4,465.6 368.1,465.8 369.9,465.9 371.7,466.1 373.5,466.3 375.3,466.4 377,466.6 378.8,466.8 380.6,467 382.4,467.2 384.2,467.3 386,467.4 387.8,467.5 389.7,467.6 391.5,467.6 393.4,467.6 395.4,467.5 397.3,467.4 399.2,467.4 401.2,467.3 403.1,467.2 405.1,467.1 407,467 408.9,466.9 410.8,466.9 412.7,467 414.5,467 416.3,467.1 418.1,467.3 419.9,467.5 421.6,467.8 423.3,468.1 425,468.4 426.6,468.8 428.3,469.2 429.8,469.7 431.4,470.2 433,470.7 434.5,471.3 436,472 437.4,472.6 438.9,473.4 440.3,474.1 441.7,474.9 443.1,475.7 444.5,476.5 445.8,477.3 447.2,478.2 448.5,479.1 449.8,480 451.1,480.9 452.4,481.8 453.8,482.8 455,483.7 456.3,484.6 457.6,485.6 458.9,486.5 460.2,487.5 461.5,488.5 462.8,489.4 464.1,490.4 465.3,491.4 466.6,492.4 467.8,493.4 469.1,494.5 470.3,495.5 471.5,496.6 472.8,497.6 474,498.7 475.1,499.9 476.3,501 477.5,502.2 478.6,503.4 479.7,504.6 480.8,505.8 481.9,507.1 483,508.4 484.1,509.7 485.1,511.1 486.2,512.4 487.2,513.8 488.2,515.2 489.2,516.5 490.3,517.9 491.3,519.4 492.3,520.8 493.3,522.2 494.3,523.6 495.3,525 496.3,526.4 497.3,527.8 498.3,529.3 499.3,530.7 500.3,532.1 501.3,533.5 502.3,534.9 503.3,536.4 504.3,537.8 505.3,539.2 506.3,540.6 507.3,542 508.3,543.5 509.3,544.9 510.3,546.3 511.3,547.7 512.3,549.1 513.3,550.6 514.3,552 515.3,553.4 516.3,554.8 517.3,556.2 518.3,557.7 519.3,559.1 520.3,560.5 521.3,561.9 522.3,563.3 523.3,564.8 524.3,566.2 525.3,567.6 526.3,569 527.3,570.4 528.3,571.9 529.3,573.3 530.3,574.7 531.3,576.1 532.2,577.5 533.2,579 534.2,580.4 535.2,581.8" fill="none" stroke="#ff0000" stroke-width="2.4" stroke-linejoin="round"/>
<path d="M396.45 423.2V443.08M398.13 424.29V453.2M431.87 447.54V467.42M507.95 469.92V486.78M510.12 481.48V509.19M516.39 501.6V506.42M523.13 501.24V504.86M521.81 504.98V513.41M529.64 510.04V518.47M535.66 510.04V523.89M536.02 513.65V519.67" stroke="#000" stroke-width="1.1" fill="none"/>
<g fill="none" stroke="#000" stroke-width="0.85"><circle cx="396.45" cy="433.45" r="1.55"/><circle cx="398.13" cy="438.75" r="1.55"/><circle cx="431.87" cy="457.78" r="1.55"/><circle cx="507.95" cy="480.76" r="1.55"/><circle cx="510.12" cy="497.14" r="1.55"/><circle cx="516.39" cy="504.01" r="1.55"/><circle cx="523.13" cy="503.05" r="1.55"/><circle cx="521.81" cy="507.39" r="1.55"/><circle cx="529.64" cy="514.25" r="1.55"/><circle cx="535.66" cy="516.66" r="1.55"/><circle cx="536.02" cy="516.66" r="1.55"/></g>
</g>
<g clip-path="url(#c22)">
<polygon points="568.8,421.7 570.4,422.1 572.1,422.4 573.7,422.8 575.4,423.2 577.1,423.5 578.7,423.9 580.4,424.3 582,424.6 583.7,425 585.3,425.4 587,425.8 588.6,426.1 590.3,426.5 591.9,426.9 593.6,427.3 595.2,427.7 596.8,428.1 598.5,428.5 600.1,428.9 601.7,429.4 603.3,429.8 604.9,430.2 606.6,430.7 608.2,431.1 609.8,431.6 611.4,432 613,432.5 614.5,433 616.1,433.5 617.7,433.9 619.3,434.4 620.9,434.9 622.5,435.4 624.1,435.9 625.6,436.4 627.2,436.9 628.8,437.4 630.4,437.8 632,438.3 633.5,438.8 635.1,439.3 636.7,439.8 638.2,440.3 639.8,440.8 641.4,441.4 643,441.9 644.5,442.4 646.1,442.9 647.7,443.4 649.2,443.9 650.8,444.5 652.3,445 653.9,445.5 655.4,446 657,446.6 658.6,447.1 660.1,447.6 661.7,448.2 663.2,448.7 664.7,449.3 666.3,449.8 667.8,450.4 669.4,450.9 670.9,451.4 672.5,452 674,452.6 675.6,453.1 677.1,453.7 678.6,454.2 680.2,454.8 681.7,455.3 683.2,455.9 684.8,456.5 686.3,457.1 687.8,457.6 689.3,458.2 690.9,458.8 692.4,459.4 693.9,460 695.4,460.6 696.9,461.2 698.4,461.8 699.9,462.5 701.4,463.1 702.9,463.7 704.3,464.4 705.8,465 707.3,465.7 708.8,466.4 710.2,467.1 711.7,467.8 713.1,468.5 714.6,469.2 716,469.9 717.4,470.6 718.9,471.4 720.3,472.1 721.7,472.9 723.1,473.7 724.5,474.5 725.9,475.3 727.2,476.1 728.6,476.9 730,477.8 731.3,478.6 732.6,479.5 734,480.4 735.3,481.3 736.6,482.2 737.9,483.2 739.2,484.1 740.5,485.1 741.7,486.1 743,487.1 744.2,488.2 745.4,489.2 746.7,490.3 747.9,491.4 749.1,492.5 750.2,493.6 751.4,494.8 752.6,495.9 753.7,497.1 754.8,498.3 755.9,499.6 757,500.8 758.1,502.1 759.2,503.4 760.3,504.7 761.3,506.1 762.4,507.4 763.4,508.8 764.4,510.2 765.4,511.7 766.3,513.1 767.3,514.6 768.2,516.2 769.2,517.7 770.1,519.3 771,520.8 771.8,522.4 772.7,524.1 773.6,525.7 774.4,527.3 775.3,529 776.1,530.7 777,532.3 777.8,534 778.7,535.7 779.5,537.4 780.3,539.1 781.1,540.8 782,542.5 782.8,544.1 783.6,545.8 784.5,547.5 785.3,549.2 786.1,550.9 787,552.6 787.8,554.3 788.6,556 789.4,557.7 790.3,559.4 791.1,561.1 791.9,562.8 792.8,564.4 793.6,566.1 794.4,567.8 795.3,569.5 796.1,571.2 796.9,572.9 797.7,574.6 798.6,576.3 799.4,578 800.2,579.7 801.1,581.4 801.9,583.1 802.7,584.7 803.5,586.4 804.4,588.1 805.2,589.8 711.2,589.4 710.4,587.7 709.5,586 708.7,584.3 707.9,582.6 707.1,580.9 706.2,579.2 705.4,577.5 704.6,575.8 703.8,574.1 703,572.4 702.1,570.7 701.3,569 700.5,567.3 699.7,565.6 698.8,563.9 698,562.2 697.2,560.5 696.4,558.8 695.5,557.1 694.7,555.4 693.9,553.7 693.1,552 692.3,550.3 691.4,548.6 690.6,546.9 689.8,545.2 689,543.5 688.1,541.8 687.3,540.1 686.5,538.3 685.7,536.6 684.9,534.9 684,533.2 683.2,531.5 682.5,529.7 681.7,527.9 680.9,526.2 680.1,524.4 679.3,522.6 678.6,520.8 677.8,519 677,517.3 676.2,515.5 675.4,513.8 674.6,512 673.8,510.3 673,508.6 672.2,506.9 671.3,505.3 670.4,503.7 669.5,502.1 668.6,500.5 667.7,499 666.7,497.5 665.7,496.1 664.7,494.7 663.7,493.3 662.6,492 661.6,490.7 660.5,489.4 659.3,488.2 658.2,487 657,485.8 655.9,484.7 654.7,483.6 653.5,482.5 652.3,481.4 651,480.3 649.8,479.3 648.6,478.2 647.3,477.2 646.1,476.2 644.9,475.1 643.6,474.1 642.4,473.1 641.1,472 639.9,471 638.7,470 637.4,468.9 636.2,467.9 634.9,466.9 633.7,465.9 632.4,464.9 631.1,463.9 629.8,462.9 628.5,462 627.2,461.1 625.9,460.2 624.6,459.3 623.2,458.4 621.9,457.5 620.5,456.7 619.1,455.9 617.7,455.1 616.3,454.4 614.9,453.6 613.5,452.9 612,452.2 610.5,451.5 609.1,450.9 607.6,450.2 606.1,449.6 604.6,449 603.1,448.4 601.6,447.8 600,447.2 598.5,446.7 597,446.1 595.4,445.6 593.9,445 592.3,444.5 590.8,443.9 589.3,443.3 587.7,442.8 586.2,442.2 584.6,441.7 583.1,441.1 581.6,440.6 580,440 578.5,439.4 577,438.9 575.4,438.3 573.9,437.7 572.4,437.2 570.8,436.6 569.3,436" fill="url(#hb)" stroke="none"/>
<polyline points="568.8,421.7 570.4,422.1 572.1,422.4 573.7,422.8 575.4,423.2 577.1,423.5 578.7,423.9 580.4,424.3 582,424.6 583.7,425 585.3,425.4 587,425.8 588.6,426.1 590.3,426.5 591.9,426.9 593.6,427.3 595.2,427.7 596.8,428.1 598.5,428.5 600.1,428.9 601.7,429.4 603.3,429.8 604.9,430.2 606.6,430.7 608.2,431.1 609.8,431.6 611.4,432 613,432.5 614.5,433 616.1,433.5 617.7,433.9 619.3,434.4 620.9,434.9 622.5,435.4 624.1,435.9 625.6,436.4 627.2,436.9 628.8,437.4 630.4,437.8 632,438.3 633.5,438.8 635.1,439.3 636.7,439.8 638.2,440.3 639.8,440.8 641.4,441.4 643,441.9 644.5,442.4 646.1,442.9 647.7,443.4 649.2,443.9 650.8,444.5 652.3,445 653.9,445.5 655.4,446 657,446.6 658.6,447.1 660.1,447.6 661.7,448.2 663.2,448.7 664.7,449.3 666.3,449.8 667.8,450.4 669.4,450.9 670.9,451.4 672.5,452 674,452.6 675.6,453.1 677.1,453.7 678.6,454.2 680.2,454.8 681.7,455.3 683.2,455.9 684.8,456.5 686.3,457.1 687.8,457.6 689.3,458.2 690.9,458.8 692.4,459.4 693.9,460 695.4,460.6 696.9,461.2 698.4,461.8 699.9,462.5 701.4,463.1 702.9,463.7 704.3,464.4 705.8,465 707.3,465.7 708.8,466.4 710.2,467.1 711.7,467.8 713.1,468.5 714.6,469.2 716,469.9 717.4,470.6 718.9,471.4 720.3,472.1 721.7,472.9 723.1,473.7 724.5,474.5 725.9,475.3 727.2,476.1 728.6,476.9 730,477.8 731.3,478.6 732.6,479.5 734,480.4 735.3,481.3 736.6,482.2 737.9,483.2 739.2,484.1 740.5,485.1 741.7,486.1 743,487.1 744.2,488.2 745.4,489.2 746.7,490.3 747.9,491.4 749.1,492.5 750.2,493.6 751.4,494.8 752.6,495.9 753.7,497.1 754.8,498.3 755.9,499.6 757,500.8 758.1,502.1 759.2,503.4 760.3,504.7 761.3,506.1 762.4,507.4 763.4,508.8 764.4,510.2 765.4,511.7 766.3,513.1 767.3,514.6 768.2,516.2 769.2,517.7 770.1,519.3 771,520.8 771.8,522.4 772.7,524.1 773.6,525.7 774.4,527.3 775.3,529 776.1,530.7 777,532.3 777.8,534 778.7,535.7 779.5,537.4 780.3,539.1 781.1,540.8 782,542.5 782.8,544.1 783.6,545.8 784.5,547.5 785.3,549.2 786.1,550.9 787,552.6 787.8,554.3 788.6,556 789.4,557.7 790.3,559.4 791.1,561.1 791.9,562.8 792.8,564.4 793.6,566.1 794.4,567.8 795.3,569.5 796.1,571.2 796.9,572.9 797.7,574.6 798.6,576.3 799.4,578 800.2,579.7 801.1,581.4 801.9,583.1 802.7,584.7 803.5,586.4 804.4,588.1 805.2,589.8" fill="none" stroke="#0000ff" stroke-width="2.4" stroke-linejoin="round"/>
<polyline points="569.3,436 570.8,436.6 572.4,437.2 573.9,437.7 575.4,438.3 577,438.9 578.5,439.4 580,440 581.6,440.6 583.1,441.1 584.6,441.7 586.2,442.2 587.7,442.8 589.3,443.3 590.8,443.9 592.3,444.5 593.9,445 595.4,445.6 597,446.1 598.5,446.7 600,447.2 601.6,447.8 603.1,448.4 604.6,449 606.1,449.6 607.6,450.2 609.1,450.9 610.5,451.5 612,452.2 613.5,452.9 614.9,453.6 616.3,454.4 617.7,455.1 619.1,455.9 620.5,456.7 621.9,457.5 623.2,458.4 624.6,459.3 625.9,460.2 627.2,461.1 628.5,462 629.8,462.9 631.1,463.9 632.4,464.9 633.7,465.9 634.9,466.9 636.2,467.9 637.4,468.9 638.7,470 639.9,471 641.1,472 642.4,473.1 643.6,474.1 644.9,475.1 646.1,476.2 647.3,477.2 648.6,478.2 649.8,479.3 651,480.3 652.3,481.4 653.5,482.5 654.7,483.6 655.9,484.7 657,485.8 658.2,487 659.3,488.2 660.5,489.4 661.6,490.7 662.6,492 663.7,493.3 664.7,494.7 665.7,496.1 666.7,497.5 667.7,499 668.6,500.5 669.5,502.1 670.4,503.7 671.3,505.3 672.2,506.9 673,508.6 673.8,510.3 674.6,512 675.4,513.8 676.2,515.5 677,517.3 677.8,519 678.6,520.8 679.3,522.6 680.1,524.4 680.9,526.2 681.7,527.9 682.5,529.7 683.2,531.5 684,533.2 684.9,534.9 685.7,536.6 686.5,538.3 687.3,540.1 688.1,541.8 689,543.5 689.8,545.2 690.6,546.9 691.4,548.6 692.3,550.3 693.1,552 693.9,553.7 694.7,555.4 695.5,557.1 696.4,558.8 697.2,560.5 698,562.2 698.8,563.9 699.7,565.6 700.5,567.3 701.3,569 702.1,570.7 703,572.4 703.8,574.1 704.6,575.8 705.4,577.5 706.2,579.2 707.1,580.9 707.9,582.6 708.7,584.3 709.5,586 710.4,587.7 711.2,589.4" fill="none" stroke="#0000ff" stroke-width="2.4" stroke-linejoin="round"/>
<polygon points="566,448.9 568.2,448.4 570.4,447.8 572.7,447.3 574.9,446.8 577.1,446.2 579.3,445.7 581.5,445.2 583.7,444.7 585.9,444.2 588,443.8 590.1,443.5 592.2,443.2 594.2,443.1 596.1,443 598,442.9 599.9,443 601.7,443.1 603.5,443.2 605.3,443.4 607,443.7 608.7,444 610.4,444.4 612,444.7 613.6,445.1 615.2,445.6 616.8,446 618.4,446.5 620,447 621.6,447.5 623.1,448.1 624.7,448.6 626.2,449.2 627.7,449.7 629.3,450.3 630.8,450.8 632.4,451.4 633.9,451.9 635.5,452.4 637.1,452.8 638.7,453.3 640.4,453.6 642.1,454 643.7,454.3 645.5,454.6 647.2,454.8 649,455 650.8,455.1 652.6,455.2 654.5,455.3 656.3,455.3 658.2,455.3 660.1,455.3 662,455.3 663.9,455.2 665.8,455.2 667.8,455.1 669.7,455.1 671.6,455 673.6,454.9 675.5,454.8 677.5,454.7 679.4,454.6 681.3,454.6 683.3,454.5 685.2,454.5 687.1,454.5 688.9,454.5 690.8,454.5 692.6,454.6 694.5,454.7 696.3,454.8 698.1,454.9 699.9,455 701.7,455.2 703.4,455.4 705.2,455.6 706.9,455.9 708.6,456.2 710.3,456.4 712,456.8 713.7,457.1 715.4,457.4 717,457.8 718.7,458.2 720.3,458.6 721.9,459.1 723.5,459.5 725.1,460 726.7,460.5 728.2,461 729.8,461.6 731.3,462.1 732.8,462.7 734.4,463.3 735.8,463.9 737.3,464.6 738.8,465.2 740.3,465.9 741.7,466.6 743.2,467.3 744.6,468.1 746,468.8 747.4,469.6 748.8,470.4 750.2,471.2 751.5,472 752.9,472.9 754.2,473.8 755.6,474.7 756.9,475.6 758.2,476.5 759.5,477.4 760.8,478.4 762,479.4 763.3,480.4 764.6,481.4 765.8,482.4 767,483.5 768.3,484.5 769.5,485.6 770.7,486.7 771.9,487.8 773,488.9 774.2,490.1 775.4,491.2 776.5,492.4 777.7,493.6 778.8,494.8 780,496 781.1,497.2 782.2,498.5 783.3,499.7 784.4,500.9 785.5,502.2 786.6,503.5 787.7,504.8 788.8,506 789.9,507.3 790.9,508.6 792,509.9 793.1,511.2 794.1,512.6 795.2,513.9 796.2,515.2 797.3,516.5 798.4,517.9 799.4,519.2 800.5,520.6 801.5,521.9 802.6,523.2 803.6,524.6 804.7,525.9 805.7,527.2 806.8,528.6 807.8,529.9 808.9,531.2 809.9,532.5 811,533.9 812.1,535.2 813.1,536.5 814.2,537.8 815.3,539.1 816.4,540.4 817.4,541.7 818.5,543 819.6,544.3 820.7,545.6 821.7,546.9 822.8,548.2 823.9,549.5 824.9,550.8 826,552.1 827.1,553.4 828.2,554.7 829.2,556 830.3,557.3 831.4,558.6 832.5,559.9 833.5,561.2 834.6,562.5 835.7,563.8 836.8,565.1 837.8,566.4 838.9,567.7 840,569 841,570.3 842.1,571.6 843.2,572.9 844.3,574.2 845.3,575.5 846.4,576.8 847.5,578.1 759,575.6 757.9,574.4 756.7,573.3 755.6,572.1 754.5,570.9 753.3,569.7 752.2,568.5 751.1,567.3 749.9,566.1 748.8,564.9 747.6,563.7 746.5,562.5 745.4,561.3 744.2,560.1 743.1,558.9 741.9,557.7 740.8,556.5 739.7,555.3 738.5,554.1 737.4,552.9 736.3,551.7 735.1,550.5 734,549.3 732.8,548.1 731.7,546.9 730.6,545.7 729.4,544.5 728.3,543.3 727.1,542.1 726,540.9 724.9,539.7 723.7,538.5 722.6,537.3 721.5,536.1 720.3,534.9 719.2,533.7 718.1,532.5 716.9,531.3 715.8,530 714.7,528.8 713.6,527.6 712.5,526.3 711.4,525.1 710.3,523.8 709.2,522.5 708.1,521.3 707,520 705.9,518.8 704.8,517.6 703.6,516.3 702.5,515.1 701.4,513.9 700.2,512.7 699.1,511.5 697.9,510.4 696.7,509.3 695.6,508.1 694.4,507 693.2,505.9 691.9,504.9 690.7,503.8 689.4,502.8 688.2,501.8 686.9,500.8 685.7,499.8 684.4,498.8 683.1,497.9 681.8,496.9 680.5,496 679.2,495.1 677.9,494.2 676.5,493.3 675.2,492.4 673.8,491.6 672.4,490.8 671,490.1 669.6,489.3 668.2,488.6 666.7,487.8 665.3,487.1 663.9,486.4 662.4,485.7 661,484.9 659.6,484.2 658.1,483.5 656.6,482.8 655.2,482.2 653.7,481.6 652.2,481 650.6,480.4 649.1,479.9 647.5,479.4 645.9,478.9 644.3,478.4 642.7,477.9 641.1,477.5 639.6,476.9 638,476.4 636.5,475.9 635,475.3 633.5,474.6 632,473.9 630.6,473.2 629.2,472.4 627.8,471.7 626.4,470.9 625,470.1 623.5,469.4 622.1,468.7 620.7,468 619.2,467.3 617.7,466.7 616.2,466.1 614.7,465.5 613.1,464.9 611.6,464.4 610,463.9 608.4,463.4 606.8,462.9 605.2,462.5 603.5,462.1 601.8,461.9 600.1,461.6 598.3,461.5 596.5,461.4 594.6,461.4 592.6,461.6 590.6,461.8 588.5,462.1 586.3,462.6 584.1,463.1 581.8,463.8 579.5,464.4 577.2,465.1 574.9,465.8 572.5,466.5 570.2,467.2 567.9,467.8 565.6,468.5" fill="url(#hr)" stroke="none"/>
<polyline points="566,448.9 568.2,448.4 570.4,447.8 572.7,447.3 574.9,446.8 577.1,446.2 579.3,445.7 581.5,445.2 583.7,444.7 585.9,444.2 588,443.8 590.1,443.5 592.2,443.2 594.2,443.1 596.1,443 598,442.9 599.9,443 601.7,443.1 603.5,443.2 605.3,443.4 607,443.7 608.7,444 610.4,444.4 612,444.7 613.6,445.1 615.2,445.6 616.8,446 618.4,446.5 620,447 621.6,447.5 623.1,448.1 624.7,448.6 626.2,449.2 627.7,449.7 629.3,450.3 630.8,450.8 632.4,451.4 633.9,451.9 635.5,452.4 637.1,452.8 638.7,453.3 640.4,453.6 642.1,454 643.7,454.3 645.5,454.6 647.2,454.8 649,455 650.8,455.1 652.6,455.2 654.5,455.3 656.3,455.3 658.2,455.3 660.1,455.3 662,455.3 663.9,455.2 665.8,455.2 667.8,455.1 669.7,455.1 671.6,455 673.6,454.9 675.5,454.8 677.5,454.7 679.4,454.6 681.3,454.6 683.3,454.5 685.2,454.5 687.1,454.5 688.9,454.5 690.8,454.5 692.6,454.6 694.5,454.7 696.3,454.8 698.1,454.9 699.9,455 701.7,455.2 703.4,455.4 705.2,455.6 706.9,455.9 708.6,456.2 710.3,456.4 712,456.8 713.7,457.1 715.4,457.4 717,457.8 718.7,458.2 720.3,458.6 721.9,459.1 723.5,459.5 725.1,460 726.7,460.5 728.2,461 729.8,461.6 731.3,462.1 732.8,462.7 734.4,463.3 735.8,463.9 737.3,464.6 738.8,465.2 740.3,465.9 741.7,466.6 743.2,467.3 744.6,468.1 746,468.8 747.4,469.6 748.8,470.4 750.2,471.2 751.5,472 752.9,472.9 754.2,473.8 755.6,474.7 756.9,475.6 758.2,476.5 759.5,477.4 760.8,478.4 762,479.4 763.3,480.4 764.6,481.4 765.8,482.4 767,483.5 768.3,484.5 769.5,485.6 770.7,486.7 771.9,487.8 773,488.9 774.2,490.1 775.4,491.2 776.5,492.4 777.7,493.6 778.8,494.8 780,496 781.1,497.2 782.2,498.5 783.3,499.7 784.4,500.9 785.5,502.2 786.6,503.5 787.7,504.8 788.8,506 789.9,507.3 790.9,508.6 792,509.9 793.1,511.2 794.1,512.6 795.2,513.9 796.2,515.2 797.3,516.5 798.4,517.9 799.4,519.2 800.5,520.6 801.5,521.9 802.6,523.2 803.6,524.6 804.7,525.9 805.7,527.2 806.8,528.6 807.8,529.9 808.9,531.2 809.9,532.5 811,533.9 812.1,535.2 813.1,536.5 814.2,537.8 815.3,539.1 816.4,540.4 817.4,541.7 818.5,543 819.6,544.3 820.7,545.6 821.7,546.9 822.8,548.2 823.9,549.5 824.9,550.8 826,552.1 827.1,553.4 828.2,554.7 829.2,556 830.3,557.3 831.4,558.6 832.5,559.9 833.5,561.2 834.6,562.5 835.7,563.8 836.8,565.1 837.8,566.4 838.9,567.7 840,569 841,570.3 842.1,571.6 843.2,572.9 844.3,574.2 845.3,575.5 846.4,576.8 847.5,578.1" fill="none" stroke="#ff0000" stroke-width="2.4" stroke-linejoin="round"/>
<polyline points="565.6,468.5 567.9,467.8 570.2,467.2 572.5,466.5 574.9,465.8 577.2,465.1 579.5,464.4 581.8,463.8 584.1,463.1 586.3,462.6 588.5,462.1 590.6,461.8 592.6,461.6 594.6,461.4 596.5,461.4 598.3,461.5 600.1,461.6 601.8,461.9 603.5,462.1 605.2,462.5 606.8,462.9 608.4,463.4 610,463.9 611.6,464.4 613.1,464.9 614.7,465.5 616.2,466.1 617.7,466.7 619.2,467.3 620.7,468 622.1,468.7 623.5,469.4 625,470.1 626.4,470.9 627.8,471.7 629.2,472.4 630.6,473.2 632,473.9 633.5,474.6 635,475.3 636.5,475.9 638,476.4 639.6,476.9 641.1,477.5 642.7,477.9 644.3,478.4 645.9,478.9 647.5,479.4 649.1,479.9 650.6,480.4 652.2,481 653.7,481.6 655.2,482.2 656.6,482.8 658.1,483.5 659.6,484.2 661,484.9 662.4,485.7 663.9,486.4 665.3,487.1 666.7,487.8 668.2,488.6 669.6,489.3 671,490.1 672.4,490.8 673.8,491.6 675.2,492.4 676.5,493.3 677.9,494.2 679.2,495.1 680.5,496 681.8,496.9 683.1,497.9 684.4,498.8 685.7,499.8 686.9,500.8 688.2,501.8 689.4,502.8 690.7,503.8 691.9,504.9 693.2,505.9 694.4,507 695.6,508.1 696.7,509.3 697.9,510.4 699.1,511.5 700.2,512.7 701.4,513.9 702.5,515.1 703.6,516.3 704.8,517.6 705.9,518.8 707,520 708.1,521.3 709.2,522.5 710.3,523.8 711.4,525.1 712.5,526.3 713.6,527.6 714.7,528.8 715.8,530 716.9,531.3 718.1,532.5 719.2,533.7 720.3,534.9 721.5,536.1 722.6,537.3 723.7,538.5 724.9,539.7 726,540.9 727.1,542.1 728.3,543.3 729.4,544.5 730.6,545.7 731.7,546.9 732.8,548.1 734,549.3 735.1,550.5 736.3,551.7 737.4,552.9 738.5,554.1 739.7,555.3 740.8,556.5 741.9,557.7 743.1,558.9 744.2,560.1 745.4,561.3 746.5,562.5 747.6,563.7 748.8,564.9 749.9,566.1 751.1,567.3 752.2,568.5 753.3,569.7 754.5,570.9 755.6,572.1 756.7,573.3 757.9,574.4 759,575.6" fill="none" stroke="#ff0000" stroke-width="2.4" stroke-linejoin="round"/>
<path d="M649.76 426.46V455.37M766.39 498.67V520.36M780.36 520.84V529.28M788.55 528.07V531.69M805.3 536.87V544.7" stroke="#000" stroke-width="1.3" fill="none"/>
<g fill="none" stroke="#000" stroke-width="1.3"><circle cx="649.76" cy="440.92" r="1.7"/><circle cx="766.39" cy="509.52" r="1.7"/><circle cx="780.36" cy="525.06" r="1.7"/><circle cx="788.55" cy="529.88" r="1.7"/><circle cx="805.3" cy="544.7" r="1.7"/></g>
</g>
<path d="M73 1.4V542.5M324.7 1.4V542.5M576.7 1.4V542.5M828.3 1.4V542.5M73 1.4H828.3M73 181.6H828.3M73 362.3H828.3M73 542.5H828.3M78.59 1.4V3.2M78.59 179.8V183.4M78.59 360.5V364.1M78.59 540.7V542.5M84.19 1.4V3.2M84.19 179.8V183.4M84.19 360.5V364.1M84.19 540.7V542.5M89.78 1.4V3.2M89.78 179.8V183.4M89.78 360.5V364.1M89.78 540.7V542.5M95.37 1.4V3.2M95.37 179.8V183.4M95.37 360.5V364.1M95.37 540.7V542.5M100.97 1.4V3.2M100.97 179.8V183.4M100.97 360.5V364.1M100.97 540.7V542.5M106.56 1.4V3.2M106.56 179.8V183.4M106.56 360.5V364.1M106.56 540.7V542.5M112.15 1.4V3.2M112.15 179.8V183.4M112.15 360.5V364.1M112.15 540.7V542.5M117.75 1.4V3.2M117.75 179.8V183.4M117.75 360.5V364.1M117.75 540.7V542.5M123.34 1.4V5M123.34 178V185.2M123.34 358.7V365.9M123.34 538.9V542.5M128.93 1.4V3.2M128.93 179.8V183.4M128.93 360.5V364.1M128.93 540.7V542.5M134.53 1.4V3.2M134.53 179.8V183.4M134.53 360.5V364.1M134.53 540.7V542.5M140.12 1.4V3.2M140.12 179.8V183.4M140.12 360.5V364.1M140.12 540.7V542.5M145.71 1.4V3.2M145.71 179.8V183.4M145.71 360.5V364.1M145.71 540.7V542.5M151.31 1.4V3.2M151.31 179.8V183.4M151.31 360.5V364.1M151.31 540.7V542.5M156.9 1.4V3.2M156.9 179.8V183.4M156.9 360.5V364.1M156.9 540.7V542.5M162.49 1.4V3.2M162.49 179.8V183.4M162.49 360.5V364.1M162.49 540.7V542.5M168.09 1.4V3.2M168.09 179.8V183.4M168.09 360.5V364.1M168.09 540.7V542.5M173.68 1.4V3.2M173.68 179.8V183.4M173.68 360.5V364.1M173.68 540.7V542.5M179.27 1.4V5M179.27 178V185.2M179.27 358.7V365.9M179.27 538.9V542.5M184.87 1.4V3.2M184.87 179.8V183.4M184.87 360.5V364.1M184.87 540.7V542.5M190.46 1.4V3.2M190.46 179.8V183.4M190.46 360.5V364.1M190.46 540.7V542.5M196.05 1.4V3.2M196.05 179.8V183.4M196.05 360.5V364.1M196.05 540.7V542.5M201.65 1.4V3.2M201.65 179.8V183.4M201.65 360.5V364.1M201.65 540.7V542.5M207.24 1.4V3.2M207.24 179.8V183.4M207.24 360.5V364.1M207.24 540.7V542.5M212.83 1.4V3.2M212.83 179.8V183.4M212.83 360.5V364.1M212.83 540.7V542.5M218.43 1.4V3.2M218.43 179.8V183.4M218.43 360.5V364.1M218.43 540.7V542.5M224.02 1.4V3.2M224.02 179.8V183.4M224.02 360.5V364.1M224.02 540.7V542.5M229.61 1.4V3.2M229.61 179.8V183.4M229.61 360.5V364.1M229.61 540.7V542.5M235.21 1.4V5M235.21 178V185.2M235.21 358.7V365.9M235.21 538.9V542.5M240.8 1.4V3.2M240.8 179.8V183.4M240.8 360.5V364.1M240.8 540.7V542.5M246.39 1.4V3.2M246.39 179.8V183.4M246.39 360.5V364.1M246.39 540.7V542.5M251.99 1.4V3.2M251.99 179.8V183.4M251.99 360.5V364.1M251.99 540.7V542.5M257.58 1.4V3.2M257.58 179.8V183.4M257.58 360.5V364.1M257.58 540.7V542.5M263.17 1.4V3.2M263.17 179.8V183.4M263.17 360.5V364.1M263.17 540.7V542.5M268.77 1.4V3.2M268.77 179.8V183.4M268.77 360.5V364.1M268.77 540.7V542.5M274.36 1.4V3.2M274.36 179.8V183.4M274.36 360.5V364.1M274.36 540.7V542.5M279.95 1.4V3.2M279.95 179.8V183.4M279.95 360.5V364.1M279.95 540.7V542.5M285.55 1.4V3.2M285.55 179.8V183.4M285.55 360.5V364.1M285.55 540.7V542.5M291.14 1.4V5M291.14 178V185.2M291.14 358.7V365.9M291.14 538.9V542.5M296.73 1.4V3.2M296.73 179.8V183.4M296.73 360.5V364.1M296.73 540.7V542.5M302.33 1.4V3.2M302.33 179.8V183.4M302.33 360.5V364.1M302.33 540.7V542.5M307.92 1.4V3.2M307.92 179.8V183.4M307.92 360.5V364.1M307.92 540.7V542.5M313.51 1.4V3.2M313.51 179.8V183.4M313.51 360.5V364.1M313.51 540.7V542.5M319.11 1.4V3.2M319.11 179.8V183.4M319.11 360.5V364.1M319.11 540.7V542.5M330.3 1.4V3.2M330.3 179.8V183.4M330.3 360.5V364.1M330.3 540.7V542.5M335.9 1.4V3.2M335.9 179.8V183.4M335.9 360.5V364.1M335.9 540.7V542.5M341.5 1.4V3.2M341.5 179.8V183.4M341.5 360.5V364.1M341.5 540.7V542.5M347.1 1.4V3.2M347.1 179.8V183.4M347.1 360.5V364.1M347.1 540.7V542.5M352.7 1.4V3.2M352.7 179.8V183.4M352.7 360.5V364.1M352.7 540.7V542.5M358.3 1.4V3.2M358.3 179.8V183.4M358.3 360.5V364.1M358.3 540.7V542.5M363.9 1.4V3.2M363.9 179.8V183.4M363.9 360.5V364.1M363.9 540.7V542.5M369.5 1.4V3.2M369.5 179.8V183.4M369.5 360.5V364.1M369.5 540.7V542.5M375.1 1.4V5M375.1 178V185.2M375.1 358.7V365.9M375.1 538.9V542.5M380.7 1.4V3.2M380.7 179.8V183.4M380.7 360.5V364.1M380.7 540.7V542.5M386.3 1.4V3.2M386.3 179.8V183.4M386.3 360.5V364.1M386.3 540.7V542.5M391.9 1.4V3.2M391.9 179.8V183.4M391.9 360.5V364.1M391.9 540.7V542.5M397.5 1.4V3.2M397.5 179.8V183.4M397.5 360.5V364.1M397.5 540.7V542.5M403.1 1.4V3.2M403.1 179.8V183.4M403.1 360.5V364.1M403.1 540.7V542.5M408.7 1.4V3.2M408.7 179.8V183.4M408.7 360.5V364.1M408.7 540.7V542.5M414.3 1.4V3.2M414.3 179.8V183.4M414.3 360.5V364.1M414.3 540.7V542.5M419.9 1.4V3.2M419.9 179.8V183.4M419.9 360.5V364.1M419.9 540.7V542.5M425.5 1.4V3.2M425.5 179.8V183.4M425.5 360.5V364.1M425.5 540.7V542.5M431.1 1.4V5M431.1 178V185.2M431.1 358.7V365.9M431.1 538.9V542.5M436.7 1.4V3.2M436.7 179.8V183.4M436.7 360.5V364.1M436.7 540.7V542.5M442.3 1.4V3.2M442.3 179.8V183.4M442.3 360.5V364.1M442.3 540.7V542.5M447.9 1.4V3.2M447.9 179.8V183.4M447.9 360.5V364.1M447.9 540.7V542.5M453.5 1.4V3.2M453.5 179.8V183.4M453.5 360.5V364.1M453.5 540.7V542.5M459.1 1.4V3.2M459.1 179.8V183.4M459.1 360.5V364.1M459.1 540.7V542.5M464.7 1.4V3.2M464.7 179.8V183.4M464.7 360.5V364.1M464.7 540.7V542.5M470.3 1.4V3.2M470.3 179.8V183.4M470.3 360.5V364.1M470.3 540.7V542.5M475.9 1.4V3.2M475.9 179.8V183.4M475.9 360.5V364.1M475.9 540.7V542.5M481.5 1.4V3.2M481.5 179.8V183.4M481.5 360.5V364.1M481.5 540.7V542.5M487.1 1.4V5M487.1 178V185.2M487.1 358.7V365.9M487.1 538.9V542.5M492.7 1.4V3.2M492.7 179.8V183.4M492.7 360.5V364.1M492.7 540.7V542.5M498.3 1.4V3.2M498.3 179.8V183.4M498.3 360.5V364.1M498.3 540.7V542.5M503.9 1.4V3.2M503.9 179.8V183.4M503.9 360.5V364.1M503.9 540.7V542.5M509.5 1.4V3.2M509.5 179.8V183.4M509.5 360.5V364.1M509.5 540.7V542.5M515.1 1.4V3.2M515.1 179.8V183.4M515.1 360.5V364.1M515.1 540.7V542.5M520.7 1.4V3.2M520.7 179.8V183.4M520.7 360.5V364.1M520.7 540.7V542.5M526.3 1.4V3.2M526.3 179.8V183.4M526.3 360.5V364.1M526.3 540.7V542.5M531.9 1.4V3.2M531.9 179.8V183.4M531.9 360.5V364.1M531.9 540.7V542.5M537.5 1.4V3.2M537.5 179.8V183.4M537.5 360.5V364.1M537.5 540.7V542.5M543.1 1.4V5M543.1 178V185.2M543.1 358.7V365.9M543.1 538.9V542.5M548.7 1.4V3.2M548.7 179.8V183.4M548.7 360.5V364.1M548.7 540.7V542.5M554.3 1.4V3.2M554.3 179.8V183.4M554.3 360.5V364.1M554.3 540.7V542.5M559.9 1.4V3.2M559.9 179.8V183.4M559.9 360.5V364.1M559.9 540.7V542.5M565.5 1.4V3.2M565.5 179.8V183.4M565.5 360.5V364.1M565.5 540.7V542.5M571.1 1.4V3.2M571.1 179.8V183.4M571.1 360.5V364.1M571.1 540.7V542.5M582.29 1.4V3.2M582.29 179.8V183.4M582.29 360.5V364.1M582.29 540.7V542.5M587.88 1.4V3.2M587.88 179.8V183.4M587.88 360.5V364.1M587.88 540.7V542.5M593.47 1.4V3.2M593.47 179.8V183.4M593.47 360.5V364.1M593.47 540.7V542.5M599.06 1.4V3.2M599.06 179.8V183.4M599.06 360.5V364.1M599.06 540.7V542.5M604.66 1.4V3.2M604.66 179.8V183.4M604.66 360.5V364.1M604.66 540.7V542.5M610.25 1.4V3.2M610.25 179.8V183.4M610.25 360.5V364.1M610.25 540.7V542.5M615.84 1.4V3.2M615.84 179.8V183.4M615.84 360.5V364.1M615.84 540.7V542.5M621.43 1.4V3.2M621.43 179.8V183.4M621.43 360.5V364.1M621.43 540.7V542.5M627.02 1.4V5M627.02 178V185.2M627.02 358.7V365.9M627.02 538.9V542.5M632.61 1.4V3.2M632.61 179.8V183.4M632.61 360.5V364.1M632.61 540.7V542.5M638.2 1.4V3.2M638.2 179.8V183.4M638.2 360.5V364.1M638.2 540.7V542.5M643.79 1.4V3.2M643.79 179.8V183.4M643.79 360.5V364.1M643.79 540.7V542.5M649.38 1.4V3.2M649.38 179.8V183.4M649.38 360.5V364.1M649.38 540.7V542.5M654.98 1.4V3.2M654.98 179.8V183.4M654.98 360.5V364.1M654.98 540.7V542.5M660.57 1.4V3.2M660.57 179.8V183.4M660.57 360.5V364.1M660.57 540.7V542.5M666.16 1.4V3.2M666.16 179.8V183.4M666.16 360.5V364.1M666.16 540.7V542.5M671.75 1.4V3.2M671.75 179.8V183.4M671.75 360.5V364.1M671.75 540.7V542.5M677.34 1.4V3.2M677.34 179.8V183.4M677.34 360.5V364.1M677.34 540.7V542.5M682.93 1.4V5M682.93 178V185.2M682.93 358.7V365.9M682.93 538.9V542.5M688.52 1.4V3.2M688.52 179.8V183.4M688.52 360.5V364.1M688.52 540.7V542.5M694.11 1.4V3.2M694.11 179.8V183.4M694.11 360.5V364.1M694.11 540.7V542.5M699.7 1.4V3.2M699.7 179.8V183.4M699.7 360.5V364.1M699.7 540.7V542.5M705.3 1.4V3.2M705.3 179.8V183.4M705.3 360.5V364.1M705.3 540.7V542.5M710.89 1.4V3.2M710.89 179.8V183.4M710.89 360.5V364.1M710.89 540.7V542.5M716.48 1.4V3.2M716.48 179.8V183.4M716.48 360.5V364.1M716.48 540.7V542.5M722.07 1.4V3.2M722.07 179.8V183.4M722.07 360.5V364.1M722.07 540.7V542.5M727.66 1.4V3.2M727.66 179.8V183.4M727.66 360.5V364.1M727.66 540.7V542.5M733.25 1.4V3.2M733.25 179.8V183.4M733.25 360.5V364.1M733.25 540.7V542.5M738.84 1.4V5M738.84 178V185.2M738.84 358.7V365.9M738.84 538.9V542.5M744.43 1.4V3.2M744.43 179.8V183.4M744.43 360.5V364.1M744.43 540.7V542.5M750.02 1.4V3.2M750.02 179.8V183.4M750.02 360.5V364.1M750.02 540.7V542.5M755.62 1.4V3.2M755.62 179.8V183.4M755.62 360.5V364.1M755.62 540.7V542.5M761.21 1.4V3.2M761.21 179.8V183.4M761.21 360.5V364.1M761.21 540.7V542.5M766.8 1.4V3.2M766.8 179.8V183.4M766.8 360.5V364.1M766.8 540.7V542.5M772.39 1.4V3.2M772.39 179.8V183.4M772.39 360.5V364.1M772.39 540.7V542.5M777.98 1.4V3.2M777.98 179.8V183.4M777.98 360.5V364.1M777.98 540.7V542.5M783.57 1.4V3.2M783.57 179.8V183.4M783.57 360.5V364.1M783.57 540.7V542.5M789.16 1.4V3.2M789.16 179.8V183.4M789.16 360.5V364.1M789.16 540.7V542.5M794.75 1.4V5M794.75 178V185.2M794.75 358.7V365.9M794.75 538.9V542.5M800.34 1.4V3.2M800.34 179.8V183.4M800.34 360.5V364.1M800.34 540.7V542.5M805.94 1.4V3.2M805.94 179.8V183.4M805.94 360.5V364.1M805.94 540.7V542.5M811.53 1.4V3.2M811.53 179.8V183.4M811.53 360.5V364.1M811.53 540.7V542.5M817.12 1.4V3.2M817.12 179.8V183.4M817.12 360.5V364.1M817.12 540.7V542.5M822.71 1.4V3.2M822.71 179.8V183.4M822.71 360.5V364.1M822.71 540.7V542.5M73 169.59H75.5M322.2 169.59H327.2M574.2 169.59H579.2M825.8 169.59H828.3M73 157.57H78M319.7 157.57H329.7M571.7 157.57H581.7M823.3 157.57H828.3M73 145.56H75.5M322.2 145.56H327.2M574.2 145.56H579.2M825.8 145.56H828.3M73 133.55H75.5M322.2 133.55H327.2M574.2 133.55H579.2M825.8 133.55H828.3M73 121.53H75.5M322.2 121.53H327.2M574.2 121.53H579.2M825.8 121.53H828.3M73 109.52H78M319.7 109.52H329.7M571.7 109.52H581.7M823.3 109.52H828.3M73 97.51H75.5M322.2 97.51H327.2M574.2 97.51H579.2M825.8 97.51H828.3M73 85.49H75.5M322.2 85.49H327.2M574.2 85.49H579.2M825.8 85.49H828.3M73 73.48H75.5M322.2 73.48H327.2M574.2 73.48H579.2M825.8 73.48H828.3M73 61.47H78M319.7 61.47H329.7M571.7 61.47H581.7M823.3 61.47H828.3M73 49.45H75.5M322.2 49.45H327.2M574.2 49.45H579.2M825.8 49.45H828.3M73 37.44H75.5M322.2 37.44H327.2M574.2 37.44H579.2M825.8 37.44H828.3M73 25.43H75.5M322.2 25.43H327.2M574.2 25.43H579.2M825.8 25.43H828.3M73 13.41H78M319.7 13.41H329.7M571.7 13.41H581.7M823.3 13.41H828.3M73 350.25H75.5M322.2 350.25H327.2M574.2 350.25H579.2M825.8 350.25H828.3M73 338.21H78M319.7 338.21H329.7M571.7 338.21H581.7M823.3 338.21H828.3M73 326.16H75.5M322.2 326.16H327.2M574.2 326.16H579.2M825.8 326.16H828.3M73 314.11H75.5M322.2 314.11H327.2M574.2 314.11H579.2M825.8 314.11H828.3M73 302.07H75.5M322.2 302.07H327.2M574.2 302.07H579.2M825.8 302.07H828.3M73 290.02H78M319.7 290.02H329.7M571.7 290.02H581.7M823.3 290.02H828.3M73 277.97H75.5M322.2 277.97H327.2M574.2 277.97H579.2M825.8 277.97H828.3M73 265.93H75.5M322.2 265.93H327.2M574.2 265.93H579.2M825.8 265.93H828.3M73 253.88H75.5M322.2 253.88H327.2M574.2 253.88H579.2M825.8 253.88H828.3M73 241.83H78M319.7 241.83H329.7M571.7 241.83H581.7M823.3 241.83H828.3M73 229.79H75.5M322.2 229.79H327.2M574.2 229.79H579.2M825.8 229.79H828.3M73 217.74H75.5M322.2 217.74H327.2M574.2 217.74H579.2M825.8 217.74H828.3M73 205.69H75.5M322.2 205.69H327.2M574.2 205.69H579.2M825.8 205.69H828.3M73 193.65H78M319.7 193.65H329.7M571.7 193.65H581.7M823.3 193.65H828.3M73 530.49H75.5M322.2 530.49H327.2M574.2 530.49H579.2M825.8 530.49H828.3M73 518.47H78M319.7 518.47H329.7M571.7 518.47H581.7M823.3 518.47H828.3M73 506.46H75.5M322.2 506.46H327.2M574.2 506.46H579.2M825.8 506.46H828.3M73 494.45H75.5M322.2 494.45H327.2M574.2 494.45H579.2M825.8 494.45H828.3M73 482.43H75.5M322.2 482.43H327.2M574.2 482.43H579.2M825.8 482.43H828.3M73 470.42H78M319.7 470.42H329.7M571.7 470.42H581.7M823.3 470.42H828.3M73 458.41H75.5M322.2 458.41H327.2M574.2 458.41H579.2M825.8 458.41H828.3M73 446.39H75.5M322.2 446.39H327.2M574.2 446.39H579.2M825.8 446.39H828.3M73 434.38H75.5M322.2 434.38H327.2M574.2 434.38H579.2M825.8 434.38H828.3M73 422.37H78M319.7 422.37H329.7M571.7 422.37H581.7M823.3 422.37H828.3M73 410.35H75.5M322.2 410.35H327.2M574.2 410.35H579.2M825.8 410.35H828.3M73 398.34H75.5M322.2 398.34H327.2M574.2 398.34H579.2M825.8 398.34H828.3M73 386.33H75.5M322.2 386.33H327.2M574.2 386.33H579.2M825.8 386.33H828.3M73 374.31H78M319.7 374.31H329.7M571.7 374.31H581.7M823.3 374.31H828.3" stroke="#000" stroke-width="1.2" fill="none" stroke-linecap="butt"/>
<rect x="73" y="1.4" width="755.3" height="541.1" fill="none" stroke="#000" stroke-width="1.2"/>
<g font-family="'Liberation Sans', sans-serif" fill="#000">
<text x="66.5" y="21.61" font-size="23.5" text-anchor="end">-2</text>
<text x="66.5" y="69.67" font-size="23.5" text-anchor="end">-4</text>
<text x="66.5" y="117.72" font-size="23.5" text-anchor="end">-6</text>
<text x="66.5" y="165.77" font-size="23.5" text-anchor="end">-8</text>
<text x="66.5" y="201.85" font-size="23.5" text-anchor="end">-2</text>
<text x="66.5" y="250.03" font-size="23.5" text-anchor="end">-4</text>
<text x="66.5" y="298.22" font-size="23.5" text-anchor="end">-6</text>
<text x="66.5" y="346.41" font-size="23.5" text-anchor="end">-8</text>
<text x="66.5" y="382.51" font-size="23.5" text-anchor="end">-2</text>
<text x="66.5" y="430.57" font-size="23.5" text-anchor="end">-4</text>
<text x="66.5" y="478.62" font-size="23.5" text-anchor="end">-6</text>
<text x="66.5" y="526.67" font-size="23.5" text-anchor="end">-8</text>
<text x="122.94" y="572" font-size="23.5" text-anchor="middle">11</text>
<text x="178.87" y="572" font-size="23.5" text-anchor="middle">12</text>
<text x="234.81" y="572" font-size="23.5" text-anchor="middle">13</text>
<text x="290.74" y="572" font-size="23.5" text-anchor="middle">14</text>
<text x="374.7" y="572" font-size="23.5" text-anchor="middle">11</text>
<text x="430.7" y="572" font-size="23.5" text-anchor="middle">12</text>
<text x="486.7" y="572" font-size="23.5" text-anchor="middle">13</text>
<text x="542.7" y="572" font-size="23.5" text-anchor="middle">14</text>
<text x="626.62" y="572" font-size="23.5" text-anchor="middle">11</text>
<text x="682.53" y="572" font-size="23.5" text-anchor="middle">12</text>
<text x="738.44" y="572" font-size="23.5" text-anchor="middle">13</text>
<text x="794.35" y="572" font-size="23.5" text-anchor="middle">14</text>
<text x="84.8" y="172.7" font-size="22">z = 0.0</text>
<text x="567.5" y="24.9" font-size="22" text-anchor="end">z = 0.5</text>
<text x="819.1" y="24.9" font-size="22" text-anchor="end">z = 1.0</text>
<text x="315.5" y="205.1" font-size="22" text-anchor="end">z = 1.5</text>
<text x="567.5" y="205.1" font-size="22" text-anchor="end">z = 2.0</text>
<text x="819.1" y="205.1" font-size="22" text-anchor="end">z = 3.0</text>
<text x="315.5" y="385.8" font-size="22" text-anchor="end">z = 4.0</text>
<text x="567.5" y="385.8" font-size="22" text-anchor="end">z = 5.0</text>
<text x="819.1" y="385.8" font-size="22" text-anchor="end">z = 6.0</text>
<text x="205.6" y="20.8" font-size="16">Stochastic</text>
<text x="206.6" y="33.4" font-size="16">Merger-Induced</text>
<text x="385" y="600.8" font-size="21.6">log(L<tspan font-size="13.7" dy="6.3">bol</tspan><tspan dy="-6.3">)</tspan></text><text x="470.6" y="600.8" font-size="21.6">[ L</text><circle cx="500.2" cy="601.3" r="4.9" fill="none" stroke="#000" stroke-width="1.15"/><circle cx="500.2" cy="601.3" r="1.45" fill="#000"/><text x="508.6" y="600.8" font-size="21.6">]</text>
<g transform="translate(22.9,397) rotate(-90)"><text x="0" y="0" font-size="22">log(<tspan font-family="'Liberation Serif', serif">&#934;</tspan>)<tspan dx="11">[Mpc</tspan><tspan font-size="14.5" dy="-9.8">-3</tspan><tspan dy="9.8"> log</tspan><tspan font-size="14.5" dy="-9.8">-1</tspan><tspan dy="9.8">(L</tspan><tspan font-size="14.5" dy="6.3">bol</tspan><tspan dy="-6.3">)]</tspan></text></g>
</g>
<line x1="145.7" y1="16.7" x2="197" y2="16.7" stroke="#0000ff" stroke-width="3.1" stroke-dasharray="2.6 4.6"/>
<line x1="145.7" y1="30" x2="196.6" y2="30" stroke="#ff0000" stroke-width="3.1"/>
</svg>
</body></html>
